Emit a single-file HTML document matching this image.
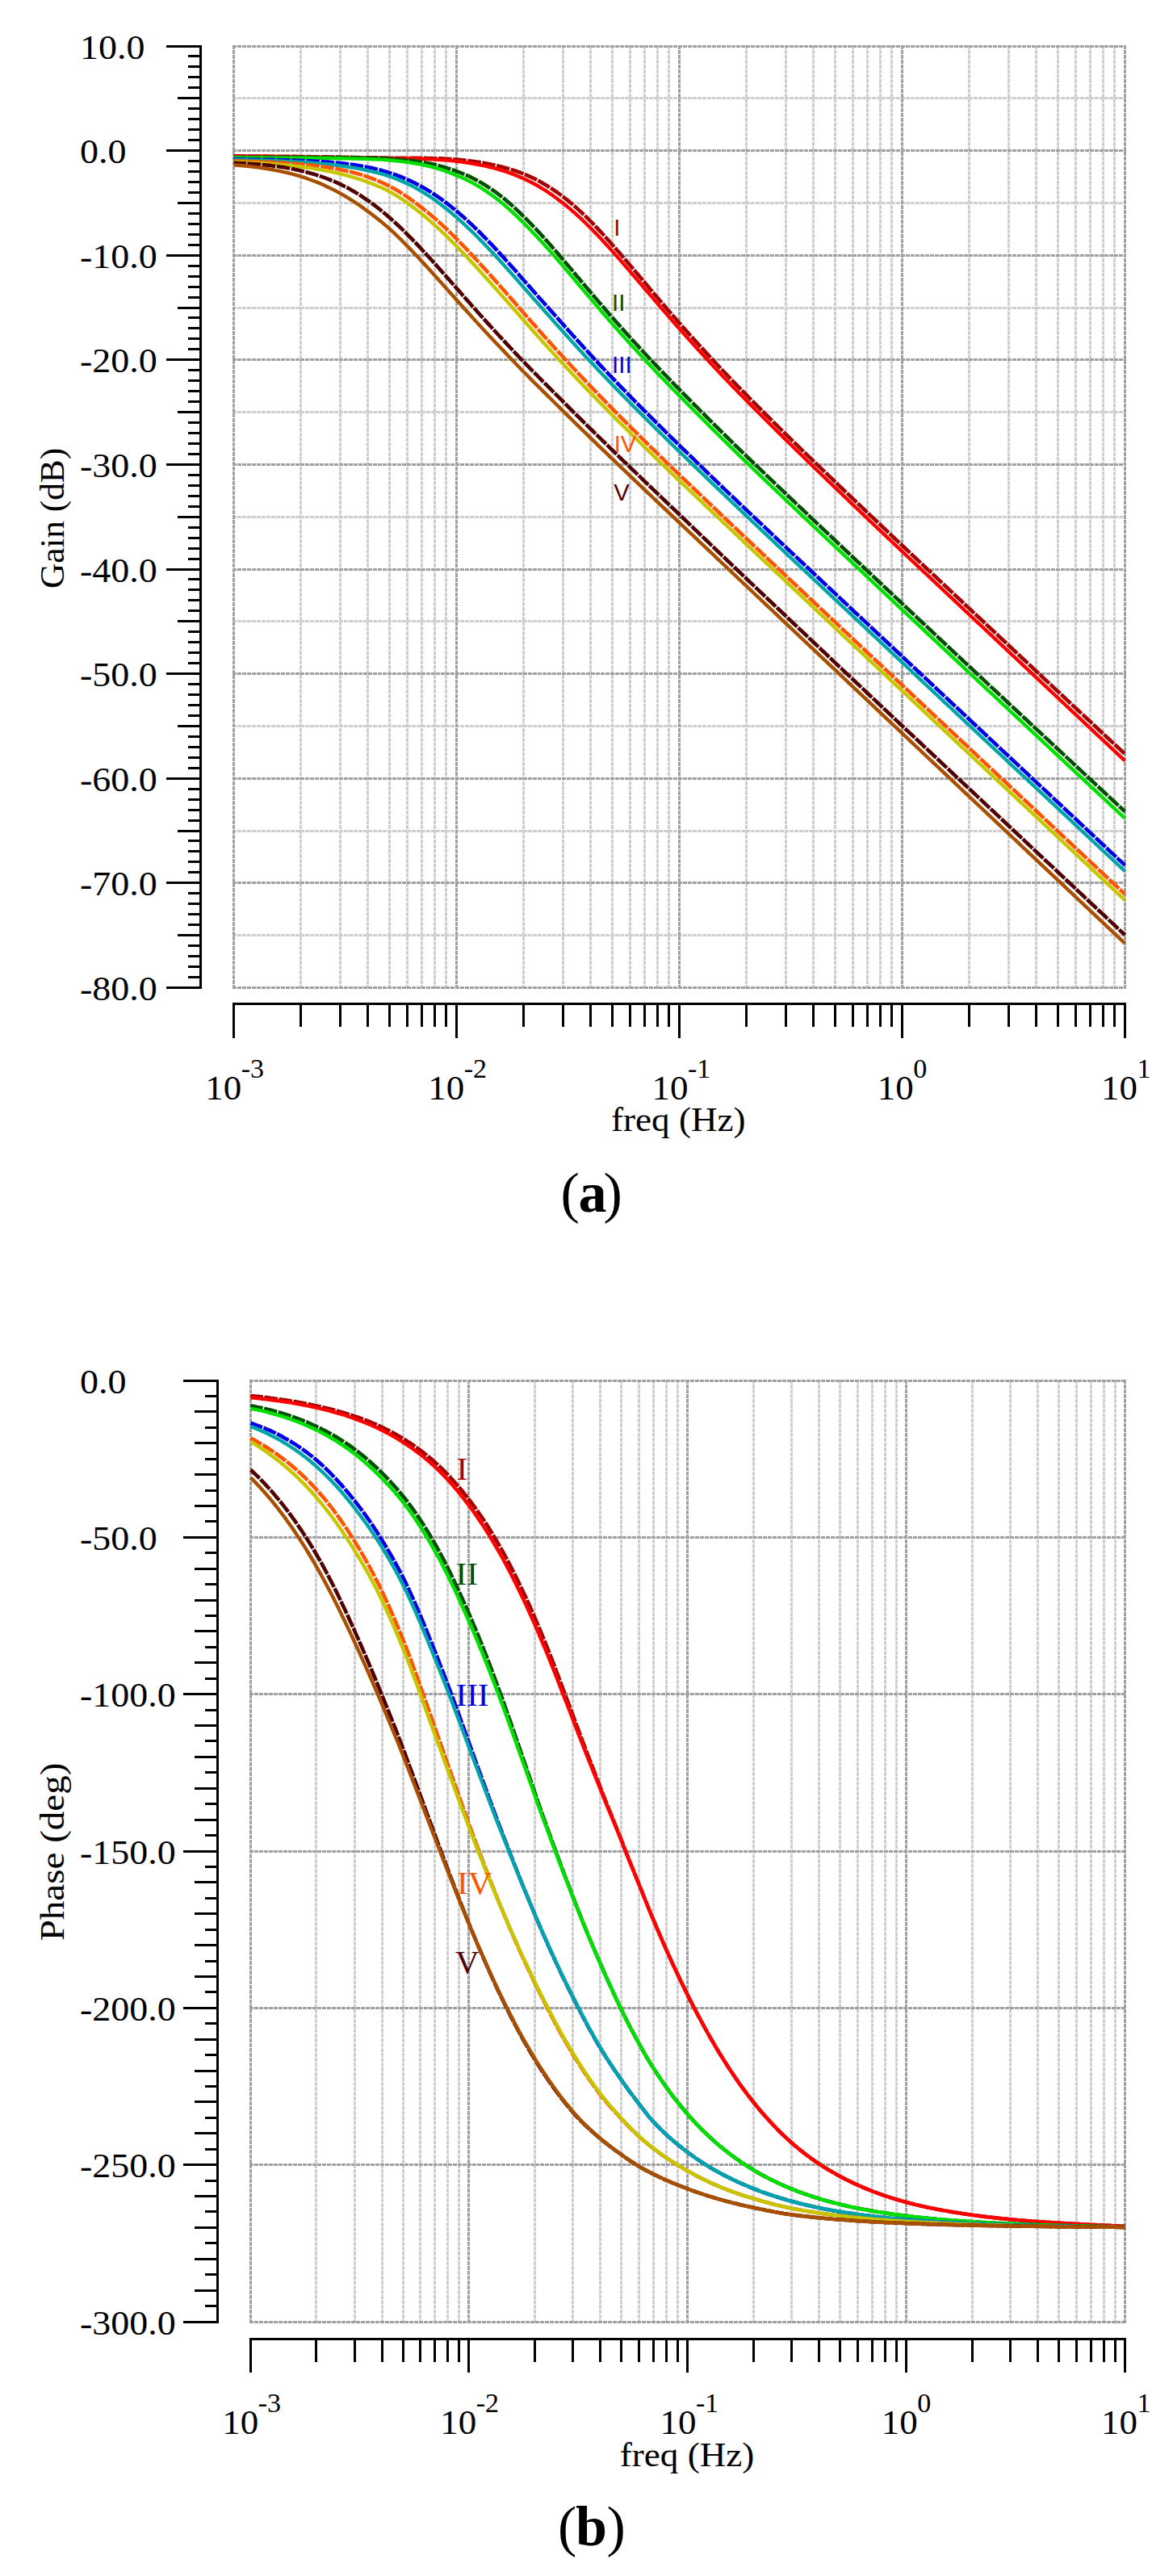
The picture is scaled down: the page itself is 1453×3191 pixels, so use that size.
<!DOCTYPE html>
<html><head><meta charset="utf-8"><title>Bode plots</title>
<style>html,body{margin:0;padding:0;background:#fff}svg{display:block}</style></head>
<body><svg width="1453" height="3191" viewBox="0 0 1453 3191">
<rect width="1453" height="3191" fill="#fff"/>
<path d="M372.5 56.0V1225.0M421.5 56.0V1225.0M455.5 56.0V1225.0M482.5 56.0V1225.0M504.5 56.0V1225.0M522.5 56.0V1225.0M538.5 56.0V1225.0M552.5 56.0V1225.0M648.5 56.0V1225.0M697.5 56.0V1225.0M731.5 56.0V1225.0M758.5 56.0V1225.0M780.5 56.0V1225.0M798.5 56.0V1225.0M814.5 56.0V1225.0M828.5 56.0V1225.0M924.5 56.0V1225.0M973.5 56.0V1225.0M1007.5 56.0V1225.0M1034.5 56.0V1225.0M1056.5 56.0V1225.0M1074.5 56.0V1225.0M1090.5 56.0V1225.0M1104.5 56.0V1225.0M1200.5 56.0V1225.0M1249.5 56.0V1225.0M1283.5 56.0V1225.0M1310.5 56.0V1225.0M1332.5 56.0V1225.0M1350.5 56.0V1225.0M1366.5 56.0V1225.0M1380.5 56.0V1225.0M288.0 121.5H1395.0M288.0 251.5H1395.0M288.0 381.5H1395.0M288.0 510.5H1395.0M288.0 640.5H1395.0M288.0 769.5H1395.0M288.0 899.5H1395.0M288.0 1029.5H1395.0M288.0 1158.5H1395.0" stroke="#cfcfcf" stroke-width="3" stroke-dasharray="5 1" fill="none" shape-rendering="crispEdges"/>
<path d="M289.5 56.0V1225.0M565.5 56.0V1225.0M841.5 56.0V1225.0M1117.5 56.0V1225.0M1393.5 56.0V1225.0M288.0 57.5H1395.0M288.0 186.5H1395.0M288.0 316.5H1395.0M288.0 445.5H1395.0M288.0 575.5H1395.0M288.0 705.5H1395.0M288.0 834.5H1395.0M288.0 964.5H1395.0M288.0 1093.5H1395.0M288.0 1223.5H1395.0" stroke="#a0a0a0" stroke-width="3" stroke-dasharray="5 1" fill="none" shape-rendering="crispEdges"/>
<clipPath id="ca"><rect x="288.5" y="57.5" width="1106.0" height="1166.0"/></clipPath>
<g clip-path="url(#ca)" fill="none">
<path d="M289.5 193.4 L292.3 193.4 L295.0 193.4 L297.8 193.4 L300.5 193.4 L303.3 193.5 L306.1 193.5 L308.8 193.5 L311.6 193.5 L314.3 193.5 L317.1 193.5 L319.9 193.6 L322.6 193.6 L325.4 193.6 L328.1 193.6 L330.9 193.6 L333.7 193.7 L336.4 193.7 L339.2 193.7 L341.9 193.7 L344.7 193.7 L347.5 193.8 L350.2 193.8 L353.0 193.8 L355.7 193.8 L358.5 193.9 L361.3 193.9 L364.0 193.9 L366.8 193.9 L369.5 194.0 L372.3 194.0 L375.1 194.0 L377.8 194.1 L380.6 194.1 L383.3 194.1 L386.1 194.2 L388.9 194.2 L391.6 194.2 L394.4 194.3 L397.1 194.3 L399.9 194.3 L402.7 194.4 L405.4 194.4 L408.2 194.5 L410.9 194.5 L413.7 194.5 L416.5 194.6 L419.2 194.6 L422.0 194.7 L424.7 194.7 L427.5 194.8 L430.3 194.8 L433.0 194.9 L435.8 194.9 L438.5 195.0 L441.3 195.0 L444.1 195.1 L446.8 195.2 L449.6 195.2 L452.3 195.2 L455.1 195.3 L457.9 195.3 L460.6 195.4 L463.4 195.4 L466.1 195.4 L468.9 195.5 L471.7 195.5 L474.4 195.6 L477.2 195.6 L479.9 195.6 L482.7 195.7 L485.5 195.7 L488.2 195.8 L491.0 195.8 L493.7 195.8 L496.5 195.8 L499.3 195.8 L502.0 195.8 L504.8 195.8 L507.5 195.8 L510.3 195.8 L513.1 195.8 L515.8 195.8 L518.6 195.8 L521.3 195.8 L524.1 195.9 L526.9 195.9 L529.6 196.0 L532.4 196.0 L535.1 196.1 L537.9 196.2 L540.7 196.2 L543.4 196.3 L546.2 196.4 L548.9 196.5 L551.7 196.7 L554.5 196.8 L557.2 197.0 L560.0 197.1 L562.7 197.4 L565.5 197.6 L568.3 197.8 L571.0 198.1 L573.8 198.4 L576.5 198.7 L579.3 199.0 L582.1 199.4 L584.8 199.7 L587.6 200.1 L590.3 200.5 L593.1 200.9 L595.9 201.3 L598.6 201.8 L601.4 202.3 L604.1 202.8 L606.9 203.3 L609.7 203.9 L612.4 204.5 L615.2 205.1 L617.9 205.8 L620.7 206.4 L623.5 207.2 L626.2 207.9 L629.0 208.7 L631.7 209.5 L634.5 210.4 L637.3 211.3 L640.0 212.2 L642.8 213.2 L645.5 214.2 L648.3 215.3 L651.1 216.4 L653.8 217.6 L656.6 218.8 L659.3 220.1 L662.1 221.4 L664.9 222.8 L667.6 224.3 L670.4 225.8 L673.1 227.4 L675.9 229.0 L678.7 230.7 L681.4 232.4 L684.2 234.2 L686.9 236.1 L689.7 238.0 L692.5 240.0 L695.2 242.0 L698.0 244.1 L700.7 246.2 L703.5 248.4 L706.3 250.7 L709.0 253.0 L711.8 255.4 L714.5 257.9 L717.3 260.4 L720.1 262.9 L722.8 265.5 L725.6 268.2 L728.3 270.9 L731.1 273.6 L733.9 276.4 L736.6 279.3 L739.4 282.2 L742.1 285.1 L744.9 288.0 L747.7 291.0 L750.4 294.1 L753.2 297.1 L755.9 300.2 L758.7 303.4 L761.5 306.5 L764.2 309.7 L767.0 312.8 L769.7 316.0 L772.5 319.3 L775.3 322.5 L778.0 325.7 L780.8 329.0 L783.5 332.2 L786.3 335.5 L789.1 338.8 L791.8 342.0 L794.6 345.3 L797.3 348.6 L800.1 351.8 L802.9 355.1 L805.6 358.4 L808.4 361.6 L811.1 364.9 L813.9 368.1 L816.7 371.4 L819.4 374.6 L822.2 377.8 L824.9 381.0 L827.7 384.3 L830.5 387.4 L833.2 390.6 L836.0 393.8 L838.7 397.0 L841.5 400.1 L844.3 403.2 L847.0 406.4 L849.8 409.5 L852.5 412.6 L855.3 415.7 L858.1 418.7 L860.8 421.8 L863.6 424.9 L866.3 427.9 L869.1 430.9 L871.9 433.9 L874.6 436.9 L877.4 439.9 L880.1 442.9 L882.9 445.9 L885.7 448.8 L888.4 451.8 L891.2 454.7 L893.9 457.6 L896.7 460.5 L899.5 463.4 L902.2 466.3 L905.0 469.2 L907.7 472.0 L910.5 474.9 L913.3 477.8 L916.0 480.6 L918.8 483.4 L921.5 486.2 L924.3 489.0 L927.1 491.8 L929.8 494.6 L932.6 497.4 L935.3 500.2 L938.1 503.0 L940.9 505.7 L943.6 508.5 L946.4 511.2 L949.1 514.0 L951.9 516.7 L954.7 519.5 L957.4 522.2 L960.2 524.9 L962.9 527.6 L965.7 530.4 L968.5 533.1 L971.2 535.8 L974.0 538.5 L976.7 541.2 L979.5 543.9 L982.3 546.6 L985.0 549.2 L987.8 551.9 L990.5 554.6 L993.3 557.3 L996.1 559.9 L998.8 562.6 L1001.6 565.3 L1004.3 567.9 L1007.1 570.6 L1009.9 573.3 L1012.6 575.9 L1015.4 578.6 L1018.1 581.2 L1020.9 583.9 L1023.7 586.5 L1026.4 589.2 L1029.2 591.8 L1031.9 594.4 L1034.7 597.1 L1037.5 599.7 L1040.2 602.3 L1043.0 605.0 L1045.7 607.6 L1048.5 610.2 L1051.3 612.9 L1054.0 615.5 L1056.8 618.1 L1059.5 620.7 L1062.3 623.4 L1065.1 626.0 L1067.8 628.6 L1070.6 631.2 L1073.3 633.8 L1076.1 636.5 L1078.9 639.1 L1081.6 641.7 L1084.4 644.3 L1087.1 646.9 L1089.9 649.5 L1092.7 652.1 L1095.4 654.7 L1098.2 657.3 L1100.9 660.0 L1103.7 662.6 L1106.5 665.2 L1109.2 667.8 L1112.0 670.4 L1114.7 673.0 L1117.5 675.6 L1120.3 678.2 L1123.0 680.8 L1125.8 683.4 L1128.5 686.0 L1131.3 688.6 L1134.1 691.2 L1136.8 693.8 L1139.6 696.4 L1142.3 699.0 L1145.1 701.6 L1147.9 704.2 L1150.6 706.8 L1153.4 709.3 L1156.1 711.9 L1158.9 714.5 L1161.7 717.1 L1164.4 719.7 L1167.2 722.3 L1169.9 724.9 L1172.7 727.5 L1175.5 730.1 L1178.2 732.7 L1181.0 735.3 L1183.7 737.9 L1186.5 740.5 L1189.3 743.0 L1192.0 745.6 L1194.8 748.2 L1197.5 750.8 L1200.3 753.4 L1203.1 756.0 L1205.8 758.6 L1208.6 761.2 L1211.3 763.8 L1214.1 766.3 L1216.9 768.9 L1219.6 771.5 L1222.4 774.1 L1225.1 776.7 L1227.9 779.3 L1230.7 781.9 L1233.4 784.5 L1236.2 787.0 L1238.9 789.6 L1241.7 792.2 L1244.5 794.8 L1247.2 797.4 L1250.0 800.0 L1252.7 802.5 L1255.5 805.1 L1258.3 807.7 L1261.0 810.3 L1263.8 812.9 L1266.5 815.5 L1269.3 818.0 L1272.1 820.6 L1274.8 823.2 L1277.6 825.8 L1280.3 828.4 L1283.1 831.0 L1285.9 833.5 L1288.6 836.1 L1291.4 838.7 L1294.1 841.3 L1296.9 843.9 L1299.7 846.4 L1302.4 849.0 L1305.2 851.6 L1307.9 854.2 L1310.7 856.8 L1313.5 859.3 L1316.2 861.9 L1319.0 864.5 L1321.7 867.1 L1324.5 869.7 L1327.3 872.2 L1330.0 874.8 L1332.8 877.4 L1335.5 880.0 L1338.3 882.5 L1341.1 885.1 L1343.8 887.7 L1346.6 890.3 L1349.3 892.8 L1352.1 895.4 L1354.9 898.0 L1357.6 900.6 L1360.4 903.2 L1363.1 905.7 L1365.9 908.3 L1368.7 910.9 L1371.4 913.5 L1374.2 916.0 L1376.9 918.6 L1379.7 921.2 L1382.5 923.8 L1385.2 926.3 L1388.0 928.9 L1390.7 931.5 L1393.5 934.0" stroke="#a80000" stroke-width="4.6" stroke-dasharray="16.6 1.6" stroke-dashoffset="1.2"/>
<path d="M289.5 193.4 L292.3 193.4 L295.0 193.4 L297.8 193.5 L300.5 193.5 L303.3 193.6 L306.1 193.6 L308.8 193.6 L311.6 193.7 L314.3 193.7 L317.1 193.7 L319.9 193.8 L322.6 193.8 L325.4 193.8 L328.1 193.9 L330.9 193.9 L333.7 193.9 L336.4 194.0 L339.2 194.0 L341.9 194.1 L344.7 194.1 L347.5 194.1 L350.2 194.2 L353.0 194.2 L355.7 194.2 L358.5 194.3 L361.3 194.3 L364.0 194.4 L366.8 194.4 L369.5 194.4 L372.3 194.5 L375.1 194.5 L377.8 194.6 L380.6 194.6 L383.3 194.6 L386.1 194.7 L388.9 194.7 L391.6 194.8 L394.4 194.8 L397.1 194.9 L399.9 194.9 L402.7 195.0 L405.4 195.0 L408.2 195.1 L410.9 195.1 L413.7 195.2 L416.5 195.2 L419.2 195.3 L422.0 195.3 L424.7 195.3 L427.5 195.4 L430.3 195.4 L433.0 195.5 L435.8 195.5 L438.5 195.6 L441.3 195.6 L444.1 195.7 L446.8 195.7 L449.6 195.8 L452.3 195.8 L455.1 195.9 L457.9 195.9 L460.6 196.0 L463.4 196.0 L466.1 196.0 L468.9 196.0 L471.7 196.1 L474.4 196.1 L477.2 196.1 L479.9 196.1 L482.7 196.2 L485.5 196.2 L488.2 196.2 L491.0 196.3 L493.7 196.3 L496.5 196.3 L499.3 196.4 L502.0 196.4 L504.8 196.4 L507.5 196.5 L510.3 196.5 L513.1 196.6 L515.8 196.7 L518.6 196.7 L521.3 196.8 L524.1 196.9 L526.9 197.0 L529.6 197.1 L532.4 197.3 L535.1 197.4 L537.9 197.5 L540.7 197.7 L543.4 197.8 L546.2 198.0 L548.9 198.2 L551.7 198.4 L554.5 198.6 L557.2 198.8 L560.0 199.1 L562.7 199.4 L565.5 199.7 L568.3 200.0 L571.0 200.4 L573.8 200.8 L576.5 201.2 L579.3 201.6 L582.1 202.0 L584.8 202.5 L587.6 203.0 L590.3 203.5 L593.1 204.0 L595.9 204.6 L598.6 205.1 L601.4 205.7 L604.1 206.4 L606.9 207.0 L609.7 207.7 L612.4 208.4 L615.2 209.2 L617.9 210.0 L620.7 210.8 L623.5 211.6 L626.2 212.5 L629.0 213.5 L631.7 214.4 L634.5 215.4 L637.3 216.5 L640.0 217.6 L642.8 218.7 L645.5 219.9 L648.3 221.1 L651.1 222.4 L653.8 223.7 L656.6 225.1 L659.3 226.5 L662.1 228.0 L664.9 229.5 L667.6 231.1 L670.4 232.8 L673.1 234.5 L675.9 236.2 L678.7 238.0 L681.4 239.9 L684.2 241.8 L686.9 243.8 L689.7 245.8 L692.5 247.9 L695.2 250.0 L698.0 252.1 L700.7 254.3 L703.5 256.6 L706.3 258.9 L709.0 261.3 L711.8 263.7 L714.5 266.2 L717.3 268.7 L720.1 271.2 L722.8 273.9 L725.6 276.5 L728.3 279.2 L731.1 282.0 L733.9 284.8 L736.6 287.6 L739.4 290.4 L742.1 293.3 L744.9 296.3 L747.7 299.2 L750.4 302.2 L753.2 305.3 L755.9 308.3 L758.7 311.4 L761.5 314.5 L764.2 317.6 L767.0 320.7 L769.7 323.9 L772.5 327.0 L775.3 330.2 L778.0 333.4 L780.8 336.6 L783.5 339.8 L786.3 343.1 L789.1 346.3 L791.8 349.5 L794.6 352.7 L797.3 356.0 L800.1 359.2 L802.9 362.4 L805.6 365.7 L808.4 368.9 L811.1 372.1 L813.9 375.3 L816.7 378.5 L819.4 381.8 L822.2 385.0 L824.9 388.1 L827.7 391.3 L830.5 394.5 L833.2 397.7 L836.0 400.8 L838.7 404.0 L841.5 407.1 L844.3 410.2 L847.0 413.4 L849.8 416.5 L852.5 419.6 L855.3 422.6 L858.1 425.7 L860.8 428.8 L863.6 431.8 L866.3 434.8 L869.1 437.8 L871.9 440.8 L874.6 443.8 L877.4 446.8 L880.1 449.8 L882.9 452.7 L885.7 455.7 L888.4 458.6 L891.2 461.5 L893.9 464.5 L896.7 467.4 L899.5 470.2 L902.2 473.1 L905.0 476.0 L907.7 478.9 L910.5 481.7 L913.3 484.5 L916.0 487.4 L918.8 490.2 L921.5 493.0 L924.3 495.8 L927.1 498.6 L929.8 501.4 L932.6 504.2 L935.3 507.0 L938.1 509.7 L940.9 512.5 L943.6 515.3 L946.4 518.0 L949.1 520.8 L951.9 523.5 L954.7 526.3 L957.4 529.0 L960.2 531.7 L962.9 534.5 L965.7 537.2 L968.5 539.9 L971.2 542.6 L974.0 545.3 L976.7 548.0 L979.5 550.7 L982.3 553.4 L985.0 556.1 L987.8 558.8 L990.5 561.5 L993.3 564.2 L996.1 566.9 L998.8 569.6 L1001.6 572.3 L1004.3 574.9 L1007.1 577.6 L1009.9 580.3 L1012.6 583.0 L1015.4 585.6 L1018.1 588.3 L1020.9 591.0 L1023.7 593.6 L1026.4 596.3 L1029.2 598.9 L1031.9 601.6 L1034.7 604.2 L1037.5 606.9 L1040.2 609.5 L1043.0 612.2 L1045.7 614.8 L1048.5 617.5 L1051.3 620.1 L1054.0 622.8 L1056.8 625.4 L1059.5 628.0 L1062.3 630.7 L1065.1 633.3 L1067.8 635.9 L1070.6 638.6 L1073.3 641.2 L1076.1 643.8 L1078.9 646.5 L1081.6 649.1 L1084.4 651.7 L1087.1 654.3 L1089.9 656.9 L1092.7 659.6 L1095.4 662.2 L1098.2 664.8 L1100.9 667.4 L1103.7 670.0 L1106.5 672.6 L1109.2 675.2 L1112.0 677.8 L1114.7 680.4 L1117.5 683.1 L1120.3 685.7 L1123.0 688.3 L1125.8 690.9 L1128.5 693.5 L1131.3 696.1 L1134.1 698.7 L1136.8 701.3 L1139.6 703.9 L1142.3 706.5 L1145.1 709.1 L1147.9 711.6 L1150.6 714.2 L1153.4 716.8 L1156.1 719.4 L1158.9 722.0 L1161.7 724.6 L1164.4 727.2 L1167.2 729.8 L1169.9 732.4 L1172.7 735.0 L1175.5 737.6 L1178.2 740.2 L1181.0 742.8 L1183.7 745.4 L1186.5 748.0 L1189.3 750.6 L1192.0 753.2 L1194.8 755.8 L1197.5 758.4 L1200.3 761.0 L1203.1 763.6 L1205.8 766.2 L1208.6 768.8 L1211.3 771.4 L1214.1 773.9 L1216.9 776.5 L1219.6 779.1 L1222.4 781.7 L1225.1 784.3 L1227.9 786.9 L1230.7 789.5 L1233.4 792.1 L1236.2 794.7 L1238.9 797.3 L1241.7 799.9 L1244.5 802.5 L1247.2 805.1 L1250.0 807.7 L1252.7 810.3 L1255.5 812.8 L1258.3 815.4 L1261.0 818.0 L1263.8 820.6 L1266.5 823.2 L1269.3 825.8 L1272.1 828.4 L1274.8 831.0 L1277.6 833.6 L1280.3 836.2 L1283.1 838.8 L1285.9 841.4 L1288.6 844.0 L1291.4 846.6 L1294.1 849.1 L1296.9 851.7 L1299.7 854.3 L1302.4 856.9 L1305.2 859.5 L1307.9 862.1 L1310.7 864.7 L1313.5 867.3 L1316.2 869.9 L1319.0 872.5 L1321.7 875.1 L1324.5 877.7 L1327.3 880.3 L1330.0 882.8 L1332.8 885.4 L1335.5 888.0 L1338.3 890.6 L1341.1 893.2 L1343.8 895.8 L1346.6 898.4 L1349.3 901.0 L1352.1 903.6 L1354.9 906.2 L1357.6 908.8 L1360.4 911.4 L1363.1 914.0 L1365.9 916.5 L1368.7 919.1 L1371.4 921.7 L1374.2 924.3 L1376.9 926.9 L1379.7 929.5 L1382.5 932.1 L1385.2 934.7 L1388.0 937.3 L1390.7 939.9 L1393.5 942.5" stroke="#ff0000" stroke-width="4.4"/>
<path d="M289.5 194.7 L292.3 194.7 L295.0 194.7 L297.8 194.7 L300.5 194.7 L303.3 194.7 L306.1 194.7 L308.8 194.7 L311.6 194.7 L314.3 194.7 L317.1 194.7 L319.9 194.7 L322.6 194.7 L325.4 194.7 L328.1 194.7 L330.9 194.7 L333.7 194.7 L336.4 194.7 L339.2 194.8 L341.9 194.8 L344.7 194.8 L347.5 194.8 L350.2 194.8 L353.0 194.8 L355.7 194.8 L358.5 194.8 L361.3 194.8 L364.0 194.8 L366.8 194.8 L369.5 194.8 L372.3 194.9 L375.1 194.9 L377.8 194.9 L380.6 194.9 L383.3 194.9 L386.1 194.9 L388.9 194.9 L391.6 194.9 L394.4 195.0 L397.1 195.0 L399.9 195.0 L402.7 195.0 L405.4 195.0 L408.2 195.0 L410.9 195.1 L413.7 195.1 L416.5 195.1 L419.2 195.1 L422.0 195.2 L424.7 195.2 L427.5 195.2 L430.3 195.3 L433.0 195.3 L435.8 195.3 L438.5 195.4 L441.3 195.4 L444.1 195.5 L446.8 195.5 L449.6 195.6 L452.3 195.6 L455.1 195.7 L457.9 195.8 L460.6 195.8 L463.4 195.9 L466.1 196.0 L468.9 196.0 L471.7 196.1 L474.4 196.2 L477.2 196.4 L479.9 196.5 L482.7 196.7 L485.5 196.8 L488.2 197.0 L491.0 197.2 L493.7 197.5 L496.5 197.7 L499.3 197.9 L502.0 198.2 L504.8 198.5 L507.5 198.8 L510.3 199.1 L513.1 199.4 L515.8 199.8 L518.6 200.2 L521.3 200.6 L524.1 201.0 L526.9 201.5 L529.6 202.0 L532.4 202.6 L535.1 203.2 L537.9 203.8 L540.7 204.5 L543.4 205.2 L546.2 205.9 L548.9 206.7 L551.7 207.5 L554.5 208.4 L557.2 209.2 L560.0 210.1 L562.7 211.1 L565.5 212.1 L568.3 213.1 L571.0 214.2 L573.8 215.3 L576.5 216.5 L579.3 217.7 L582.1 218.9 L584.8 220.3 L587.6 221.7 L590.3 223.1 L593.1 224.6 L595.9 226.2 L598.6 227.8 L601.4 229.5 L604.1 231.3 L606.9 233.1 L609.7 235.0 L612.4 236.9 L615.2 238.9 L617.9 241.0 L620.7 243.1 L623.5 245.3 L626.2 247.6 L629.0 249.9 L631.7 252.3 L634.5 254.7 L637.3 257.2 L640.0 259.8 L642.8 262.4 L645.5 265.1 L648.3 267.8 L651.1 270.5 L653.8 273.3 L656.6 276.1 L659.3 279.0 L662.1 281.9 L664.9 284.8 L667.6 287.8 L670.4 290.8 L673.1 293.8 L675.9 296.9 L678.7 300.0 L681.4 303.1 L684.2 306.2 L686.9 309.4 L689.7 312.5 L692.5 315.7 L695.2 319.0 L698.0 322.2 L700.7 325.5 L703.5 328.7 L706.3 332.0 L709.0 335.3 L711.8 338.6 L714.5 341.9 L717.3 345.1 L720.1 348.4 L722.8 351.7 L725.6 355.0 L728.3 358.2 L731.1 361.5 L733.9 364.7 L736.6 368.0 L739.4 371.2 L742.1 374.4 L744.9 377.6 L747.7 380.8 L750.4 384.0 L753.2 387.2 L755.9 390.4 L758.7 393.5 L761.5 396.7 L764.2 399.8 L767.0 402.9 L769.7 406.0 L772.5 409.1 L775.3 412.2 L778.0 415.3 L780.8 418.3 L783.5 421.4 L786.3 424.4 L789.1 427.4 L791.8 430.4 L794.6 433.4 L797.3 436.3 L800.1 439.3 L802.9 442.3 L805.6 445.2 L808.4 448.1 L811.1 451.0 L813.9 453.9 L816.7 456.8 L819.4 459.7 L822.2 462.6 L824.9 465.4 L827.7 468.3 L830.5 471.1 L833.2 474.0 L836.0 476.8 L838.7 479.6 L841.5 482.4 L844.3 485.2 L847.0 488.0 L849.8 490.8 L852.5 493.6 L855.3 496.4 L858.1 499.2 L860.8 502.0 L863.6 504.7 L866.3 507.5 L869.1 510.3 L871.9 513.0 L874.6 515.8 L877.4 518.6 L880.1 521.3 L882.9 524.1 L885.7 526.8 L888.4 529.5 L891.2 532.3 L893.9 535.0 L896.7 537.7 L899.5 540.5 L902.2 543.2 L905.0 545.9 L907.7 548.6 L910.5 551.3 L913.3 554.0 L916.0 556.6 L918.8 559.3 L921.5 562.0 L924.3 564.7 L927.1 567.3 L929.8 570.0 L932.6 572.6 L935.3 575.3 L938.1 577.9 L940.9 580.6 L943.6 583.2 L946.4 585.8 L949.1 588.5 L951.9 591.1 L954.7 593.8 L957.4 596.4 L960.2 599.0 L962.9 601.7 L965.7 604.3 L968.5 606.9 L971.2 609.5 L974.0 612.2 L976.7 614.8 L979.5 617.4 L982.3 620.0 L985.0 622.6 L987.8 625.3 L990.5 627.9 L993.3 630.5 L996.1 633.1 L998.8 635.7 L1001.6 638.3 L1004.3 641.0 L1007.1 643.6 L1009.9 646.2 L1012.6 648.8 L1015.4 651.4 L1018.1 654.0 L1020.9 656.6 L1023.7 659.2 L1026.4 661.8 L1029.2 664.4 L1031.9 667.0 L1034.7 669.7 L1037.5 672.3 L1040.2 674.9 L1043.0 677.5 L1045.7 680.1 L1048.5 682.7 L1051.3 685.3 L1054.0 687.9 L1056.8 690.5 L1059.5 693.1 L1062.3 695.7 L1065.1 698.3 L1067.8 700.9 L1070.6 703.5 L1073.3 706.1 L1076.1 708.7 L1078.9 711.3 L1081.6 713.9 L1084.4 716.5 L1087.1 719.1 L1089.9 721.7 L1092.7 724.3 L1095.4 726.9 L1098.2 729.5 L1100.9 732.1 L1103.7 734.6 L1106.5 737.2 L1109.2 739.8 L1112.0 742.4 L1114.7 745.0 L1117.5 747.6 L1120.3 750.2 L1123.0 752.8 L1125.8 755.4 L1128.5 758.0 L1131.3 760.6 L1134.1 763.2 L1136.8 765.8 L1139.6 768.4 L1142.3 771.0 L1145.1 773.5 L1147.9 776.1 L1150.6 778.7 L1153.4 781.3 L1156.1 783.9 L1158.9 786.5 L1161.7 789.1 L1164.4 791.7 L1167.2 794.2 L1169.9 796.8 L1172.7 799.4 L1175.5 802.0 L1178.2 804.6 L1181.0 807.2 L1183.7 809.8 L1186.5 812.3 L1189.3 814.9 L1192.0 817.5 L1194.8 820.1 L1197.5 822.7 L1200.3 825.3 L1203.1 827.8 L1205.8 830.4 L1208.6 833.0 L1211.3 835.6 L1214.1 838.2 L1216.9 840.7 L1219.6 843.3 L1222.4 845.9 L1225.1 848.5 L1227.9 851.1 L1230.7 853.6 L1233.4 856.2 L1236.2 858.8 L1238.9 861.4 L1241.7 863.9 L1244.5 866.5 L1247.2 869.1 L1250.0 871.7 L1252.7 874.3 L1255.5 876.8 L1258.3 879.4 L1261.0 882.0 L1263.8 884.6 L1266.5 887.1 L1269.3 889.7 L1272.1 892.3 L1274.8 894.9 L1277.6 897.4 L1280.3 900.0 L1283.1 902.6 L1285.9 905.1 L1288.6 907.7 L1291.4 910.3 L1294.1 912.9 L1296.9 915.4 L1299.7 918.0 L1302.4 920.6 L1305.2 923.2 L1307.9 925.7 L1310.7 928.3 L1313.5 930.9 L1316.2 933.4 L1319.0 936.0 L1321.7 938.6 L1324.5 941.1 L1327.3 943.7 L1330.0 946.3 L1332.8 948.9 L1335.5 951.4 L1338.3 954.0 L1341.1 956.6 L1343.8 959.1 L1346.6 961.7 L1349.3 964.3 L1352.1 966.8 L1354.9 969.4 L1357.6 972.0 L1360.4 974.5 L1363.1 977.1 L1365.9 979.7 L1368.7 982.2 L1371.4 984.8 L1374.2 987.4 L1376.9 989.9 L1379.7 992.5 L1382.5 995.1 L1385.2 997.6 L1388.0 1000.2 L1390.7 1002.8 L1393.5 1005.3" stroke="#005000" stroke-width="4.6" stroke-dasharray="16.6 1.6" stroke-dashoffset="1.2"/>
<path d="M289.5 195.5 L292.3 195.5 L295.0 195.5 L297.8 195.5 L300.5 195.5 L303.3 195.5 L306.1 195.5 L308.8 195.5 L311.6 195.5 L314.3 195.5 L317.1 195.5 L319.9 195.5 L322.6 195.5 L325.4 195.5 L328.1 195.5 L330.9 195.6 L333.7 195.6 L336.4 195.6 L339.2 195.6 L341.9 195.6 L344.7 195.6 L347.5 195.6 L350.2 195.6 L353.0 195.6 L355.7 195.6 L358.5 195.6 L361.3 195.7 L364.0 195.7 L366.8 195.7 L369.5 195.7 L372.3 195.7 L375.1 195.8 L377.8 195.8 L380.6 195.8 L383.3 195.8 L386.1 195.8 L388.9 195.9 L391.6 195.9 L394.4 195.9 L397.1 195.9 L399.9 195.9 L402.7 196.0 L405.4 196.0 L408.2 196.0 L410.9 196.1 L413.7 196.1 L416.5 196.1 L419.2 196.2 L422.0 196.2 L424.7 196.3 L427.5 196.3 L430.3 196.4 L433.0 196.4 L435.8 196.5 L438.5 196.5 L441.3 196.6 L444.1 196.6 L446.8 196.7 L449.6 196.8 L452.3 196.9 L455.1 197.0 L457.9 197.1 L460.6 197.2 L463.4 197.3 L466.1 197.4 L468.9 197.5 L471.7 197.6 L474.4 197.8 L477.2 198.0 L479.9 198.2 L482.7 198.5 L485.5 198.7 L488.2 199.0 L491.0 199.3 L493.7 199.6 L496.5 199.9 L499.3 200.3 L502.0 200.6 L504.8 201.0 L507.5 201.4 L510.3 201.8 L513.1 202.3 L515.8 202.7 L518.6 203.2 L521.3 203.7 L524.1 204.3 L526.9 204.8 L529.6 205.5 L532.4 206.1 L535.1 206.9 L537.9 207.6 L540.7 208.4 L543.4 209.2 L546.2 210.1 L548.9 211.0 L551.7 212.0 L554.5 213.0 L557.2 214.0 L560.0 215.0 L562.7 216.1 L565.5 217.2 L568.3 218.4 L571.0 219.6 L573.8 220.8 L576.5 222.1 L579.3 223.5 L582.1 224.9 L584.8 226.3 L587.6 227.8 L590.3 229.4 L593.1 231.0 L595.9 232.7 L598.6 234.5 L601.4 236.3 L604.1 238.1 L606.9 240.1 L609.7 242.0 L612.4 244.1 L615.2 246.2 L617.9 248.3 L620.7 250.6 L623.5 252.9 L626.2 255.2 L629.0 257.6 L631.7 260.0 L634.5 262.5 L637.3 265.1 L640.0 267.7 L642.8 270.4 L645.5 273.1 L648.3 275.8 L651.1 278.6 L653.8 281.4 L656.6 284.3 L659.3 287.2 L662.1 290.1 L664.9 293.0 L667.6 296.0 L670.4 298.9 L673.1 301.9 L675.9 305.0 L678.7 308.0 L681.4 311.1 L684.2 314.2 L686.9 317.4 L689.7 320.5 L692.5 323.7 L695.2 326.9 L698.0 330.2 L700.7 333.4 L703.5 336.7 L706.3 340.0 L709.0 343.2 L711.8 346.5 L714.5 349.8 L717.3 353.0 L720.1 356.3 L722.8 359.6 L725.6 362.8 L728.3 366.1 L731.1 369.3 L733.9 372.6 L736.6 375.8 L739.4 379.0 L742.1 382.2 L744.9 385.5 L747.7 388.7 L750.4 391.8 L753.2 395.0 L755.9 398.2 L758.7 401.3 L761.5 404.5 L764.2 407.6 L767.0 410.7 L769.7 413.8 L772.5 416.9 L775.3 420.0 L778.0 423.0 L780.8 426.1 L783.5 429.1 L786.3 432.1 L789.1 435.1 L791.8 438.1 L794.6 441.1 L797.3 444.1 L800.1 447.0 L802.9 450.0 L805.6 452.9 L808.4 455.8 L811.1 458.8 L813.9 461.7 L816.7 464.5 L819.4 467.4 L822.2 470.3 L824.9 473.2 L827.7 476.0 L830.5 478.9 L833.2 481.7 L836.0 484.5 L838.7 487.3 L841.5 490.1 L844.3 492.9 L847.0 495.7 L849.8 498.5 L852.5 501.3 L855.3 504.1 L858.1 506.9 L860.8 509.7 L863.6 512.5 L866.3 515.2 L869.1 518.0 L871.9 520.8 L874.6 523.5 L877.4 526.3 L880.1 529.1 L882.9 531.8 L885.7 534.5 L888.4 537.3 L891.2 540.0 L893.9 542.8 L896.7 545.5 L899.5 548.2 L902.2 550.9 L905.0 553.6 L907.7 556.3 L910.5 559.0 L913.3 561.7 L916.0 564.4 L918.8 567.1 L921.5 569.7 L924.3 572.4 L927.1 575.1 L929.8 577.7 L932.6 580.4 L935.3 583.0 L938.1 585.6 L940.9 588.3 L943.6 590.9 L946.4 593.6 L949.1 596.2 L951.9 598.8 L954.7 601.5 L957.4 604.1 L960.2 606.7 L962.9 609.4 L965.7 612.0 L968.5 614.6 L971.2 617.2 L974.0 619.9 L976.7 622.5 L979.5 625.1 L982.3 627.7 L985.0 630.3 L987.8 633.0 L990.5 635.6 L993.3 638.2 L996.1 640.8 L998.8 643.4 L1001.6 646.0 L1004.3 648.6 L1007.1 651.3 L1009.9 653.9 L1012.6 656.5 L1015.4 659.1 L1018.1 661.7 L1020.9 664.3 L1023.7 666.9 L1026.4 669.5 L1029.2 672.1 L1031.9 674.7 L1034.7 677.3 L1037.5 679.9 L1040.2 682.5 L1043.0 685.1 L1045.7 687.7 L1048.5 690.3 L1051.3 692.9 L1054.0 695.5 L1056.8 698.1 L1059.5 700.7 L1062.3 703.3 L1065.1 705.9 L1067.8 708.5 L1070.6 711.1 L1073.3 713.7 L1076.1 716.3 L1078.9 718.9 L1081.6 721.5 L1084.4 724.1 L1087.1 726.7 L1089.9 729.3 L1092.7 731.9 L1095.4 734.5 L1098.2 737.1 L1100.9 739.7 L1103.7 742.3 L1106.5 744.9 L1109.2 747.5 L1112.0 750.1 L1114.7 752.7 L1117.5 755.3 L1120.3 757.9 L1123.0 760.5 L1125.8 763.1 L1128.5 765.6 L1131.3 768.2 L1134.1 770.8 L1136.8 773.4 L1139.6 776.0 L1142.3 778.6 L1145.1 781.2 L1147.9 783.8 L1150.6 786.4 L1153.4 789.0 L1156.1 791.6 L1158.9 794.2 L1161.7 796.7 L1164.4 799.3 L1167.2 801.9 L1169.9 804.5 L1172.7 807.1 L1175.5 809.7 L1178.2 812.3 L1181.0 814.9 L1183.7 817.5 L1186.5 820.0 L1189.3 822.6 L1192.0 825.2 L1194.8 827.8 L1197.5 830.4 L1200.3 833.0 L1203.1 835.6 L1205.8 838.2 L1208.6 840.7 L1211.3 843.3 L1214.1 845.9 L1216.9 848.5 L1219.6 851.1 L1222.4 853.7 L1225.1 856.3 L1227.9 858.9 L1230.7 861.4 L1233.4 864.0 L1236.2 866.6 L1238.9 869.2 L1241.7 871.8 L1244.5 874.4 L1247.2 876.9 L1250.0 879.5 L1252.7 882.1 L1255.5 884.7 L1258.3 887.3 L1261.0 889.9 L1263.8 892.5 L1266.5 895.0 L1269.3 897.6 L1272.1 900.2 L1274.8 902.8 L1277.6 905.4 L1280.3 908.0 L1283.1 910.5 L1285.9 913.1 L1288.6 915.7 L1291.4 918.3 L1294.1 920.9 L1296.9 923.4 L1299.7 926.0 L1302.4 928.6 L1305.2 931.2 L1307.9 933.8 L1310.7 936.4 L1313.5 938.9 L1316.2 941.5 L1319.0 944.1 L1321.7 946.7 L1324.5 949.3 L1327.3 951.8 L1330.0 954.4 L1332.8 957.0 L1335.5 959.6 L1338.3 962.2 L1341.1 964.7 L1343.8 967.3 L1346.6 969.9 L1349.3 972.5 L1352.1 975.1 L1354.9 977.6 L1357.6 980.2 L1360.4 982.8 L1363.1 985.4 L1365.9 988.0 L1368.7 990.5 L1371.4 993.1 L1374.2 995.7 L1376.9 998.3 L1379.7 1000.9 L1382.5 1003.4 L1385.2 1006.0 L1388.0 1008.6 L1390.7 1011.2 L1393.5 1013.7" stroke="#00e000" stroke-width="4.4"/>
<path d="M289.5 197.3 L292.3 197.3 L295.0 197.3 L297.8 197.4 L300.5 197.4 L303.3 197.4 L306.1 197.4 L308.8 197.5 L311.6 197.5 L314.3 197.5 L317.1 197.6 L319.9 197.6 L322.6 197.7 L325.4 197.7 L328.1 197.7 L330.9 197.8 L333.7 197.8 L336.4 197.9 L339.2 197.9 L341.9 198.0 L344.7 198.1 L347.5 198.1 L350.2 198.2 L353.0 198.3 L355.7 198.3 L358.5 198.4 L361.3 198.5 L364.0 198.6 L366.8 198.7 L369.5 198.8 L372.3 198.9 L375.1 199.0 L377.8 199.1 L380.6 199.3 L383.3 199.4 L386.1 199.5 L388.9 199.6 L391.6 199.8 L394.4 199.9 L397.1 200.1 L399.9 200.3 L402.7 200.5 L405.4 200.6 L408.2 200.8 L410.9 201.1 L413.7 201.3 L416.5 201.5 L419.2 201.8 L422.0 202.1 L424.7 202.4 L427.5 202.7 L430.3 203.0 L433.0 203.4 L435.8 203.7 L438.5 204.1 L441.3 204.5 L444.1 205.0 L446.8 205.4 L449.6 205.9 L452.3 206.4 L455.1 207.0 L457.9 207.5 L460.6 208.1 L463.4 208.8 L466.1 209.4 L468.9 210.1 L471.7 210.8 L474.4 211.6 L477.2 212.4 L479.9 213.2 L482.7 214.1 L485.5 215.0 L488.2 215.9 L491.0 216.9 L493.7 217.9 L496.5 219.0 L499.3 220.1 L502.0 221.3 L504.8 222.5 L507.5 223.7 L510.3 225.0 L513.1 226.4 L515.8 227.8 L518.6 229.2 L521.3 230.7 L524.1 232.2 L526.9 233.8 L529.6 235.4 L532.4 237.1 L535.1 238.9 L537.9 240.7 L540.7 242.6 L543.4 244.5 L546.2 246.4 L548.9 248.4 L551.7 250.5 L554.5 252.6 L557.2 254.8 L560.0 257.0 L562.7 259.2 L565.5 261.5 L568.3 263.8 L571.0 266.2 L573.8 268.6 L576.5 271.0 L579.3 273.6 L582.1 276.1 L584.8 278.7 L587.6 281.3 L590.3 284.0 L593.1 286.7 L595.9 289.5 L598.6 292.3 L601.4 295.1 L604.1 297.9 L606.9 300.8 L609.7 303.7 L612.4 306.6 L615.2 309.6 L617.9 312.6 L620.7 315.6 L623.5 318.6 L626.2 321.7 L629.0 324.7 L631.7 327.8 L634.5 330.9 L637.3 334.0 L640.0 337.1 L642.8 340.2 L645.5 343.4 L648.3 346.5 L651.1 349.7 L653.8 352.8 L656.6 355.9 L659.3 359.0 L662.1 362.1 L664.9 365.3 L667.6 368.4 L670.4 371.5 L673.1 374.5 L675.9 377.6 L678.7 380.7 L681.4 383.8 L684.2 386.9 L686.9 390.0 L689.7 393.1 L692.5 396.2 L695.2 399.3 L698.0 402.4 L700.7 405.5 L703.5 408.6 L706.3 411.7 L709.0 414.8 L711.8 417.9 L714.5 420.9 L717.3 424.0 L720.1 427.0 L722.8 430.0 L725.6 433.0 L728.3 436.0 L731.1 439.0 L733.9 442.0 L736.6 445.0 L739.4 447.9 L742.1 450.9 L744.9 453.8 L747.7 456.7 L750.4 459.7 L753.2 462.6 L755.9 465.5 L758.7 468.4 L761.5 471.2 L764.2 474.1 L767.0 477.0 L769.7 479.8 L772.5 482.7 L775.3 485.5 L778.0 488.3 L780.8 491.1 L783.5 494.0 L786.3 496.8 L789.1 499.6 L791.8 502.3 L794.6 505.1 L797.3 507.9 L800.1 510.7 L802.9 513.4 L805.6 516.2 L808.4 518.9 L811.1 521.7 L813.9 524.4 L816.7 527.2 L819.4 529.9 L822.2 532.6 L824.9 535.3 L827.7 538.1 L830.5 540.8 L833.2 543.5 L836.0 546.2 L838.7 548.9 L841.5 551.6 L844.3 554.3 L847.0 557.0 L849.8 559.7 L852.5 562.3 L855.3 565.0 L858.1 567.7 L860.8 570.4 L863.6 573.1 L866.3 575.8 L869.1 578.4 L871.9 581.1 L874.6 583.8 L877.4 586.5 L880.1 589.1 L882.9 591.8 L885.7 594.5 L888.4 597.1 L891.2 599.8 L893.9 602.5 L896.7 605.1 L899.5 607.8 L902.2 610.4 L905.0 613.1 L907.7 615.7 L910.5 618.3 L913.3 621.0 L916.0 623.6 L918.8 626.2 L921.5 628.8 L924.3 631.5 L927.1 634.1 L929.8 636.7 L932.6 639.3 L935.3 641.9 L938.1 644.5 L940.9 647.1 L943.6 649.7 L946.4 652.3 L949.1 654.9 L951.9 657.5 L954.7 660.2 L957.4 662.8 L960.2 665.4 L962.9 668.0 L965.7 670.6 L968.5 673.2 L971.2 675.8 L974.0 678.4 L976.7 681.0 L979.5 683.6 L982.3 686.2 L985.0 688.8 L987.8 691.4 L990.5 694.0 L993.3 696.5 L996.1 699.1 L998.8 701.7 L1001.6 704.3 L1004.3 706.9 L1007.1 709.5 L1009.9 712.1 L1012.6 714.7 L1015.4 717.3 L1018.1 719.9 L1020.9 722.5 L1023.7 725.1 L1026.4 727.7 L1029.2 730.3 L1031.9 732.9 L1034.7 735.4 L1037.5 738.0 L1040.2 740.6 L1043.0 743.2 L1045.7 745.8 L1048.5 748.4 L1051.3 751.0 L1054.0 753.6 L1056.8 756.2 L1059.5 758.8 L1062.3 761.4 L1065.1 763.9 L1067.8 766.5 L1070.6 769.1 L1073.3 771.7 L1076.1 774.3 L1078.9 776.9 L1081.6 779.5 L1084.4 782.1 L1087.1 784.7 L1089.9 787.2 L1092.7 789.8 L1095.4 792.4 L1098.2 795.0 L1100.9 797.6 L1103.7 800.2 L1106.5 802.8 L1109.2 805.4 L1112.0 808.0 L1114.7 810.5 L1117.5 813.1 L1120.3 815.7 L1123.0 818.3 L1125.8 820.9 L1128.5 823.5 L1131.3 826.1 L1134.1 828.7 L1136.8 831.3 L1139.6 833.8 L1142.3 836.4 L1145.1 839.0 L1147.9 841.6 L1150.6 844.2 L1153.4 846.8 L1156.1 849.4 L1158.9 852.0 L1161.7 854.6 L1164.4 857.1 L1167.2 859.7 L1169.9 862.3 L1172.7 864.9 L1175.5 867.5 L1178.2 870.1 L1181.0 872.7 L1183.7 875.3 L1186.5 877.8 L1189.3 880.4 L1192.0 883.0 L1194.8 885.6 L1197.5 888.2 L1200.3 890.8 L1203.1 893.4 L1205.8 896.0 L1208.6 898.5 L1211.3 901.1 L1214.1 903.7 L1216.9 906.3 L1219.6 908.9 L1222.4 911.5 L1225.1 914.1 L1227.9 916.6 L1230.7 919.2 L1233.4 921.8 L1236.2 924.4 L1238.9 927.0 L1241.7 929.6 L1244.5 932.2 L1247.2 934.8 L1250.0 937.3 L1252.7 939.9 L1255.5 942.5 L1258.3 945.1 L1261.0 947.7 L1263.8 950.3 L1266.5 952.9 L1269.3 955.4 L1272.1 958.0 L1274.8 960.6 L1277.6 963.2 L1280.3 965.8 L1283.1 968.4 L1285.9 971.0 L1288.6 973.6 L1291.4 976.1 L1294.1 978.7 L1296.9 981.3 L1299.7 983.9 L1302.4 986.5 L1305.2 989.1 L1307.9 991.7 L1310.7 994.2 L1313.5 996.8 L1316.2 999.4 L1319.0 1002.0 L1321.7 1004.6 L1324.5 1007.2 L1327.3 1009.8 L1330.0 1012.3 L1332.8 1014.9 L1335.5 1017.5 L1338.3 1020.1 L1341.1 1022.7 L1343.8 1025.3 L1346.6 1027.9 L1349.3 1030.4 L1352.1 1033.0 L1354.9 1035.6 L1357.6 1038.2 L1360.4 1040.8 L1363.1 1043.4 L1365.9 1046.0 L1368.7 1048.5 L1371.4 1051.1 L1374.2 1053.7 L1376.9 1056.3 L1379.7 1058.9 L1382.5 1061.5 L1385.2 1064.1 L1388.0 1066.6 L1390.7 1069.2 L1393.5 1071.8" stroke="#0000e6" stroke-width="4.6" stroke-dasharray="16.6 1.6" stroke-dashoffset="1.2"/>
<path d="M289.5 198.0 L292.3 198.1 L295.0 198.1 L297.8 198.2 L300.5 198.2 L303.3 198.3 L306.1 198.3 L308.8 198.4 L311.6 198.5 L314.3 198.5 L317.1 198.6 L319.9 198.7 L322.6 198.7 L325.4 198.8 L328.1 198.9 L330.9 199.0 L333.7 199.0 L336.4 199.1 L339.2 199.2 L341.9 199.3 L344.7 199.4 L347.5 199.5 L350.2 199.6 L353.0 199.8 L355.7 199.9 L358.5 200.0 L361.3 200.1 L364.0 200.3 L366.8 200.4 L369.5 200.6 L372.3 200.8 L375.1 200.9 L377.8 201.1 L380.6 201.3 L383.3 201.5 L386.1 201.7 L388.9 201.9 L391.6 202.1 L394.4 202.4 L397.1 202.6 L399.9 202.9 L402.7 203.1 L405.4 203.4 L408.2 203.7 L410.9 204.0 L413.7 204.3 L416.5 204.6 L419.2 205.0 L422.0 205.4 L424.7 205.7 L427.5 206.1 L430.3 206.5 L433.0 207.0 L435.8 207.4 L438.5 207.9 L441.3 208.4 L444.1 208.9 L446.8 209.4 L449.6 210.0 L452.3 210.5 L455.1 211.1 L457.9 211.8 L460.6 212.4 L463.4 213.0 L466.1 213.7 L468.9 214.4 L471.7 215.1 L474.4 215.9 L477.2 216.7 L479.9 217.6 L482.7 218.5 L485.5 219.5 L488.2 220.5 L491.0 221.6 L493.7 222.7 L496.5 223.9 L499.3 225.1 L502.0 226.4 L504.8 227.7 L507.5 229.0 L510.3 230.4 L513.1 231.9 L515.8 233.4 L518.6 234.9 L521.3 236.5 L524.1 238.2 L526.9 239.9 L529.6 241.6 L532.4 243.4 L535.1 245.3 L537.9 247.3 L540.7 249.2 L543.4 251.3 L546.2 253.4 L548.9 255.5 L551.7 257.7 L554.5 259.9 L557.2 262.2 L560.0 264.5 L562.7 266.8 L565.5 269.2 L568.3 271.6 L571.0 274.1 L573.8 276.6 L576.5 279.2 L579.3 281.8 L582.1 284.4 L584.8 287.0 L587.6 289.7 L590.3 292.5 L593.1 295.3 L595.9 298.1 L598.6 300.9 L601.4 303.8 L604.1 306.7 L606.9 309.6 L609.7 312.5 L612.4 315.5 L615.2 318.5 L617.9 321.5 L620.7 324.5 L623.5 327.6 L626.2 330.6 L629.0 333.7 L631.7 336.8 L634.5 339.9 L637.3 343.0 L640.0 346.1 L642.8 349.3 L645.5 352.4 L648.3 355.5 L651.1 358.7 L653.8 361.8 L656.6 364.9 L659.3 368.1 L662.1 371.2 L664.9 374.3 L667.6 377.4 L670.4 380.5 L673.1 383.6 L675.9 386.7 L678.7 389.8 L681.4 392.9 L684.2 396.0 L686.9 399.1 L689.7 402.2 L692.5 405.2 L695.2 408.3 L698.0 411.4 L700.7 414.5 L703.5 417.5 L706.3 420.6 L709.0 423.6 L711.8 426.7 L714.5 429.7 L717.3 432.7 L720.1 435.7 L722.8 438.7 L725.6 441.7 L728.3 444.7 L731.1 447.6 L733.9 450.6 L736.6 453.5 L739.4 456.5 L742.1 459.4 L744.9 462.3 L747.7 465.2 L750.4 468.1 L753.2 471.0 L755.9 473.8 L758.7 476.7 L761.5 479.5 L764.2 482.4 L767.0 485.2 L769.7 488.1 L772.5 490.9 L775.3 493.7 L778.0 496.5 L780.8 499.3 L783.5 502.1 L786.3 504.9 L789.1 507.6 L791.8 510.4 L794.6 513.2 L797.3 515.9 L800.1 518.7 L802.9 521.4 L805.6 524.2 L808.4 526.9 L811.1 529.6 L813.9 532.4 L816.7 535.1 L819.4 537.8 L822.2 540.5 L824.9 543.2 L827.7 545.9 L830.5 548.6 L833.2 551.3 L836.0 554.0 L838.7 556.7 L841.5 559.4 L844.3 562.0 L847.0 564.7 L849.8 567.4 L852.5 570.1 L855.3 572.7 L858.1 575.4 L860.8 578.1 L863.6 580.7 L866.3 583.4 L869.1 586.0 L871.9 588.7 L874.6 591.4 L877.4 594.0 L880.1 596.7 L882.9 599.3 L885.7 602.0 L888.4 604.6 L891.2 607.2 L893.9 609.9 L896.7 612.5 L899.5 615.2 L902.2 617.8 L905.0 620.4 L907.7 623.0 L910.5 625.7 L913.3 628.3 L916.0 630.9 L918.8 633.5 L921.5 636.1 L924.3 638.8 L927.1 641.4 L929.8 644.0 L932.6 646.6 L935.3 649.2 L938.1 651.8 L940.9 654.4 L943.6 657.0 L946.4 659.6 L949.1 662.2 L951.9 664.8 L954.7 667.4 L957.4 670.0 L960.2 672.7 L962.9 675.3 L965.7 677.9 L968.5 680.5 L971.2 683.1 L974.0 685.7 L976.7 688.3 L979.5 690.9 L982.3 693.5 L985.0 696.1 L987.8 698.7 L990.5 701.3 L993.3 703.8 L996.1 706.4 L998.8 709.0 L1001.6 711.6 L1004.3 714.2 L1007.1 716.8 L1009.9 719.4 L1012.6 722.0 L1015.4 724.6 L1018.1 727.2 L1020.9 729.8 L1023.7 732.4 L1026.4 735.0 L1029.2 737.6 L1031.9 740.2 L1034.7 742.8 L1037.5 745.4 L1040.2 748.0 L1043.0 750.6 L1045.7 753.2 L1048.5 755.7 L1051.3 758.3 L1054.0 760.9 L1056.8 763.5 L1059.5 766.1 L1062.3 768.7 L1065.1 771.3 L1067.8 773.9 L1070.6 776.5 L1073.3 779.1 L1076.1 781.7 L1078.9 784.3 L1081.6 786.9 L1084.4 789.5 L1087.1 792.0 L1089.9 794.6 L1092.7 797.2 L1095.4 799.8 L1098.2 802.4 L1100.9 805.0 L1103.7 807.6 L1106.5 810.2 L1109.2 812.8 L1112.0 815.4 L1114.7 818.0 L1117.5 820.5 L1120.3 823.1 L1123.0 825.7 L1125.8 828.3 L1128.5 830.9 L1131.3 833.5 L1134.1 836.1 L1136.8 838.7 L1139.6 841.3 L1142.3 843.9 L1145.1 846.5 L1147.9 849.0 L1150.6 851.6 L1153.4 854.2 L1156.1 856.8 L1158.9 859.4 L1161.7 862.0 L1164.4 864.6 L1167.2 867.2 L1169.9 869.8 L1172.7 872.3 L1175.5 874.9 L1178.2 877.5 L1181.0 880.1 L1183.7 882.7 L1186.5 885.3 L1189.3 887.9 L1192.0 890.5 L1194.8 893.1 L1197.5 895.6 L1200.3 898.2 L1203.1 900.8 L1205.8 903.4 L1208.6 906.0 L1211.3 908.6 L1214.1 911.2 L1216.9 913.8 L1219.6 916.3 L1222.4 918.9 L1225.1 921.5 L1227.9 924.1 L1230.7 926.7 L1233.4 929.3 L1236.2 931.9 L1238.9 934.4 L1241.7 937.0 L1244.5 939.6 L1247.2 942.2 L1250.0 944.8 L1252.7 947.4 L1255.5 950.0 L1258.3 952.5 L1261.0 955.1 L1263.8 957.7 L1266.5 960.3 L1269.3 962.9 L1272.1 965.5 L1274.8 968.1 L1277.6 970.6 L1280.3 973.2 L1283.1 975.8 L1285.9 978.4 L1288.6 981.0 L1291.4 983.6 L1294.1 986.2 L1296.9 988.7 L1299.7 991.3 L1302.4 993.9 L1305.2 996.5 L1307.9 999.1 L1310.7 1001.7 L1313.5 1004.3 L1316.2 1006.8 L1319.0 1009.4 L1321.7 1012.0 L1324.5 1014.6 L1327.3 1017.2 L1330.0 1019.8 L1332.8 1022.3 L1335.5 1024.9 L1338.3 1027.5 L1341.1 1030.1 L1343.8 1032.7 L1346.6 1035.3 L1349.3 1037.9 L1352.1 1040.4 L1354.9 1043.0 L1357.6 1045.6 L1360.4 1048.2 L1363.1 1050.8 L1365.9 1053.4 L1368.7 1055.9 L1371.4 1058.5 L1374.2 1061.1 L1376.9 1063.7 L1379.7 1066.3 L1382.5 1068.9 L1385.2 1071.4 L1388.0 1074.0 L1390.7 1076.6 L1393.5 1079.2" stroke="#00a5a8" stroke-width="4.4"/>
<path d="M289.5 199.5 L292.3 199.5 L295.0 199.6 L297.8 199.6 L300.5 199.7 L303.3 199.8 L306.1 199.9 L308.8 199.9 L311.6 200.0 L314.3 200.1 L317.1 200.2 L319.9 200.3 L322.6 200.4 L325.4 200.5 L328.1 200.6 L330.9 200.7 L333.7 200.8 L336.4 200.9 L339.2 201.1 L341.9 201.2 L344.7 201.3 L347.5 201.5 L350.2 201.7 L353.0 201.8 L355.7 202.0 L358.5 202.2 L361.3 202.4 L364.0 202.6 L366.8 202.8 L369.5 203.1 L372.3 203.3 L375.1 203.5 L377.8 203.8 L380.6 204.1 L383.3 204.4 L386.1 204.7 L388.9 205.0 L391.6 205.3 L394.4 205.7 L397.1 206.0 L399.9 206.4 L402.7 206.8 L405.4 207.2 L408.2 207.7 L410.9 208.1 L413.7 208.6 L416.5 209.1 L419.2 209.6 L422.0 210.2 L424.7 210.7 L427.5 211.3 L430.3 211.9 L433.0 212.6 L435.8 213.2 L438.5 213.9 L441.3 214.7 L444.1 215.4 L446.8 216.3 L449.6 217.1 L452.3 218.0 L455.1 218.9 L457.9 219.9 L460.6 221.0 L463.4 222.0 L466.1 223.1 L468.9 224.3 L471.7 225.5 L474.4 226.8 L477.2 228.0 L479.9 229.4 L482.7 230.8 L485.5 232.2 L488.2 233.7 L491.0 235.3 L493.7 237.0 L496.5 238.7 L499.3 240.5 L502.0 242.3 L504.8 244.2 L507.5 246.1 L510.3 248.1 L513.1 250.1 L515.8 252.2 L518.6 254.3 L521.3 256.4 L524.1 258.5 L526.9 260.7 L529.6 262.9 L532.4 265.2 L535.1 267.5 L537.9 269.9 L540.7 272.3 L543.4 274.7 L546.2 277.2 L548.9 279.8 L551.7 282.4 L554.5 285.0 L557.2 287.7 L560.0 290.4 L562.7 293.1 L565.5 295.9 L568.3 298.7 L571.0 301.6 L573.8 304.4 L576.5 307.3 L579.3 310.2 L582.1 313.1 L584.8 316.1 L587.6 319.1 L590.3 322.0 L593.1 325.0 L595.9 328.1 L598.6 331.1 L601.4 334.1 L604.1 337.2 L606.9 340.3 L609.7 343.4 L612.4 346.4 L615.2 349.5 L617.9 352.7 L620.7 355.8 L623.5 358.9 L626.2 362.0 L629.0 365.2 L631.7 368.3 L634.5 371.4 L637.3 374.6 L640.0 377.7 L642.8 380.9 L645.5 384.1 L648.3 387.2 L651.1 390.4 L653.8 393.5 L656.6 396.7 L659.3 399.8 L662.1 402.9 L664.9 406.1 L667.6 409.2 L670.4 412.3 L673.1 415.4 L675.9 418.5 L678.7 421.5 L681.4 424.6 L684.2 427.7 L686.9 430.7 L689.7 433.8 L692.5 436.8 L695.2 439.8 L698.0 442.8 L700.7 445.8 L703.5 448.8 L706.3 451.8 L709.0 454.7 L711.8 457.7 L714.5 460.6 L717.3 463.6 L720.1 466.5 L722.8 469.4 L725.6 472.3 L728.3 475.2 L731.1 478.1 L733.9 481.0 L736.6 483.9 L739.4 486.7 L742.1 489.6 L744.9 492.4 L747.7 495.3 L750.4 498.1 L753.2 500.9 L755.9 503.7 L758.7 506.5 L761.5 509.3 L764.2 512.1 L767.0 514.9 L769.7 517.7 L772.5 520.5 L775.3 523.2 L778.0 526.0 L780.8 528.7 L783.5 531.5 L786.3 534.2 L789.1 537.0 L791.8 539.7 L794.6 542.4 L797.3 545.2 L800.1 547.9 L802.9 550.6 L805.6 553.3 L808.4 556.0 L811.1 558.7 L813.9 561.4 L816.7 564.1 L819.4 566.8 L822.2 569.4 L824.9 572.1 L827.7 574.8 L830.5 577.5 L833.2 580.1 L836.0 582.8 L838.7 585.4 L841.5 588.1 L844.3 590.7 L847.0 593.4 L849.8 596.0 L852.5 598.7 L855.3 601.3 L858.1 604.0 L860.8 606.6 L863.6 609.2 L866.3 611.9 L869.1 614.5 L871.9 617.1 L874.6 619.8 L877.4 622.4 L880.1 625.0 L882.9 627.7 L885.7 630.3 L888.4 632.9 L891.2 635.5 L893.9 638.1 L896.7 640.8 L899.5 643.4 L902.2 646.0 L905.0 648.6 L907.7 651.2 L910.5 653.8 L913.3 656.4 L916.0 659.1 L918.8 661.7 L921.5 664.3 L924.3 666.9 L927.1 669.5 L929.8 672.1 L932.6 674.7 L935.3 677.3 L938.1 679.9 L940.9 682.5 L943.6 685.1 L946.4 687.7 L949.1 690.4 L951.9 693.0 L954.7 695.6 L957.4 698.2 L960.2 700.8 L962.9 703.4 L965.7 706.0 L968.5 708.6 L971.2 711.2 L974.0 713.8 L976.7 716.4 L979.5 719.0 L982.3 721.6 L985.0 724.2 L987.8 726.8 L990.5 729.4 L993.3 732.0 L996.1 734.6 L998.8 737.2 L1001.6 739.8 L1004.3 742.4 L1007.1 745.0 L1009.9 747.6 L1012.6 750.2 L1015.4 752.8 L1018.1 755.4 L1020.9 758.0 L1023.7 760.6 L1026.4 763.2 L1029.2 765.7 L1031.9 768.3 L1034.7 770.9 L1037.5 773.5 L1040.2 776.1 L1043.0 778.7 L1045.7 781.3 L1048.5 783.9 L1051.3 786.5 L1054.0 789.1 L1056.8 791.7 L1059.5 794.3 L1062.3 796.9 L1065.1 799.5 L1067.8 802.1 L1070.6 804.7 L1073.3 807.3 L1076.1 809.9 L1078.9 812.5 L1081.6 815.1 L1084.4 817.7 L1087.1 820.2 L1089.9 822.8 L1092.7 825.4 L1095.4 828.0 L1098.2 830.6 L1100.9 833.2 L1103.7 835.8 L1106.5 838.4 L1109.2 841.0 L1112.0 843.6 L1114.7 846.2 L1117.5 848.8 L1120.3 851.4 L1123.0 854.0 L1125.8 856.5 L1128.5 859.1 L1131.3 861.7 L1134.1 864.3 L1136.8 866.9 L1139.6 869.5 L1142.3 872.1 L1145.1 874.7 L1147.9 877.3 L1150.6 879.9 L1153.4 882.5 L1156.1 885.1 L1158.9 887.7 L1161.7 890.2 L1164.4 892.8 L1167.2 895.4 L1169.9 898.0 L1172.7 900.6 L1175.5 903.2 L1178.2 905.8 L1181.0 908.4 L1183.7 911.0 L1186.5 913.6 L1189.3 916.2 L1192.0 918.7 L1194.8 921.3 L1197.5 923.9 L1200.3 926.5 L1203.1 929.1 L1205.8 931.7 L1208.6 934.3 L1211.3 936.9 L1214.1 939.5 L1216.9 942.1 L1219.6 944.6 L1222.4 947.2 L1225.1 949.8 L1227.9 952.4 L1230.7 955.0 L1233.4 957.6 L1236.2 960.2 L1238.9 962.8 L1241.7 965.4 L1244.5 968.0 L1247.2 970.5 L1250.0 973.1 L1252.7 975.7 L1255.5 978.3 L1258.3 980.9 L1261.0 983.5 L1263.8 986.1 L1266.5 988.7 L1269.3 991.3 L1272.1 993.8 L1274.8 996.4 L1277.6 999.0 L1280.3 1001.6 L1283.1 1004.2 L1285.9 1006.8 L1288.6 1009.4 L1291.4 1012.0 L1294.1 1014.6 L1296.9 1017.1 L1299.7 1019.7 L1302.4 1022.3 L1305.2 1024.9 L1307.9 1027.5 L1310.7 1030.1 L1313.5 1032.7 L1316.2 1035.3 L1319.0 1037.9 L1321.7 1040.4 L1324.5 1043.0 L1327.3 1045.6 L1330.0 1048.2 L1332.8 1050.8 L1335.5 1053.4 L1338.3 1056.0 L1341.1 1058.6 L1343.8 1061.1 L1346.6 1063.7 L1349.3 1066.3 L1352.1 1068.9 L1354.9 1071.5 L1357.6 1074.1 L1360.4 1076.7 L1363.1 1079.3 L1365.9 1081.8 L1368.7 1084.4 L1371.4 1087.0 L1374.2 1089.6 L1376.9 1092.2 L1379.7 1094.8 L1382.5 1097.4 L1385.2 1099.9 L1388.0 1102.5 L1390.7 1105.1 L1393.5 1107.7" stroke="#ff5500" stroke-width="4.6" stroke-dasharray="16.6 1.6" stroke-dashoffset="1.2"/>
<path d="M289.5 200.5 L292.3 200.6 L295.0 200.7 L297.8 200.9 L300.5 201.0 L303.3 201.1 L306.1 201.2 L308.8 201.4 L311.6 201.5 L314.3 201.7 L317.1 201.8 L319.9 202.0 L322.6 202.2 L325.4 202.3 L328.1 202.5 L330.9 202.7 L333.7 202.9 L336.4 203.1 L339.2 203.3 L341.9 203.5 L344.7 203.7 L347.5 204.0 L350.2 204.2 L353.0 204.5 L355.7 204.7 L358.5 205.0 L361.3 205.3 L364.0 205.6 L366.8 205.9 L369.5 206.2 L372.3 206.5 L375.1 206.9 L377.8 207.2 L380.6 207.6 L383.3 208.0 L386.1 208.4 L388.9 208.9 L391.6 209.3 L394.4 209.8 L397.1 210.2 L399.9 210.7 L402.7 211.3 L405.4 211.8 L408.2 212.4 L410.9 212.9 L413.7 213.5 L416.5 214.2 L419.2 214.8 L422.0 215.5 L424.7 216.2 L427.5 216.9 L430.3 217.6 L433.0 218.4 L435.8 219.2 L438.5 220.0 L441.3 220.8 L444.1 221.7 L446.8 222.5 L449.6 223.5 L452.3 224.4 L455.1 225.4 L457.9 226.5 L460.6 227.5 L463.4 228.6 L466.1 229.7 L468.9 230.9 L471.7 232.1 L474.4 233.3 L477.2 234.6 L479.9 236.0 L482.7 237.5 L485.5 239.0 L488.2 240.6 L491.0 242.3 L493.7 244.0 L496.5 245.8 L499.3 247.7 L502.0 249.6 L504.8 251.5 L507.5 253.5 L510.3 255.6 L513.1 257.6 L515.8 259.8 L518.6 261.9 L521.3 264.1 L524.1 266.4 L526.9 268.7 L529.6 271.0 L532.4 273.4 L535.1 275.8 L537.9 278.3 L540.7 280.8 L543.4 283.3 L546.2 285.9 L548.9 288.5 L551.7 291.2 L554.5 293.9 L557.2 296.6 L560.0 299.4 L562.7 302.2 L565.5 305.0 L568.3 307.8 L571.0 310.7 L573.8 313.6 L576.5 316.5 L579.3 319.4 L582.1 322.4 L584.8 325.4 L587.6 328.3 L590.3 331.3 L593.1 334.3 L595.9 337.4 L598.6 340.4 L601.4 343.5 L604.1 346.5 L606.9 349.6 L609.7 352.7 L612.4 355.8 L615.2 358.8 L617.9 361.9 L620.7 365.1 L623.5 368.2 L626.2 371.3 L629.0 374.4 L631.7 377.5 L634.5 380.6 L637.3 383.8 L640.0 386.9 L642.8 390.0 L645.5 393.2 L648.3 396.3 L651.1 399.4 L653.8 402.6 L656.6 405.7 L659.3 408.8 L662.1 411.9 L664.9 415.0 L667.6 418.1 L670.4 421.1 L673.1 424.2 L675.9 427.3 L678.7 430.3 L681.4 433.3 L684.2 436.4 L686.9 439.4 L689.7 442.4 L692.5 445.4 L695.2 448.4 L698.0 451.3 L700.7 454.3 L703.5 457.3 L706.3 460.2 L709.0 463.2 L711.8 466.1 L714.5 469.0 L717.3 471.9 L720.1 474.8 L722.8 477.7 L725.6 480.6 L728.3 483.4 L731.1 486.3 L733.9 489.1 L736.6 492.0 L739.4 494.8 L742.1 497.6 L744.9 500.5 L747.7 503.3 L750.4 506.1 L753.2 508.9 L755.9 511.6 L758.7 514.4 L761.5 517.2 L764.2 520.0 L767.0 522.7 L769.7 525.5 L772.5 528.2 L775.3 531.0 L778.0 533.7 L780.8 536.4 L783.5 539.2 L786.3 541.9 L789.1 544.6 L791.8 547.3 L794.6 550.0 L797.3 552.7 L800.1 555.4 L802.9 558.1 L805.6 560.8 L808.4 563.5 L811.1 566.2 L813.9 568.8 L816.7 571.5 L819.4 574.2 L822.2 576.8 L824.9 579.5 L827.7 582.2 L830.5 584.8 L833.2 587.5 L836.0 590.1 L838.7 592.8 L841.5 595.4 L844.3 598.1 L847.0 600.7 L849.8 603.3 L852.5 606.0 L855.3 608.6 L858.1 611.2 L860.8 613.8 L863.6 616.5 L866.3 619.1 L869.1 621.7 L871.9 624.3 L874.6 626.9 L877.4 629.6 L880.1 632.2 L882.9 634.8 L885.7 637.4 L888.4 640.0 L891.2 642.6 L893.9 645.2 L896.7 647.8 L899.5 650.4 L902.2 653.0 L905.0 655.6 L907.7 658.2 L910.5 660.9 L913.3 663.5 L916.0 666.1 L918.8 668.7 L921.5 671.3 L924.3 673.9 L927.1 676.5 L929.8 679.1 L932.6 681.7 L935.3 684.3 L938.1 686.9 L940.9 689.5 L943.6 692.1 L946.4 694.7 L949.1 697.3 L951.9 699.9 L954.7 702.5 L957.4 705.1 L960.2 707.7 L962.9 710.3 L965.7 712.9 L968.5 715.5 L971.2 718.1 L974.0 720.7 L976.7 723.3 L979.5 725.9 L982.3 728.5 L985.0 731.1 L987.8 733.7 L990.5 736.3 L993.3 738.9 L996.1 741.5 L998.8 744.1 L1001.6 746.7 L1004.3 749.3 L1007.1 752.0 L1009.9 754.6 L1012.6 757.2 L1015.4 759.8 L1018.1 762.4 L1020.9 765.0 L1023.7 767.6 L1026.4 770.2 L1029.2 772.8 L1031.9 775.4 L1034.7 778.0 L1037.5 780.6 L1040.2 783.2 L1043.0 785.8 L1045.7 788.4 L1048.5 791.0 L1051.3 793.6 L1054.0 796.1 L1056.8 798.7 L1059.5 801.3 L1062.3 803.9 L1065.1 806.5 L1067.8 809.1 L1070.6 811.7 L1073.3 814.3 L1076.1 816.9 L1078.9 819.5 L1081.6 822.1 L1084.4 824.7 L1087.1 827.3 L1089.9 829.9 L1092.7 832.5 L1095.4 835.1 L1098.2 837.7 L1100.9 840.3 L1103.7 842.9 L1106.5 845.5 L1109.2 848.1 L1112.0 850.7 L1114.7 853.3 L1117.5 855.9 L1120.3 858.5 L1123.0 861.0 L1125.8 863.6 L1128.5 866.2 L1131.3 868.8 L1134.1 871.4 L1136.8 874.0 L1139.6 876.6 L1142.3 879.2 L1145.1 881.8 L1147.9 884.4 L1150.6 887.0 L1153.4 889.6 L1156.1 892.2 L1158.9 894.8 L1161.7 897.3 L1164.4 899.9 L1167.2 902.5 L1169.9 905.1 L1172.7 907.7 L1175.5 910.3 L1178.2 912.9 L1181.0 915.5 L1183.7 918.1 L1186.5 920.7 L1189.3 923.3 L1192.0 925.9 L1194.8 928.5 L1197.5 931.0 L1200.3 933.6 L1203.1 936.2 L1205.8 938.8 L1208.6 941.4 L1211.3 944.0 L1214.1 946.6 L1216.9 949.2 L1219.6 951.8 L1222.4 954.4 L1225.1 957.0 L1227.9 959.6 L1230.7 962.2 L1233.4 964.7 L1236.2 967.3 L1238.9 969.9 L1241.7 972.5 L1244.5 975.1 L1247.2 977.7 L1250.0 980.3 L1252.7 982.9 L1255.5 985.5 L1258.3 988.1 L1261.0 990.7 L1263.8 993.3 L1266.5 995.9 L1269.3 998.4 L1272.1 1001.0 L1274.8 1003.6 L1277.6 1006.2 L1280.3 1008.8 L1283.1 1011.4 L1285.9 1014.0 L1288.6 1016.6 L1291.4 1019.2 L1294.1 1021.8 L1296.9 1024.4 L1299.7 1027.0 L1302.4 1029.6 L1305.2 1032.1 L1307.9 1034.7 L1310.7 1037.3 L1313.5 1039.9 L1316.2 1042.5 L1319.0 1045.1 L1321.7 1047.7 L1324.5 1050.3 L1327.3 1052.9 L1330.0 1055.5 L1332.8 1058.1 L1335.5 1060.7 L1338.3 1063.3 L1341.1 1065.8 L1343.8 1068.4 L1346.6 1071.0 L1349.3 1073.6 L1352.1 1076.2 L1354.9 1078.8 L1357.6 1081.4 L1360.4 1084.0 L1363.1 1086.6 L1365.9 1089.2 L1368.7 1091.8 L1371.4 1094.4 L1374.2 1097.0 L1376.9 1099.5 L1379.7 1102.1 L1382.5 1104.7 L1385.2 1107.3 L1388.0 1109.9 L1390.7 1112.5 L1393.5 1115.1" stroke="#c6c600" stroke-width="4.4"/>
<path d="M289.5 201.8 L292.3 201.9 L295.0 202.0 L297.8 202.2 L300.5 202.3 L303.3 202.4 L306.1 202.6 L308.8 202.8 L311.6 203.0 L314.3 203.2 L317.1 203.4 L319.9 203.6 L322.6 203.8 L325.4 204.1 L328.1 204.3 L330.9 204.6 L333.7 204.9 L336.4 205.3 L339.2 205.6 L341.9 205.9 L344.7 206.3 L347.5 206.7 L350.2 207.1 L353.0 207.6 L355.7 208.1 L358.5 208.5 L361.3 209.1 L364.0 209.6 L366.8 210.2 L369.5 210.8 L372.3 211.4 L375.1 212.1 L377.8 212.7 L380.6 213.5 L383.3 214.2 L386.1 215.0 L388.9 215.8 L391.6 216.6 L394.4 217.5 L397.1 218.4 L399.9 219.4 L402.7 220.4 L405.4 221.4 L408.2 222.5 L410.9 223.6 L413.7 224.7 L416.5 225.9 L419.2 227.1 L422.0 228.4 L424.7 229.8 L427.5 231.2 L430.3 232.6 L433.0 234.1 L435.8 235.7 L438.5 237.3 L441.3 238.9 L444.1 240.6 L446.8 242.4 L449.6 244.2 L452.3 246.1 L455.1 248.0 L457.9 249.9 L460.6 251.9 L463.4 253.9 L466.1 256.0 L468.9 258.2 L471.7 260.4 L474.4 262.6 L477.2 264.9 L479.9 267.3 L482.7 269.7 L485.5 272.1 L488.2 274.6 L491.0 277.2 L493.7 279.7 L496.5 282.4 L499.3 285.1 L502.0 287.8 L504.8 290.6 L507.5 293.4 L510.3 296.2 L513.1 299.1 L515.8 301.9 L518.6 304.9 L521.3 307.8 L524.1 310.8 L526.9 313.7 L529.6 316.7 L532.4 319.8 L535.1 322.8 L537.9 325.8 L540.7 328.9 L543.4 332.0 L546.2 335.1 L548.9 338.2 L551.7 341.3 L554.5 344.4 L557.2 347.6 L560.0 350.7 L562.7 353.8 L565.5 357.0 L568.3 360.1 L571.0 363.3 L573.8 366.4 L576.5 369.5 L579.3 372.6 L582.1 375.8 L584.8 378.9 L587.6 382.0 L590.3 385.1 L593.1 388.2 L595.9 391.2 L598.6 394.3 L601.4 397.4 L604.1 400.4 L606.9 403.4 L609.7 406.5 L612.4 409.5 L615.2 412.5 L617.9 415.5 L620.7 418.5 L623.5 421.4 L626.2 424.4 L629.0 427.4 L631.7 430.3 L634.5 433.2 L637.3 436.2 L640.0 439.1 L642.8 442.0 L645.5 444.9 L648.3 447.7 L651.1 450.6 L653.8 453.5 L656.6 456.3 L659.3 459.1 L662.1 461.9 L664.9 464.7 L667.6 467.5 L670.4 470.3 L673.1 473.1 L675.9 475.9 L678.7 478.6 L681.4 481.4 L684.2 484.2 L686.9 486.9 L689.7 489.7 L692.5 492.4 L695.2 495.2 L698.0 498.0 L700.7 500.7 L703.5 503.5 L706.3 506.3 L709.0 509.0 L711.8 511.8 L714.5 514.5 L717.3 517.2 L720.1 520.0 L722.8 522.7 L725.6 525.4 L728.3 528.1 L731.1 530.8 L733.9 533.5 L736.6 536.2 L739.4 538.9 L742.1 541.6 L744.9 544.3 L747.7 547.0 L750.4 549.7 L753.2 552.4 L755.9 555.1 L758.7 557.8 L761.5 560.4 L764.2 563.1 L767.0 565.8 L769.7 568.5 L772.5 571.1 L775.3 573.8 L778.0 576.5 L780.8 579.1 L783.5 581.8 L786.3 584.4 L789.1 587.1 L791.8 589.7 L794.6 592.4 L797.3 595.1 L800.1 597.7 L802.9 600.4 L805.6 603.0 L808.4 605.6 L811.1 608.3 L813.9 610.9 L816.7 613.6 L819.4 616.2 L822.2 618.9 L824.9 621.5 L827.7 624.1 L830.5 626.8 L833.2 629.4 L836.0 632.0 L838.7 634.7 L841.5 637.3 L844.3 640.0 L847.0 642.6 L849.8 645.2 L852.5 647.9 L855.3 650.5 L858.1 653.2 L860.8 655.8 L863.6 658.4 L866.3 661.1 L869.1 663.7 L871.9 666.4 L874.6 669.0 L877.4 671.7 L880.1 674.3 L882.9 677.0 L885.7 679.6 L888.4 682.3 L891.2 684.9 L893.9 687.6 L896.7 690.2 L899.5 692.9 L902.2 695.5 L905.0 698.1 L907.7 700.8 L910.5 703.4 L913.3 706.1 L916.0 708.7 L918.8 711.3 L921.5 713.9 L924.3 716.6 L927.1 719.2 L929.8 721.8 L932.6 724.4 L935.3 727.0 L938.1 729.6 L940.9 732.3 L943.6 734.9 L946.4 737.5 L949.1 740.1 L951.9 742.7 L954.7 745.3 L957.4 748.0 L960.2 750.6 L962.9 753.2 L965.7 755.8 L968.5 758.4 L971.2 761.0 L974.0 763.6 L976.7 766.3 L979.5 768.9 L982.3 771.5 L985.0 774.1 L987.8 776.7 L990.5 779.3 L993.3 781.9 L996.1 784.5 L998.8 787.2 L1001.6 789.8 L1004.3 792.4 L1007.1 795.0 L1009.9 797.6 L1012.6 800.2 L1015.4 802.8 L1018.1 805.4 L1020.9 808.0 L1023.7 810.6 L1026.4 813.3 L1029.2 815.9 L1031.9 818.5 L1034.7 821.1 L1037.5 823.7 L1040.2 826.3 L1043.0 828.9 L1045.7 831.5 L1048.5 834.1 L1051.3 836.7 L1054.0 839.3 L1056.8 841.9 L1059.5 844.5 L1062.3 847.1 L1065.1 849.7 L1067.8 852.3 L1070.6 854.9 L1073.3 857.5 L1076.1 860.1 L1078.9 862.7 L1081.6 865.3 L1084.4 867.9 L1087.1 870.5 L1089.9 873.1 L1092.7 875.7 L1095.4 878.3 L1098.2 880.9 L1100.9 883.5 L1103.7 886.1 L1106.5 888.7 L1109.2 891.3 L1112.0 893.9 L1114.7 896.5 L1117.5 899.1 L1120.3 901.7 L1123.0 904.3 L1125.8 906.9 L1128.5 909.4 L1131.3 912.0 L1134.1 914.6 L1136.8 917.2 L1139.6 919.8 L1142.3 922.4 L1145.1 925.0 L1147.9 927.6 L1150.6 930.2 L1153.4 932.8 L1156.1 935.4 L1158.9 938.0 L1161.7 940.5 L1164.4 943.1 L1167.2 945.7 L1169.9 948.3 L1172.7 950.9 L1175.5 953.5 L1178.2 956.1 L1181.0 958.7 L1183.7 961.3 L1186.5 963.9 L1189.3 966.5 L1192.0 969.1 L1194.8 971.7 L1197.5 974.2 L1200.3 976.8 L1203.1 979.4 L1205.8 982.0 L1208.6 984.6 L1211.3 987.2 L1214.1 989.8 L1216.9 992.4 L1219.6 995.0 L1222.4 997.6 L1225.1 1000.2 L1227.9 1002.8 L1230.7 1005.3 L1233.4 1007.9 L1236.2 1010.5 L1238.9 1013.1 L1241.7 1015.7 L1244.5 1018.3 L1247.2 1020.9 L1250.0 1023.5 L1252.7 1026.1 L1255.5 1028.7 L1258.3 1031.3 L1261.0 1033.9 L1263.8 1036.4 L1266.5 1039.0 L1269.3 1041.6 L1272.1 1044.2 L1274.8 1046.8 L1277.6 1049.4 L1280.3 1052.0 L1283.1 1054.6 L1285.9 1057.2 L1288.6 1059.8 L1291.4 1062.4 L1294.1 1065.0 L1296.9 1067.6 L1299.7 1070.1 L1302.4 1072.7 L1305.2 1075.3 L1307.9 1077.9 L1310.7 1080.5 L1313.5 1083.1 L1316.2 1085.7 L1319.0 1088.3 L1321.7 1090.9 L1324.5 1093.5 L1327.3 1096.1 L1330.0 1098.6 L1332.8 1101.2 L1335.5 1103.8 L1338.3 1106.4 L1341.1 1109.0 L1343.8 1111.6 L1346.6 1114.2 L1349.3 1116.8 L1352.1 1119.4 L1354.9 1122.0 L1357.6 1124.6 L1360.4 1127.2 L1363.1 1129.7 L1365.9 1132.3 L1368.7 1134.9 L1371.4 1137.5 L1374.2 1140.1 L1376.9 1142.7 L1379.7 1145.3 L1382.5 1147.9 L1385.2 1150.5 L1388.0 1153.1 L1390.7 1155.7 L1393.5 1158.3" stroke="#500000" stroke-width="4.6" stroke-dasharray="16.6 1.6" stroke-dashoffset="1.2"/>
<path d="M289.5 204.3 L292.3 204.5 L295.0 204.7 L297.8 205.0 L300.5 205.2 L303.3 205.5 L306.1 205.8 L308.8 206.1 L311.6 206.4 L314.3 206.7 L317.1 207.1 L319.9 207.4 L322.6 207.8 L325.4 208.2 L328.1 208.7 L330.9 209.1 L333.7 209.6 L336.4 210.0 L339.2 210.5 L341.9 211.1 L344.7 211.6 L347.5 212.2 L350.2 212.8 L353.0 213.4 L355.7 214.0 L358.5 214.7 L361.3 215.4 L364.0 216.1 L366.8 216.9 L369.5 217.7 L372.3 218.5 L375.1 219.4 L377.8 220.2 L380.6 221.2 L383.3 222.2 L386.1 223.2 L388.9 224.2 L391.6 225.3 L394.4 226.4 L397.1 227.6 L399.9 228.8 L402.7 230.1 L405.4 231.4 L408.2 232.7 L410.9 234.0 L413.7 235.4 L416.5 236.9 L419.2 238.4 L422.0 239.9 L424.7 241.4 L427.5 243.0 L430.3 244.6 L433.0 246.3 L435.8 248.0 L438.5 249.8 L441.3 251.6 L444.1 253.5 L446.8 255.4 L449.6 257.4 L452.3 259.4 L455.1 261.4 L457.9 263.5 L460.6 265.6 L463.4 267.7 L466.1 269.8 L468.9 272.0 L471.7 274.2 L474.4 276.4 L477.2 278.8 L479.9 281.2 L482.7 283.6 L485.5 286.2 L488.2 288.7 L491.0 291.4 L493.7 294.0 L496.5 296.7 L499.3 299.5 L502.0 302.3 L504.8 305.1 L507.5 307.9 L510.3 310.8 L513.1 313.7 L515.8 316.6 L518.6 319.5 L521.3 322.5 L524.1 325.4 L526.9 328.4 L529.6 331.4 L532.4 334.5 L535.1 337.5 L537.9 340.6 L540.7 343.6 L543.4 346.7 L546.2 349.8 L548.9 352.9 L551.7 356.0 L554.5 359.1 L557.2 362.2 L560.0 365.3 L562.7 368.4 L565.5 371.4 L568.3 374.5 L571.0 377.6 L573.8 380.7 L576.5 383.7 L579.3 386.8 L582.1 389.8 L584.8 392.9 L587.6 395.9 L590.3 398.9 L593.1 401.9 L595.9 404.9 L598.6 407.9 L601.4 410.9 L604.1 413.9 L606.9 416.9 L609.7 419.8 L612.4 422.8 L615.2 425.7 L617.9 428.6 L620.7 431.5 L623.5 434.4 L626.2 437.3 L629.0 440.2 L631.7 443.1 L634.5 446.0 L637.3 448.8 L640.0 451.7 L642.8 454.5 L645.5 457.4 L648.3 460.2 L651.1 463.0 L653.8 465.8 L656.6 468.6 L659.3 471.4 L662.1 474.2 L664.9 476.9 L667.6 479.7 L670.4 482.4 L673.1 485.1 L675.9 487.9 L678.7 490.6 L681.4 493.3 L684.2 496.0 L686.9 498.8 L689.7 501.5 L692.5 504.2 L695.2 506.9 L698.0 509.7 L700.7 512.4 L703.5 515.1 L706.3 517.8 L709.0 520.5 L711.8 523.3 L714.5 526.0 L717.3 528.7 L720.1 531.4 L722.8 534.0 L725.6 536.7 L728.3 539.4 L731.1 542.1 L733.9 544.8 L736.6 547.4 L739.4 550.1 L742.1 552.8 L744.9 555.4 L747.7 558.1 L750.4 560.7 L753.2 563.4 L755.9 566.1 L758.7 568.7 L761.5 571.3 L764.2 574.0 L767.0 576.6 L769.7 579.3 L772.5 581.9 L775.3 584.5 L778.0 587.2 L780.8 589.8 L783.5 592.4 L786.3 595.1 L789.1 597.7 L791.8 600.3 L794.6 602.9 L797.3 605.6 L800.1 608.2 L802.9 610.8 L805.6 613.4 L808.4 616.0 L811.1 618.7 L813.9 621.3 L816.7 623.9 L819.4 626.5 L822.2 629.1 L824.9 631.7 L827.7 634.3 L830.5 636.9 L833.2 639.6 L836.0 642.2 L838.7 644.8 L841.5 647.4 L844.3 650.0 L847.0 652.6 L849.8 655.2 L852.5 657.8 L855.3 660.4 L858.1 663.0 L860.8 665.6 L863.6 668.2 L866.3 670.9 L869.1 673.5 L871.9 676.1 L874.6 678.7 L877.4 681.3 L880.1 683.9 L882.9 686.5 L885.7 689.1 L888.4 691.8 L891.2 694.4 L893.9 697.0 L896.7 699.6 L899.5 702.2 L902.2 704.8 L905.0 707.4 L907.7 710.1 L910.5 712.7 L913.3 715.3 L916.0 717.9 L918.8 720.5 L921.5 723.1 L924.3 725.7 L927.1 728.3 L929.8 730.9 L932.6 733.5 L935.3 736.1 L938.1 738.8 L940.9 741.4 L943.6 744.0 L946.4 746.6 L949.1 749.2 L951.9 751.8 L954.7 754.4 L957.4 757.0 L960.2 759.6 L962.9 762.2 L965.7 764.9 L968.5 767.5 L971.2 770.1 L974.0 772.7 L976.7 775.3 L979.5 777.9 L982.3 780.5 L985.0 783.1 L987.8 785.7 L990.5 788.3 L993.3 791.0 L996.1 793.6 L998.8 796.2 L1001.6 798.8 L1004.3 801.4 L1007.1 804.0 L1009.9 806.6 L1012.6 809.2 L1015.4 811.8 L1018.1 814.4 L1020.9 817.1 L1023.7 819.7 L1026.4 822.3 L1029.2 824.9 L1031.9 827.5 L1034.7 830.1 L1037.5 832.7 L1040.2 835.3 L1043.0 837.9 L1045.7 840.5 L1048.5 843.1 L1051.3 845.8 L1054.0 848.4 L1056.8 851.0 L1059.5 853.6 L1062.3 856.2 L1065.1 858.8 L1067.8 861.4 L1070.6 864.0 L1073.3 866.6 L1076.1 869.2 L1078.9 871.8 L1081.6 874.4 L1084.4 877.1 L1087.1 879.7 L1089.9 882.3 L1092.7 884.9 L1095.4 887.5 L1098.2 890.1 L1100.9 892.7 L1103.7 895.3 L1106.5 897.9 L1109.2 900.5 L1112.0 903.1 L1114.7 905.7 L1117.5 908.3 L1120.3 910.9 L1123.0 913.5 L1125.8 916.2 L1128.5 918.8 L1131.3 921.4 L1134.1 924.0 L1136.8 926.6 L1139.6 929.2 L1142.3 931.8 L1145.1 934.4 L1147.9 937.0 L1150.6 939.6 L1153.4 942.2 L1156.1 944.8 L1158.9 947.4 L1161.7 950.0 L1164.4 952.6 L1167.2 955.2 L1169.9 957.8 L1172.7 960.4 L1175.5 963.0 L1178.2 965.6 L1181.0 968.2 L1183.7 970.8 L1186.5 973.5 L1189.3 976.1 L1192.0 978.7 L1194.8 981.3 L1197.5 983.9 L1200.3 986.5 L1203.1 989.1 L1205.8 991.7 L1208.6 994.3 L1211.3 996.9 L1214.1 999.5 L1216.9 1002.1 L1219.6 1004.7 L1222.4 1007.3 L1225.1 1009.9 L1227.9 1012.5 L1230.7 1015.1 L1233.4 1017.7 L1236.2 1020.3 L1238.9 1022.9 L1241.7 1025.5 L1244.5 1028.1 L1247.2 1030.7 L1250.0 1033.3 L1252.7 1035.9 L1255.5 1038.5 L1258.3 1041.1 L1261.0 1043.7 L1263.8 1046.4 L1266.5 1049.0 L1269.3 1051.6 L1272.1 1054.2 L1274.8 1056.8 L1277.6 1059.4 L1280.3 1062.0 L1283.1 1064.6 L1285.9 1067.2 L1288.6 1069.8 L1291.4 1072.4 L1294.1 1075.0 L1296.9 1077.6 L1299.7 1080.2 L1302.4 1082.8 L1305.2 1085.4 L1307.9 1088.0 L1310.7 1090.6 L1313.5 1093.2 L1316.2 1095.8 L1319.0 1098.4 L1321.7 1101.0 L1324.5 1103.6 L1327.3 1106.2 L1330.0 1108.8 L1332.8 1111.4 L1335.5 1114.0 L1338.3 1116.6 L1341.1 1119.2 L1343.8 1121.8 L1346.6 1124.4 L1349.3 1127.0 L1352.1 1129.6 L1354.9 1132.2 L1357.6 1134.8 L1360.4 1137.4 L1363.1 1140.0 L1365.9 1142.6 L1368.7 1145.2 L1371.4 1147.8 L1374.2 1150.4 L1376.9 1153.0 L1379.7 1155.6 L1382.5 1158.2 L1385.2 1160.8 L1388.0 1163.4 L1390.7 1166.0 L1393.5 1168.6" stroke="#a85000" stroke-width="4.4"/>
</g>
<path d="M248.5 56.0V1225.0M206 57.5H250.0M233 69.5H250.0M233 82.5H250.0M233 95.5H250.0M233 108.5H250.0M220 121.5H250.0M233 134.5H250.0M233 147.5H250.0M233 160.5H250.0M233 173.5H250.0M206 186.5H250.0M233 199.5H250.0M233 212.5H250.0M233 225.5H250.0M233 238.5H250.0M220 251.5H250.0M233 264.5H250.0M233 277.5H250.0M233 290.5H250.0M233 303.5H250.0M206 316.5H250.0M233 329.5H250.0M233 342.5H250.0M233 355.5H250.0M233 368.5H250.0M220 381.5H250.0M233 393.5H250.0M233 406.5H250.0M233 419.5H250.0M233 432.5H250.0M206 445.5H250.0M233 458.5H250.0M233 471.5H250.0M233 484.5H250.0M233 497.5H250.0M220 510.5H250.0M233 523.5H250.0M233 536.5H250.0M233 549.5H250.0M233 562.5H250.0M206 575.5H250.0M233 588.5H250.0M233 601.5H250.0M233 614.5H250.0M233 627.5H250.0M220 640.5H250.0M233 653.5H250.0M233 666.5H250.0M233 679.5H250.0M233 692.5H250.0M206 705.5H250.0M233 717.5H250.0M233 730.5H250.0M233 743.5H250.0M233 756.5H250.0M220 769.5H250.0M233 782.5H250.0M233 795.5H250.0M233 808.5H250.0M233 821.5H250.0M206 834.5H250.0M233 847.5H250.0M233 860.5H250.0M233 873.5H250.0M233 886.5H250.0M220 899.5H250.0M233 912.5H250.0M233 925.5H250.0M233 938.5H250.0M233 951.5H250.0M206 964.5H250.0M233 977.5H250.0M233 990.5H250.0M233 1003.5H250.0M233 1016.5H250.0M220 1029.5H250.0M233 1041.5H250.0M233 1054.5H250.0M233 1067.5H250.0M233 1080.5H250.0M206 1093.5H250.0M233 1106.5H250.0M233 1119.5H250.0M233 1132.5H250.0M233 1145.5H250.0M220 1158.5H250.0M233 1171.5H250.0M233 1184.5H250.0M233 1197.5H250.0M233 1210.5H250.0M206 1223.5H250.0M288.0 1243.5H1395.0M289.5 1242.0V1286M372.5 1242.0V1272M421.5 1242.0V1272M455.5 1242.0V1272M482.5 1242.0V1272M504.5 1242.0V1272M522.5 1242.0V1272M538.5 1242.0V1272M552.5 1242.0V1272M565.5 1242.0V1286M648.5 1242.0V1272M697.5 1242.0V1272M731.5 1242.0V1272M758.5 1242.0V1272M780.5 1242.0V1272M798.5 1242.0V1272M814.5 1242.0V1272M828.5 1242.0V1272M841.5 1242.0V1286M924.5 1242.0V1272M973.5 1242.0V1272M1007.5 1242.0V1272M1034.5 1242.0V1272M1056.5 1242.0V1272M1074.5 1242.0V1272M1090.5 1242.0V1272M1104.5 1242.0V1272M1117.5 1242.0V1286M1200.5 1242.0V1272M1249.5 1242.0V1272M1283.5 1242.0V1272M1310.5 1242.0V1272M1332.5 1242.0V1272M1350.5 1242.0V1272M1366.5 1242.0V1272M1380.5 1242.0V1272M1393.5 1242.0V1286" stroke="#000" stroke-width="3" fill="none" shape-rendering="crispEdges"/>
<text transform="translate(99.0 73.1) scale(1.095 1)" font-family='"Liberation Serif", serif' font-size="42" fill="#000" text-anchor="start">10.0</text>
<text transform="translate(99.0 202.1) scale(1.095 1)" font-family='"Liberation Serif", serif' font-size="42" fill="#000" text-anchor="start">0.0</text>
<text transform="translate(99.0 332.1) scale(1.095 1)" font-family='"Liberation Serif", serif' font-size="42" fill="#000" text-anchor="start">-10.0</text>
<text transform="translate(99.0 461.1) scale(1.095 1)" font-family='"Liberation Serif", serif' font-size="42" fill="#000" text-anchor="start">-20.0</text>
<text transform="translate(99.0 591.1) scale(1.095 1)" font-family='"Liberation Serif", serif' font-size="42" fill="#000" text-anchor="start">-30.0</text>
<text transform="translate(99.0 721.1) scale(1.095 1)" font-family='"Liberation Serif", serif' font-size="42" fill="#000" text-anchor="start">-40.0</text>
<text transform="translate(99.0 850.1) scale(1.095 1)" font-family='"Liberation Serif", serif' font-size="42" fill="#000" text-anchor="start">-50.0</text>
<text transform="translate(99.0 980.1) scale(1.095 1)" font-family='"Liberation Serif", serif' font-size="42" fill="#000" text-anchor="start">-60.0</text>
<text transform="translate(99.0 1109.1) scale(1.095 1)" font-family='"Liberation Serif", serif' font-size="42" fill="#000" text-anchor="start">-70.0</text>
<text transform="translate(99.0 1239.1) scale(1.095 1)" font-family='"Liberation Serif", serif' font-size="42" fill="#000" text-anchor="start">-80.0</text>
<text transform="translate(79.0 642.0) rotate(-90) scale(1.03 1)" font-family='"Liberation Serif", serif' font-size="42" fill="#000" text-anchor="middle">Gain (dB)</text>
<text transform="translate(254.2 1362.0) scale(1.07 1)" font-family='"Liberation Serif", serif' font-size="42" fill="#000" text-anchor="start">10</text>
<text transform="translate(298.8 1335.2)" font-family='"Liberation Serif", serif' font-size="34" fill="#000" text-anchor="start">-3</text>
<text transform="translate(530.2 1362.0) scale(1.07 1)" font-family='"Liberation Serif", serif' font-size="42" fill="#000" text-anchor="start">10</text>
<text transform="translate(574.8 1335.2)" font-family='"Liberation Serif", serif' font-size="34" fill="#000" text-anchor="start">-2</text>
<text transform="translate(807.5 1362.0) scale(1.07 1)" font-family='"Liberation Serif", serif' font-size="42" fill="#000" text-anchor="start">10</text>
<text transform="translate(852.0 1335.2)" font-family='"Liberation Serif", serif' font-size="34" fill="#000" text-anchor="start">-1</text>
<text transform="translate(1086.8 1362.0) scale(1.07 1)" font-family='"Liberation Serif", serif' font-size="42" fill="#000" text-anchor="start">10</text>
<text transform="translate(1131.2 1335.2)" font-family='"Liberation Serif", serif' font-size="34" fill="#000" text-anchor="start">0</text>
<text transform="translate(1364.0 1362.0) scale(1.07 1)" font-family='"Liberation Serif", serif' font-size="42" fill="#000" text-anchor="start">10</text>
<text transform="translate(1408.5 1335.2)" font-family='"Liberation Serif", serif' font-size="34" fill="#000" text-anchor="start">1</text>
<text transform="translate(840.3 1401.4) scale(1.075 1)" font-family='"Liberation Serif", serif' font-size="42" fill="#000" text-anchor="middle">freq (Hz)</text>
<text font-family='"Liberation Serif", serif' font-size="70" fill="#000"><tspan x="694.5" y="1500.6">(</tspan><tspan x="716.5" y="1500.6" font-weight="bold">a</tspan><tspan x="747.5" y="1500.6">)</tspan></text>
<text transform="translate(760.3 292.3) scale(0.977 1)" font-family='"Liberation Sans", sans-serif' font-size="30" fill="#a80000" text-anchor="start">I</text>
<text transform="translate(758.1 384.6) scale(0.977 1)" font-family='"Liberation Sans", sans-serif' font-size="30" fill="#005000" text-anchor="start">II</text>
<text transform="translate(758.1 461.6) scale(0.977 1)" font-family='"Liberation Sans", sans-serif' font-size="30" fill="#0000e6" text-anchor="start">III</text>
<text transform="translate(760.7 559.6) scale(0.977 1)" font-family='"Liberation Sans", sans-serif' font-size="30" fill="#ff5500" text-anchor="start">IV</text>
<text transform="translate(760.3 620.2) scale(0.977 1)" font-family='"Liberation Sans", sans-serif' font-size="30" fill="#500000" text-anchor="start">V</text>
<path d="M391.5 1709.0V2878.0M439.5 1709.0V2878.0M473.5 1709.0V2878.0M499.5 1709.0V2878.0M520.5 1709.0V2878.0M538.5 1709.0V2878.0M554.5 1709.0V2878.0M568.5 1709.0V2878.0M662.5 1709.0V2878.0M709.5 1709.0V2878.0M743.5 1709.0V2878.0M769.5 1709.0V2878.0M791.5 1709.0V2878.0M809.5 1709.0V2878.0M825.5 1709.0V2878.0M839.5 1709.0V2878.0M933.5 1709.0V2878.0M980.5 1709.0V2878.0M1014.5 1709.0V2878.0M1040.5 1709.0V2878.0M1062.5 1709.0V2878.0M1080.5 1709.0V2878.0M1096.5 1709.0V2878.0M1110.5 1709.0V2878.0M1204.5 1709.0V2878.0M1251.5 1709.0V2878.0M1285.5 1709.0V2878.0M1311.5 1709.0V2878.0M1333.5 1709.0V2878.0M1351.5 1709.0V2878.0M1367.5 1709.0V2878.0M1381.5 1709.0V2878.0" stroke="#cfcfcf" stroke-width="3" stroke-dasharray="5 1" fill="none" shape-rendering="crispEdges"/>
<path d="M310.5 1709.0V2878.0M580.5 1709.0V2878.0M851.5 1709.0V2878.0M1122.5 1709.0V2878.0M1393.5 1709.0V2878.0M309.0 1710.5H1395.0M309.0 1904.5H1395.0M309.0 2098.5H1395.0M309.0 2293.5H1395.0M309.0 2487.5H1395.0M309.0 2681.5H1395.0M309.0 2876.5H1395.0" stroke="#a0a0a0" stroke-width="3" stroke-dasharray="5 1" fill="none" shape-rendering="crispEdges"/>
<clipPath id="cb"><rect x="309.5" y="1710.5" width="1085.0" height="1166.0"/></clipPath>
<g clip-path="url(#cb)" fill="none">
<path d="M310.5 1729.0 L313.2 1729.2 L315.9 1729.5 L318.6 1729.8 L321.3 1730.1 L324.0 1730.4 L326.7 1730.8 L329.4 1731.1 L332.1 1731.4 L334.8 1731.8 L337.5 1732.1 L340.2 1732.5 L342.9 1732.8 L345.6 1733.2 L348.3 1733.6 L351.0 1734.0 L353.7 1734.4 L356.4 1734.8 L359.1 1735.3 L361.8 1735.7 L364.5 1736.1 L367.2 1736.6 L369.9 1737.1 L372.6 1737.6 L375.3 1738.1 L378.0 1738.6 L380.7 1739.1 L383.4 1739.6 L386.1 1740.2 L388.8 1740.8 L391.5 1741.3 L394.2 1741.9 L396.9 1742.5 L399.6 1743.2 L402.3 1743.8 L405.0 1744.4 L407.7 1745.1 L410.4 1745.8 L413.1 1746.5 L415.8 1747.2 L418.5 1747.9 L421.2 1748.7 L423.9 1749.5 L426.6 1750.3 L429.3 1751.1 L432.0 1751.9 L434.7 1752.8 L437.4 1753.7 L440.1 1754.6 L442.8 1755.5 L445.5 1756.5 L448.2 1757.5 L450.9 1758.5 L453.6 1759.5 L456.3 1760.5 L459.0 1761.6 L461.7 1762.8 L464.4 1763.9 L467.1 1765.1 L469.8 1766.3 L472.5 1767.6 L475.2 1768.9 L477.9 1770.2 L480.6 1771.5 L483.3 1772.9 L486.0 1774.4 L488.7 1775.8 L491.4 1777.4 L494.1 1778.9 L496.8 1780.5 L499.5 1782.2 L502.2 1783.8 L504.9 1785.6 L507.6 1787.3 L510.3 1789.1 L513.0 1791.0 L515.7 1792.9 L518.4 1794.8 L521.1 1796.8 L523.8 1798.9 L526.5 1801.0 L529.2 1803.2 L531.9 1805.4 L534.6 1807.6 L537.3 1810.0 L540.0 1812.4 L542.7 1814.9 L545.4 1817.4 L548.1 1820.0 L550.8 1822.7 L553.5 1825.5 L556.2 1828.3 L558.9 1831.2 L561.6 1834.2 L564.3 1837.2 L567.0 1840.3 L569.7 1843.5 L572.4 1846.8 L575.1 1850.1 L577.8 1853.5 L580.5 1856.9 L583.2 1860.5 L585.9 1864.1 L588.6 1867.8 L591.3 1871.6 L594.0 1875.5 L596.8 1879.4 L599.5 1883.5 L602.2 1887.6 L604.9 1891.8 L607.6 1896.2 L610.3 1900.6 L613.0 1905.1 L615.7 1909.7 L618.4 1914.4 L621.2 1919.1 L623.9 1924.0 L626.6 1929.0 L629.3 1934.0 L632.0 1939.2 L634.7 1944.5 L637.4 1949.8 L640.1 1955.3 L642.8 1960.8 L645.5 1966.5 L648.2 1972.2 L651.0 1978.0 L653.7 1984.0 L656.4 1990.0 L659.1 1996.1 L661.8 2002.3 L664.5 2008.6 L667.2 2015.0 L669.9 2021.5 L672.6 2028.1 L675.4 2034.8 L678.1 2041.6 L680.8 2048.5 L683.5 2055.4 L686.2 2062.4 L688.9 2069.5 L691.6 2076.6 L694.3 2083.8 L697.0 2091.0 L699.7 2098.2 L702.5 2105.5 L705.2 2112.8 L707.9 2120.1 L710.6 2127.4 L713.3 2134.7 L716.0 2141.9 L718.7 2149.1 L721.4 2156.2 L724.1 2163.4 L726.8 2170.5 L729.5 2177.5 L732.3 2184.6 L735.0 2191.6 L737.7 2198.7 L740.4 2205.7 L743.1 2212.7 L745.8 2219.7 L748.5 2226.6 L751.2 2233.4 L753.9 2240.1 L756.7 2246.9 L759.4 2253.6 L762.1 2260.3 L764.8 2267.0 L767.5 2273.8 L770.2 2280.7 L772.9 2287.6 L775.6 2294.5 L778.3 2301.3 L781.0 2308.1 L783.8 2314.9 L786.5 2321.6 L789.2 2328.3 L791.9 2335.0 L794.6 2341.7 L797.3 2348.5 L800.0 2355.2 L802.7 2361.9 L805.4 2368.6 L808.1 2375.2 L810.9 2381.6 L813.6 2388.0 L816.3 2394.4 L819.0 2400.7 L821.7 2406.9 L824.4 2413.0 L827.1 2419.1 L829.8 2425.1 L832.5 2431.1 L835.2 2436.9 L838.0 2442.8 L840.7 2448.5 L843.4 2454.2 L846.1 2459.8 L848.8 2465.3 L851.5 2470.8 L854.2 2476.2 L856.9 2481.5 L859.6 2486.8 L862.3 2492.0 L865.0 2497.1 L867.8 2502.2 L870.5 2507.2 L873.2 2512.1 L875.9 2517.0 L878.6 2521.8 L881.3 2526.5 L884.0 2531.2 L886.7 2535.8 L889.4 2540.3 L892.1 2544.7 L894.9 2549.1 L897.6 2553.4 L900.3 2557.7 L903.0 2561.9 L905.7 2566.0 L908.4 2570.0 L911.1 2574.0 L913.8 2577.9 L916.5 2581.8 L919.2 2585.5 L922.0 2589.3 L924.7 2592.9 L927.4 2596.5 L930.1 2600.0 L932.8 2603.4 L935.5 2606.8 L938.2 2610.1 L940.9 2613.4 L943.6 2616.5 L946.4 2619.7 L949.1 2622.8 L951.8 2625.8 L954.5 2628.7 L957.2 2631.6 L959.9 2634.5 L962.6 2637.3 L965.3 2640.0 L968.0 2642.7 L970.7 2645.3 L973.5 2647.9 L976.2 2650.4 L978.9 2652.8 L981.6 2655.2 L984.3 2657.6 L987.0 2659.9 L989.7 2662.1 L992.4 2664.3 L995.1 2666.4 L997.8 2668.5 L1000.6 2670.6 L1003.3 2672.6 L1006.0 2674.5 L1008.7 2676.4 L1011.4 2678.3 L1014.1 2680.1 L1016.8 2681.8 L1019.5 2683.6 L1022.2 2685.3 L1024.9 2686.9 L1027.7 2688.6 L1030.4 2690.2 L1033.1 2691.7 L1035.8 2693.3 L1038.5 2694.8 L1041.2 2696.2 L1043.9 2697.7 L1046.6 2699.1 L1049.3 2700.5 L1052.0 2701.8 L1054.8 2703.1 L1057.5 2704.4 L1060.2 2705.7 L1062.9 2706.9 L1065.6 2708.1 L1068.3 2709.3 L1071.0 2710.4 L1073.7 2711.6 L1076.4 2712.7 L1079.1 2713.7 L1081.8 2714.8 L1084.6 2715.8 L1087.3 2716.8 L1090.0 2717.8 L1092.7 2718.8 L1095.4 2719.7 L1098.1 2720.6 L1100.8 2721.5 L1103.5 2722.4 L1106.2 2723.3 L1109.0 2724.1 L1111.7 2724.9 L1114.4 2725.7 L1117.1 2726.5 L1119.8 2727.2 L1122.5 2728.0 L1125.2 2728.7 L1127.9 2729.4 L1130.6 2730.1 L1133.3 2730.8 L1136.1 2731.4 L1138.8 2732.1 L1141.5 2732.7 L1144.2 2733.3 L1146.9 2733.9 L1149.6 2734.5 L1152.3 2735.0 L1155.0 2735.6 L1157.7 2736.1 L1160.4 2736.7 L1163.2 2737.2 L1165.9 2737.7 L1168.6 2738.2 L1171.3 2738.6 L1174.0 2739.1 L1176.7 2739.6 L1179.4 2740.0 L1182.1 2740.5 L1184.8 2740.9 L1187.5 2741.3 L1190.2 2741.7 L1193.0 2742.2 L1195.7 2742.6 L1198.4 2743.0 L1201.1 2743.3 L1203.8 2743.7 L1206.5 2744.1 L1209.2 2744.5 L1211.9 2744.8 L1214.6 2745.2 L1217.3 2745.5 L1220.1 2745.9 L1222.8 2746.2 L1225.5 2746.5 L1228.2 2746.8 L1230.9 2747.1 L1233.6 2747.4 L1236.3 2747.7 L1239.0 2748.0 L1241.7 2748.3 L1244.5 2748.6 L1247.2 2748.8 L1249.9 2749.1 L1252.6 2749.3 L1255.3 2749.6 L1258.0 2749.8 L1260.7 2750.1 L1263.4 2750.3 L1266.1 2750.5 L1268.8 2750.8 L1271.6 2751.0 L1274.3 2751.2 L1277.0 2751.4 L1279.7 2751.6 L1282.4 2751.8 L1285.1 2752.0 L1287.8 2752.2 L1290.5 2752.4 L1293.2 2752.5 L1295.9 2752.7 L1298.7 2752.9 L1301.4 2753.1 L1304.1 2753.2 L1306.8 2753.4 L1309.5 2753.5 L1312.2 2753.7 L1314.9 2753.9 L1317.6 2754.0 L1320.3 2754.2 L1323.0 2754.3 L1325.8 2754.5 L1328.5 2754.6 L1331.2 2754.7 L1333.9 2754.9 L1336.6 2755.0 L1339.3 2755.2 L1342.0 2755.3 L1344.7 2755.5 L1347.4 2755.6 L1350.1 2755.7 L1352.8 2755.9 L1355.6 2756.0 L1358.3 2756.2 L1361.0 2756.3 L1363.7 2756.4 L1366.4 2756.5 L1369.1 2756.7 L1371.8 2756.8 L1374.5 2756.9 L1377.2 2757.1 L1380.0 2757.2 L1382.7 2757.3 L1385.4 2757.4 L1388.1 2757.5 L1390.8 2757.7 L1393.5 2757.8" stroke="#a80000" stroke-width="4.6" stroke-dasharray="16.6 1.6" stroke-dashoffset="1.2"/>
<path d="M310.5 1731.3 L313.2 1731.6 L315.9 1731.8 L318.6 1732.1 L321.3 1732.4 L324.0 1732.7 L326.7 1733.0 L329.4 1733.3 L332.1 1733.6 L334.8 1734.0 L337.5 1734.3 L340.2 1734.7 L342.9 1735.0 L345.6 1735.4 L348.3 1735.8 L351.0 1736.2 L353.7 1736.6 L356.4 1737.0 L359.1 1737.4 L361.8 1737.9 L364.5 1738.3 L367.2 1738.8 L369.9 1739.3 L372.6 1739.8 L375.3 1740.3 L378.0 1740.8 L380.7 1741.4 L383.4 1741.9 L386.1 1742.5 L388.8 1743.1 L391.5 1743.7 L394.2 1744.3 L396.9 1744.9 L399.6 1745.6 L402.3 1746.2 L405.0 1746.9 L407.7 1747.6 L410.4 1748.3 L413.1 1749.1 L415.8 1749.8 L418.5 1750.6 L421.2 1751.4 L423.9 1752.2 L426.6 1753.0 L429.3 1753.9 L432.0 1754.8 L434.7 1755.7 L437.4 1756.7 L440.1 1757.6 L442.8 1758.6 L445.5 1759.6 L448.2 1760.7 L450.9 1761.8 L453.6 1762.9 L456.3 1764.0 L459.0 1765.1 L461.7 1766.3 L464.4 1767.6 L467.1 1768.8 L469.8 1770.1 L472.5 1771.4 L475.2 1772.8 L477.9 1774.2 L480.6 1775.6 L483.3 1777.1 L486.0 1778.6 L488.7 1780.2 L491.4 1781.7 L494.1 1783.4 L496.8 1785.0 L499.5 1786.8 L502.2 1788.5 L504.9 1790.3 L507.6 1792.1 L510.3 1794.0 L513.0 1796.0 L515.7 1797.9 L518.4 1799.9 L521.1 1802.0 L523.8 1804.1 L526.5 1806.3 L529.2 1808.6 L531.9 1810.9 L534.6 1813.3 L537.3 1815.7 L540.0 1818.2 L542.7 1820.8 L545.4 1823.4 L548.1 1826.1 L550.8 1828.9 L553.5 1831.8 L556.2 1834.7 L558.9 1837.8 L561.6 1840.8 L564.3 1844.0 L567.0 1847.2 L569.7 1850.5 L572.4 1853.9 L575.1 1857.3 L577.8 1860.8 L580.5 1864.3 L583.2 1868.0 L585.9 1871.7 L588.6 1875.5 L591.3 1879.4 L594.0 1883.4 L596.8 1887.5 L599.5 1891.6 L602.2 1895.8 L604.9 1900.1 L607.6 1904.6 L610.3 1909.0 L613.0 1913.6 L615.7 1918.3 L618.4 1923.0 L621.2 1927.9 L623.9 1932.8 L626.6 1937.8 L629.3 1942.9 L632.0 1948.1 L634.7 1953.4 L637.4 1958.8 L640.1 1964.3 L642.8 1969.8 L645.5 1975.4 L648.2 1981.1 L651.0 1986.9 L653.7 1992.8 L656.4 1998.8 L659.1 2004.8 L661.8 2010.9 L664.5 2017.1 L667.2 2023.4 L669.9 2029.8 L672.6 2036.3 L675.4 2042.8 L678.1 2049.4 L680.8 2056.1 L683.5 2062.9 L686.2 2069.7 L688.9 2076.5 L691.6 2083.4 L694.3 2090.4 L697.0 2097.4 L699.7 2104.4 L702.5 2111.4 L705.2 2118.5 L707.9 2125.5 L710.6 2132.6 L713.3 2139.6 L716.0 2146.6 L718.7 2153.5 L721.4 2160.4 L724.1 2167.3 L726.8 2174.2 L729.5 2181.0 L732.3 2187.8 L735.0 2194.6 L737.7 2201.4 L740.4 2208.2 L743.1 2215.0 L745.8 2221.8 L748.5 2228.5 L751.2 2235.2 L753.9 2241.7 L756.7 2248.3 L759.4 2254.9 L762.1 2261.5 L764.8 2268.1 L767.5 2274.8 L770.2 2281.6 L772.9 2288.5 L775.6 2295.3 L778.3 2302.1 L781.0 2308.8 L783.8 2315.5 L786.5 2322.2 L789.2 2328.8 L791.9 2335.5 L794.6 2342.1 L797.3 2348.8 L800.0 2355.5 L802.7 2362.2 L805.4 2368.9 L808.1 2375.4 L810.9 2381.9 L813.6 2388.3 L816.3 2394.6 L819.0 2400.8 L821.7 2407.0 L824.4 2413.1 L827.1 2419.2 L829.8 2425.2 L832.5 2431.1 L835.2 2437.0 L838.0 2442.8 L840.7 2448.5 L843.4 2454.2 L846.1 2459.8 L848.8 2465.3 L851.5 2470.8 L854.2 2476.2 L856.9 2481.5 L859.6 2486.8 L862.3 2492.0 L865.0 2497.1 L867.8 2502.2 L870.5 2507.2 L873.2 2512.2 L875.9 2517.0 L878.6 2521.8 L881.3 2526.6 L884.0 2531.2 L886.7 2535.8 L889.4 2540.4 L892.1 2544.8 L894.9 2549.2 L897.6 2553.6 L900.3 2557.8 L903.0 2562.0 L905.7 2566.1 L908.4 2570.2 L911.1 2574.1 L913.8 2578.0 L916.5 2581.9 L919.2 2585.7 L922.0 2589.4 L924.7 2593.0 L927.4 2596.6 L930.1 2600.1 L932.8 2603.5 L935.5 2606.9 L938.2 2610.2 L940.9 2613.5 L943.6 2616.6 L946.4 2619.8 L949.1 2622.8 L951.8 2625.9 L954.5 2628.8 L957.2 2631.7 L959.9 2634.5 L962.6 2637.3 L965.3 2640.0 L968.0 2642.7 L970.7 2645.3 L973.5 2647.9 L976.2 2650.4 L978.9 2652.8 L981.6 2655.2 L984.3 2657.6 L987.0 2659.9 L989.7 2662.1 L992.4 2664.3 L995.1 2666.4 L997.8 2668.5 L1000.6 2670.6 L1003.3 2672.6 L1006.0 2674.5 L1008.7 2676.4 L1011.4 2678.3 L1014.1 2680.1 L1016.8 2681.9 L1019.5 2683.6 L1022.2 2685.3 L1024.9 2687.0 L1027.7 2688.6 L1030.4 2690.2 L1033.1 2691.7 L1035.8 2693.3 L1038.5 2694.8 L1041.2 2696.2 L1043.9 2697.7 L1046.6 2699.1 L1049.3 2700.5 L1052.0 2701.8 L1054.8 2703.1 L1057.5 2704.4 L1060.2 2705.7 L1062.9 2706.9 L1065.6 2708.1 L1068.3 2709.3 L1071.0 2710.4 L1073.7 2711.6 L1076.4 2712.7 L1079.1 2713.7 L1081.8 2714.8 L1084.6 2715.8 L1087.3 2716.8 L1090.0 2717.8 L1092.7 2718.8 L1095.4 2719.7 L1098.1 2720.6 L1100.8 2721.5 L1103.5 2722.4 L1106.2 2723.3 L1109.0 2724.1 L1111.7 2724.9 L1114.4 2725.7 L1117.1 2726.5 L1119.8 2727.2 L1122.5 2728.0 L1125.2 2728.7 L1127.9 2729.4 L1130.6 2730.1 L1133.3 2730.8 L1136.1 2731.4 L1138.8 2732.1 L1141.5 2732.7 L1144.2 2733.3 L1146.9 2733.9 L1149.6 2734.5 L1152.3 2735.0 L1155.0 2735.6 L1157.7 2736.1 L1160.4 2736.6 L1163.2 2737.2 L1165.9 2737.7 L1168.6 2738.2 L1171.3 2738.6 L1174.0 2739.1 L1176.7 2739.6 L1179.4 2740.0 L1182.1 2740.5 L1184.8 2740.9 L1187.5 2741.3 L1190.2 2741.7 L1193.0 2742.2 L1195.7 2742.6 L1198.4 2742.9 L1201.1 2743.3 L1203.8 2743.7 L1206.5 2744.1 L1209.2 2744.5 L1211.9 2744.8 L1214.6 2745.2 L1217.3 2745.5 L1220.1 2745.8 L1222.8 2746.2 L1225.5 2746.5 L1228.2 2746.8 L1230.9 2747.1 L1233.6 2747.4 L1236.3 2747.7 L1239.0 2748.0 L1241.7 2748.3 L1244.5 2748.5 L1247.2 2748.8 L1249.9 2749.1 L1252.6 2749.3 L1255.3 2749.6 L1258.0 2749.8 L1260.7 2750.1 L1263.4 2750.3 L1266.1 2750.5 L1268.8 2750.7 L1271.6 2751.0 L1274.3 2751.2 L1277.0 2751.4 L1279.7 2751.6 L1282.4 2751.8 L1285.1 2752.0 L1287.8 2752.2 L1290.5 2752.3 L1293.2 2752.5 L1295.9 2752.7 L1298.7 2752.9 L1301.4 2753.0 L1304.1 2753.2 L1306.8 2753.4 L1309.5 2753.5 L1312.2 2753.7 L1314.9 2753.8 L1317.6 2754.0 L1320.3 2754.2 L1323.0 2754.3 L1325.8 2754.4 L1328.5 2754.6 L1331.2 2754.7 L1333.9 2754.9 L1336.6 2755.0 L1339.3 2755.2 L1342.0 2755.3 L1344.7 2755.5 L1347.4 2755.6 L1350.1 2755.7 L1352.8 2755.9 L1355.6 2756.0 L1358.3 2756.2 L1361.0 2756.3 L1363.7 2756.4 L1366.4 2756.5 L1369.1 2756.7 L1371.8 2756.8 L1374.5 2756.9 L1377.2 2757.1 L1380.0 2757.2 L1382.7 2757.3 L1385.4 2757.4 L1388.1 2757.5 L1390.8 2757.7 L1393.5 2757.8" stroke="#ff0000" stroke-width="4.4"/>
<path d="M310.5 1741.2 L313.2 1741.8 L315.9 1742.3 L318.6 1742.9 L321.3 1743.4 L324.0 1744.0 L326.7 1744.6 L329.4 1745.3 L332.1 1745.9 L334.8 1746.6 L337.5 1747.3 L340.2 1748.0 L342.9 1748.8 L345.6 1749.5 L348.3 1750.3 L351.0 1751.2 L353.7 1752.0 L356.4 1752.9 L359.1 1753.8 L361.8 1754.7 L364.5 1755.6 L367.2 1756.6 L369.9 1757.6 L372.6 1758.7 L375.3 1759.7 L378.0 1760.8 L380.7 1761.9 L383.4 1763.1 L386.1 1764.3 L388.8 1765.5 L391.5 1766.8 L394.2 1768.1 L396.9 1769.4 L399.6 1770.8 L402.3 1772.1 L405.0 1773.6 L407.7 1775.0 L410.4 1776.5 L413.1 1778.1 L415.8 1779.6 L418.5 1781.3 L421.2 1782.9 L423.9 1784.6 L426.6 1786.4 L429.3 1788.2 L432.0 1790.0 L434.7 1791.9 L437.4 1793.8 L440.1 1795.8 L442.8 1797.9 L445.5 1800.0 L448.2 1802.1 L450.9 1804.3 L453.6 1806.6 L456.3 1808.9 L459.0 1811.3 L461.7 1813.7 L464.4 1816.2 L467.1 1818.7 L469.8 1821.3 L472.5 1823.9 L475.2 1826.6 L477.9 1829.4 L480.6 1832.2 L483.3 1835.0 L486.0 1838.0 L488.7 1841.0 L491.4 1844.0 L494.1 1847.2 L496.8 1850.4 L499.5 1853.7 L502.2 1857.0 L504.9 1860.5 L507.6 1864.1 L510.3 1867.8 L513.0 1871.5 L515.7 1875.4 L518.4 1879.4 L521.1 1883.4 L523.8 1887.6 L526.5 1891.8 L529.2 1896.2 L531.9 1900.6 L534.6 1905.1 L537.3 1909.8 L540.0 1914.5 L542.7 1919.3 L545.4 1924.3 L548.1 1929.3 L550.8 1934.5 L553.5 1939.8 L556.2 1945.2 L558.9 1950.7 L561.6 1956.3 L564.3 1962.1 L567.0 1967.8 L569.7 1973.7 L572.4 1979.7 L575.1 1985.7 L577.8 1991.8 L580.5 1998.0 L583.2 2004.2 L585.9 2010.6 L588.6 2017.0 L591.3 2023.5 L594.0 2030.2 L596.8 2036.9 L599.5 2043.8 L602.2 2050.7 L604.9 2057.7 L607.6 2064.8 L610.3 2072.0 L613.0 2079.3 L615.7 2086.6 L618.4 2094.1 L621.2 2101.6 L623.9 2109.1 L626.6 2116.7 L629.3 2124.4 L632.0 2132.1 L634.7 2139.9 L637.4 2147.7 L640.1 2155.5 L642.8 2163.3 L645.5 2171.2 L648.2 2179.1 L651.0 2187.0 L653.7 2194.9 L656.4 2202.8 L659.1 2210.7 L661.8 2218.6 L664.5 2226.5 L667.2 2234.3 L669.9 2242.0 L672.6 2249.7 L675.4 2257.3 L678.1 2264.9 L680.8 2272.4 L683.5 2279.9 L686.2 2287.3 L688.9 2294.6 L691.6 2301.9 L694.3 2309.2 L697.0 2316.4 L699.7 2323.6 L702.5 2330.7 L705.2 2337.8 L707.9 2344.9 L710.6 2351.9 L713.3 2358.9 L716.0 2365.9 L718.7 2372.7 L721.4 2379.5 L724.1 2386.2 L726.8 2392.8 L729.5 2399.4 L732.3 2405.9 L735.0 2412.3 L737.7 2418.6 L740.4 2424.9 L743.1 2431.1 L745.8 2437.2 L748.5 2443.4 L751.2 2449.5 L753.9 2455.6 L756.7 2461.6 L759.4 2467.5 L762.1 2473.4 L764.8 2479.2 L767.5 2484.9 L770.2 2490.5 L772.9 2496.0 L775.6 2501.4 L778.3 2506.8 L781.0 2512.0 L783.8 2517.2 L786.5 2522.2 L789.2 2527.2 L791.9 2532.1 L794.6 2537.0 L797.3 2541.8 L800.0 2546.5 L802.7 2551.1 L805.4 2555.6 L808.1 2560.0 L810.9 2564.2 L813.6 2568.4 L816.3 2572.4 L819.0 2576.4 L821.7 2580.3 L824.4 2584.1 L827.1 2587.9 L829.8 2591.6 L832.5 2595.2 L835.2 2598.8 L838.0 2602.3 L840.7 2605.7 L843.4 2609.0 L846.1 2612.3 L848.8 2615.5 L851.5 2618.7 L854.2 2621.8 L856.9 2624.8 L859.6 2627.7 L862.3 2630.6 L865.0 2633.5 L867.8 2636.3 L870.5 2639.0 L873.2 2641.6 L875.9 2644.2 L878.6 2646.8 L881.3 2649.3 L884.0 2651.7 L886.7 2654.1 L889.4 2656.4 L892.1 2658.7 L894.9 2661.0 L897.6 2663.2 L900.3 2665.3 L903.0 2667.4 L905.7 2669.4 L908.4 2671.4 L911.1 2673.4 L913.8 2675.3 L916.5 2677.2 L919.2 2679.1 L922.0 2680.9 L924.7 2682.6 L927.4 2684.3 L930.1 2686.0 L932.8 2687.7 L935.5 2689.3 L938.2 2690.9 L940.9 2692.4 L943.6 2693.9 L946.4 2695.4 L949.1 2696.9 L951.8 2698.3 L954.5 2699.7 L957.2 2701.0 L959.9 2702.3 L962.6 2703.6 L965.3 2704.9 L968.0 2706.1 L970.7 2707.4 L973.5 2708.5 L976.2 2709.7 L978.9 2710.8 L981.6 2711.9 L984.3 2713.0 L987.0 2714.1 L989.7 2715.1 L992.4 2716.1 L995.1 2717.1 L997.8 2718.0 L1000.6 2719.0 L1003.3 2719.9 L1006.0 2720.8 L1008.7 2721.7 L1011.4 2722.5 L1014.1 2723.4 L1016.8 2724.2 L1019.5 2725.0 L1022.2 2725.8 L1024.9 2726.5 L1027.7 2727.3 L1030.4 2728.0 L1033.1 2728.7 L1035.8 2729.4 L1038.5 2730.1 L1041.2 2730.8 L1043.9 2731.4 L1046.6 2732.0 L1049.3 2732.7 L1052.0 2733.3 L1054.8 2733.9 L1057.5 2734.4 L1060.2 2735.0 L1062.9 2735.5 L1065.6 2736.1 L1068.3 2736.6 L1071.0 2737.1 L1073.7 2737.6 L1076.4 2738.1 L1079.1 2738.6 L1081.8 2739.1 L1084.6 2739.5 L1087.3 2740.0 L1090.0 2740.4 L1092.7 2740.8 L1095.4 2741.2 L1098.1 2741.6 L1100.8 2742.0 L1103.5 2742.4 L1106.2 2742.8 L1109.0 2743.2 L1111.7 2743.5 L1114.4 2743.9 L1117.1 2744.2 L1119.8 2744.6 L1122.5 2744.9 L1125.2 2745.2 L1127.9 2745.6 L1130.6 2745.9 L1133.3 2746.2 L1136.1 2746.5 L1138.8 2746.8 L1141.5 2747.0 L1144.2 2747.3 L1146.9 2747.6 L1149.6 2747.9 L1152.3 2748.1 L1155.0 2748.4 L1157.7 2748.6 L1160.4 2748.9 L1163.2 2749.1 L1165.9 2749.3 L1168.6 2749.5 L1171.3 2749.8 L1174.0 2750.0 L1176.7 2750.2 L1179.4 2750.4 L1182.1 2750.6 L1184.8 2750.8 L1187.5 2751.0 L1190.2 2751.2 L1193.0 2751.4 L1195.7 2751.5 L1198.4 2751.7 L1201.1 2751.9 L1203.8 2752.1 L1206.5 2752.2 L1209.2 2752.4 L1211.9 2752.6 L1214.6 2752.7 L1217.3 2752.9 L1220.1 2753.0 L1222.8 2753.2 L1225.5 2753.3 L1228.2 2753.5 L1230.9 2753.6 L1233.6 2753.7 L1236.3 2753.9 L1239.0 2754.0 L1241.7 2754.1 L1244.5 2754.3 L1247.2 2754.4 L1249.9 2754.5 L1252.6 2754.6 L1255.3 2754.8 L1258.0 2754.9 L1260.7 2755.0 L1263.4 2755.1 L1266.1 2755.2 L1268.8 2755.3 L1271.6 2755.4 L1274.3 2755.5 L1277.0 2755.6 L1279.7 2755.7 L1282.4 2755.8 L1285.1 2755.9 L1287.8 2756.0 L1290.5 2756.1 L1293.2 2756.2 L1295.9 2756.3 L1298.7 2756.4 L1301.4 2756.4 L1304.1 2756.5 L1306.8 2756.6 L1309.5 2756.7 L1312.2 2756.8 L1314.9 2756.8 L1317.6 2756.9 L1320.3 2757.0 L1323.0 2757.0 L1325.8 2757.1 L1328.5 2757.2 L1331.2 2757.3 L1333.9 2757.3 L1336.6 2757.4 L1339.3 2757.5 L1342.0 2757.5 L1344.7 2757.6 L1347.4 2757.6 L1350.1 2757.7 L1352.8 2757.8 L1355.6 2757.8 L1358.3 2757.9 L1361.0 2757.9 L1363.7 2758.0 L1366.4 2758.0 L1369.1 2758.1 L1371.8 2758.1 L1374.5 2758.2 L1377.2 2758.3 L1380.0 2758.3 L1382.7 2758.4 L1385.4 2758.4 L1388.1 2758.4 L1390.8 2758.5 L1393.5 2758.5" stroke="#005000" stroke-width="4.6" stroke-dasharray="16.6 1.6" stroke-dashoffset="1.2"/>
<path d="M310.5 1744.7 L313.2 1745.3 L315.9 1745.8 L318.6 1746.4 L321.3 1747.0 L324.0 1747.6 L326.7 1748.2 L329.4 1748.9 L332.1 1749.6 L334.8 1750.3 L337.5 1751.0 L340.2 1751.8 L342.9 1752.5 L345.6 1753.3 L348.3 1754.2 L351.0 1755.0 L353.7 1755.9 L356.4 1756.8 L359.1 1757.7 L361.8 1758.7 L364.5 1759.7 L367.2 1760.7 L369.9 1761.7 L372.6 1762.8 L375.3 1763.9 L378.0 1765.1 L380.7 1766.2 L383.4 1767.4 L386.1 1768.7 L388.8 1770.0 L391.5 1771.3 L394.2 1772.6 L396.9 1774.0 L399.6 1775.4 L402.3 1776.9 L405.0 1778.4 L407.7 1779.9 L410.4 1781.5 L413.1 1783.1 L415.8 1784.7 L418.5 1786.4 L421.2 1788.1 L423.9 1789.9 L426.6 1791.7 L429.3 1793.6 L432.0 1795.5 L434.7 1797.5 L437.4 1799.5 L440.1 1801.6 L442.8 1803.7 L445.5 1805.9 L448.2 1808.2 L450.9 1810.4 L453.6 1812.8 L456.3 1815.2 L459.0 1817.6 L461.7 1820.1 L464.4 1822.7 L467.1 1825.3 L469.8 1828.0 L472.5 1830.7 L475.2 1833.5 L477.9 1836.3 L480.6 1839.1 L483.3 1842.1 L486.0 1845.1 L488.7 1848.1 L491.4 1851.2 L494.1 1854.4 L496.8 1857.8 L499.5 1861.2 L502.2 1864.7 L504.9 1868.3 L507.6 1872.0 L510.3 1875.7 L513.0 1879.6 L515.7 1883.6 L518.4 1887.7 L521.1 1891.9 L523.8 1896.1 L526.5 1900.5 L529.2 1904.9 L531.9 1909.4 L534.6 1914.1 L537.3 1918.8 L540.0 1923.6 L542.7 1928.5 L545.4 1933.5 L548.1 1938.6 L550.8 1943.9 L553.5 1949.3 L556.2 1954.7 L558.9 1960.3 L561.6 1965.9 L564.3 1971.6 L567.0 1977.4 L569.7 1983.3 L572.4 1989.3 L575.1 1995.3 L577.8 2001.3 L580.5 2007.5 L583.2 2013.6 L585.9 2019.9 L588.6 2026.3 L591.3 2032.7 L594.0 2039.3 L596.8 2045.9 L599.5 2052.6 L602.2 2059.4 L604.9 2066.3 L607.6 2073.2 L610.3 2080.2 L613.0 2087.3 L615.7 2094.4 L618.4 2101.6 L621.2 2108.9 L623.9 2116.2 L626.6 2123.6 L629.3 2131.0 L632.0 2138.5 L634.7 2146.0 L637.4 2153.5 L640.1 2161.1 L642.8 2168.7 L645.5 2176.3 L648.2 2183.9 L651.0 2191.6 L653.7 2199.2 L656.4 2206.9 L659.1 2214.5 L661.8 2222.2 L664.5 2229.8 L667.2 2237.4 L669.9 2244.9 L672.6 2252.4 L675.4 2259.8 L678.1 2267.1 L680.8 2274.5 L683.5 2281.8 L686.2 2289.0 L688.9 2296.2 L691.6 2303.4 L694.3 2310.5 L697.0 2317.6 L699.7 2324.6 L702.5 2331.7 L705.2 2338.7 L707.9 2345.7 L710.6 2352.6 L713.3 2359.6 L716.0 2366.4 L718.7 2373.2 L721.4 2379.9 L724.1 2386.6 L726.8 2393.2 L729.5 2399.7 L732.3 2406.2 L735.0 2412.6 L737.7 2418.9 L740.4 2425.1 L743.1 2431.3 L745.8 2437.4 L748.5 2443.6 L751.2 2449.7 L753.9 2455.7 L756.7 2461.7 L759.4 2467.7 L762.1 2473.5 L764.8 2479.3 L767.5 2485.0 L770.2 2490.6 L772.9 2496.1 L775.6 2501.5 L778.3 2506.8 L781.0 2512.0 L783.8 2517.2 L786.5 2522.2 L789.2 2527.2 L791.9 2532.2 L794.6 2537.0 L797.3 2541.8 L800.0 2546.5 L802.7 2551.1 L805.4 2555.6 L808.1 2560.0 L810.9 2564.2 L813.6 2568.4 L816.3 2572.4 L819.0 2576.4 L821.7 2580.3 L824.4 2584.2 L827.1 2587.9 L829.8 2591.6 L832.5 2595.3 L835.2 2598.8 L838.0 2602.3 L840.7 2605.7 L843.4 2609.0 L846.1 2612.3 L848.8 2615.5 L851.5 2618.7 L854.2 2621.8 L856.9 2624.8 L859.6 2627.8 L862.3 2630.7 L865.0 2633.5 L867.8 2636.3 L870.5 2639.0 L873.2 2641.7 L875.9 2644.3 L878.6 2646.8 L881.3 2649.3 L884.0 2651.7 L886.7 2654.1 L889.4 2656.5 L892.1 2658.7 L894.9 2661.0 L897.6 2663.2 L900.3 2665.3 L903.0 2667.4 L905.7 2669.5 L908.4 2671.5 L911.1 2673.4 L913.8 2675.3 L916.5 2677.2 L919.2 2679.1 L922.0 2680.9 L924.7 2682.6 L927.4 2684.3 L930.1 2686.0 L932.8 2687.7 L935.5 2689.3 L938.2 2690.9 L940.9 2692.4 L943.6 2693.9 L946.4 2695.4 L949.1 2696.9 L951.8 2698.3 L954.5 2699.7 L957.2 2701.0 L959.9 2702.3 L962.6 2703.6 L965.3 2704.9 L968.0 2706.1 L970.7 2707.4 L973.5 2708.5 L976.2 2709.7 L978.9 2710.8 L981.6 2711.9 L984.3 2713.0 L987.0 2714.1 L989.7 2715.1 L992.4 2716.1 L995.1 2717.1 L997.8 2718.0 L1000.6 2719.0 L1003.3 2719.9 L1006.0 2720.8 L1008.7 2721.7 L1011.4 2722.5 L1014.1 2723.4 L1016.8 2724.2 L1019.5 2725.0 L1022.2 2725.8 L1024.9 2726.5 L1027.7 2727.3 L1030.4 2728.0 L1033.1 2728.7 L1035.8 2729.4 L1038.5 2730.1 L1041.2 2730.8 L1043.9 2731.4 L1046.6 2732.0 L1049.3 2732.7 L1052.0 2733.3 L1054.8 2733.8 L1057.5 2734.4 L1060.2 2735.0 L1062.9 2735.5 L1065.6 2736.1 L1068.3 2736.6 L1071.0 2737.1 L1073.7 2737.6 L1076.4 2738.1 L1079.1 2738.6 L1081.8 2739.0 L1084.6 2739.5 L1087.3 2739.9 L1090.0 2740.4 L1092.7 2740.8 L1095.4 2741.2 L1098.1 2741.6 L1100.8 2742.0 L1103.5 2742.4 L1106.2 2742.8 L1109.0 2743.2 L1111.7 2743.5 L1114.4 2743.9 L1117.1 2744.2 L1119.8 2744.6 L1122.5 2744.9 L1125.2 2745.2 L1127.9 2745.6 L1130.6 2745.9 L1133.3 2746.2 L1136.1 2746.5 L1138.8 2746.8 L1141.5 2747.0 L1144.2 2747.3 L1146.9 2747.6 L1149.6 2747.9 L1152.3 2748.1 L1155.0 2748.4 L1157.7 2748.6 L1160.4 2748.9 L1163.2 2749.1 L1165.9 2749.3 L1168.6 2749.5 L1171.3 2749.8 L1174.0 2750.0 L1176.7 2750.2 L1179.4 2750.4 L1182.1 2750.6 L1184.8 2750.8 L1187.5 2751.0 L1190.2 2751.2 L1193.0 2751.4 L1195.7 2751.5 L1198.4 2751.7 L1201.1 2751.9 L1203.8 2752.1 L1206.5 2752.2 L1209.2 2752.4 L1211.9 2752.6 L1214.6 2752.7 L1217.3 2752.9 L1220.1 2753.0 L1222.8 2753.2 L1225.5 2753.3 L1228.2 2753.5 L1230.9 2753.6 L1233.6 2753.7 L1236.3 2753.9 L1239.0 2754.0 L1241.7 2754.1 L1244.5 2754.3 L1247.2 2754.4 L1249.9 2754.5 L1252.6 2754.6 L1255.3 2754.7 L1258.0 2754.9 L1260.7 2755.0 L1263.4 2755.1 L1266.1 2755.2 L1268.8 2755.3 L1271.6 2755.4 L1274.3 2755.5 L1277.0 2755.6 L1279.7 2755.7 L1282.4 2755.8 L1285.1 2755.9 L1287.8 2756.0 L1290.5 2756.1 L1293.2 2756.2 L1295.9 2756.3 L1298.7 2756.4 L1301.4 2756.4 L1304.1 2756.5 L1306.8 2756.6 L1309.5 2756.7 L1312.2 2756.8 L1314.9 2756.8 L1317.6 2756.9 L1320.3 2757.0 L1323.0 2757.0 L1325.8 2757.1 L1328.5 2757.2 L1331.2 2757.3 L1333.9 2757.3 L1336.6 2757.4 L1339.3 2757.5 L1342.0 2757.5 L1344.7 2757.6 L1347.4 2757.6 L1350.1 2757.7 L1352.8 2757.8 L1355.6 2757.8 L1358.3 2757.9 L1361.0 2757.9 L1363.7 2758.0 L1366.4 2758.0 L1369.1 2758.1 L1371.8 2758.1 L1374.5 2758.2 L1377.2 2758.3 L1380.0 2758.3 L1382.7 2758.4 L1385.4 2758.4 L1388.1 2758.4 L1390.8 2758.5 L1393.5 2758.5" stroke="#00e000" stroke-width="4.4"/>
<path d="M310.5 1762.8 L313.2 1763.7 L315.9 1764.6 L318.6 1765.6 L321.3 1766.6 L324.0 1767.7 L326.7 1768.7 L329.4 1769.9 L332.1 1771.0 L334.8 1772.2 L337.5 1773.5 L340.2 1774.8 L342.9 1776.1 L345.6 1777.5 L348.3 1778.9 L351.0 1780.4 L353.7 1781.9 L356.4 1783.4 L359.1 1785.0 L361.8 1786.7 L364.5 1788.4 L367.2 1790.1 L369.9 1791.9 L372.6 1793.8 L375.3 1795.7 L378.0 1797.6 L380.7 1799.6 L383.4 1801.7 L386.1 1803.8 L388.8 1806.0 L391.5 1808.3 L394.2 1810.6 L396.9 1813.0 L399.6 1815.4 L402.3 1818.0 L405.0 1820.6 L407.7 1823.2 L410.4 1826.0 L413.1 1828.8 L415.8 1831.6 L418.5 1834.6 L421.2 1837.6 L423.9 1840.6 L426.6 1843.7 L429.3 1846.9 L432.0 1850.1 L434.7 1853.4 L437.4 1856.7 L440.1 1860.1 L442.8 1863.6 L445.5 1867.1 L448.2 1870.7 L450.9 1874.4 L453.6 1878.1 L456.3 1881.9 L459.0 1885.8 L461.7 1889.8 L464.4 1893.9 L467.1 1898.1 L469.8 1902.3 L472.5 1906.7 L475.2 1911.1 L477.9 1915.5 L480.6 1920.1 L483.3 1924.7 L486.0 1929.4 L488.7 1934.2 L491.4 1939.1 L494.1 1944.1 L496.8 1949.3 L499.5 1954.6 L502.2 1960.1 L504.9 1965.7 L507.6 1971.5 L510.3 1977.4 L513.0 1983.4 L515.7 1989.6 L518.4 1995.9 L521.1 2002.2 L523.8 2008.7 L526.5 2015.2 L529.2 2021.8 L531.9 2028.5 L534.6 2035.2 L537.3 2042.0 L540.0 2048.7 L542.7 2055.6 L545.4 2062.5 L548.1 2069.5 L550.8 2076.6 L553.5 2083.7 L556.2 2090.9 L558.9 2098.1 L561.6 2105.4 L564.3 2112.7 L567.0 2120.1 L569.7 2127.6 L572.4 2135.0 L575.1 2142.5 L577.8 2150.0 L580.5 2157.5 L583.2 2165.1 L585.9 2172.6 L588.6 2180.1 L591.3 2187.6 L594.0 2195.1 L596.8 2202.5 L599.5 2209.9 L602.2 2217.3 L604.9 2224.7 L607.6 2232.0 L610.3 2239.3 L613.0 2246.6 L615.7 2253.8 L618.4 2261.0 L621.2 2268.2 L623.9 2275.3 L626.6 2282.3 L629.3 2289.3 L632.0 2296.3 L634.7 2303.2 L637.4 2310.1 L640.1 2316.9 L642.8 2323.7 L645.5 2330.5 L648.2 2337.1 L651.0 2343.8 L653.7 2350.4 L656.4 2356.9 L659.1 2363.5 L661.8 2369.9 L664.5 2376.3 L667.2 2382.7 L669.9 2389.0 L672.6 2395.2 L675.4 2401.4 L678.1 2407.5 L680.8 2413.6 L683.5 2419.5 L686.2 2425.5 L688.9 2431.3 L691.6 2437.1 L694.3 2442.9 L697.0 2448.5 L699.7 2454.1 L702.5 2459.7 L705.2 2465.1 L707.9 2470.5 L710.6 2475.9 L713.3 2481.2 L716.0 2486.5 L718.7 2491.8 L721.4 2497.0 L724.1 2502.1 L726.8 2507.2 L729.5 2512.3 L732.3 2517.2 L735.0 2522.1 L737.7 2526.8 L740.4 2531.5 L743.1 2536.0 L745.8 2540.5 L748.5 2544.8 L751.2 2549.1 L753.9 2553.3 L756.7 2557.5 L759.4 2561.6 L762.1 2565.6 L764.8 2569.5 L767.5 2573.4 L770.2 2577.3 L772.9 2581.1 L775.6 2584.9 L778.3 2588.6 L781.0 2592.3 L783.8 2596.0 L786.5 2599.6 L789.2 2603.2 L791.9 2606.7 L794.6 2610.2 L797.3 2613.7 L800.0 2617.2 L802.7 2620.6 L805.4 2623.9 L808.1 2627.0 L810.9 2629.9 L813.6 2632.8 L816.3 2635.5 L819.0 2638.2 L821.7 2640.8 L824.4 2643.4 L827.1 2645.9 L829.8 2648.3 L832.5 2650.7 L835.2 2653.0 L838.0 2655.2 L840.7 2657.5 L843.4 2659.6 L846.1 2661.8 L848.8 2663.9 L851.5 2665.9 L854.2 2668.0 L856.9 2669.9 L859.6 2671.9 L862.3 2673.8 L865.0 2675.6 L867.8 2677.4 L870.5 2679.2 L873.2 2680.9 L875.9 2682.6 L878.6 2684.3 L881.3 2685.9 L884.0 2687.5 L886.7 2689.0 L889.4 2690.5 L892.1 2692.0 L894.9 2693.5 L897.6 2694.9 L900.3 2696.3 L903.0 2697.6 L905.7 2698.9 L908.4 2700.2 L911.1 2701.5 L913.8 2702.8 L916.5 2704.0 L919.2 2705.2 L922.0 2706.4 L924.7 2707.5 L927.4 2708.7 L930.1 2709.8 L932.8 2710.9 L935.5 2712.0 L938.2 2713.0 L940.9 2714.1 L943.6 2715.1 L946.4 2716.1 L949.1 2717.0 L951.8 2718.0 L954.5 2718.9 L957.2 2719.8 L959.9 2720.7 L962.6 2721.5 L965.3 2722.4 L968.0 2723.2 L970.7 2724.0 L973.5 2724.8 L976.2 2725.6 L978.9 2726.3 L981.6 2727.1 L984.3 2727.8 L987.0 2728.5 L989.7 2729.2 L992.4 2729.9 L995.1 2730.6 L997.8 2731.2 L1000.6 2731.8 L1003.3 2732.5 L1006.0 2733.1 L1008.7 2733.7 L1011.4 2734.3 L1014.1 2734.8 L1016.8 2735.4 L1019.5 2735.9 L1022.2 2736.5 L1024.9 2737.0 L1027.7 2737.5 L1030.4 2738.0 L1033.1 2738.5 L1035.8 2738.9 L1038.5 2739.4 L1041.2 2739.9 L1043.9 2740.3 L1046.6 2740.7 L1049.3 2741.1 L1052.0 2741.5 L1054.8 2741.9 L1057.5 2742.3 L1060.2 2742.7 L1062.9 2743.1 L1065.6 2743.5 L1068.3 2743.8 L1071.0 2744.2 L1073.7 2744.5 L1076.4 2744.8 L1079.1 2745.2 L1081.8 2745.5 L1084.6 2745.8 L1087.3 2746.1 L1090.0 2746.4 L1092.7 2746.7 L1095.4 2746.9 L1098.1 2747.2 L1100.8 2747.5 L1103.5 2747.8 L1106.2 2748.0 L1109.0 2748.3 L1111.7 2748.5 L1114.4 2748.8 L1117.1 2749.0 L1119.8 2749.2 L1122.5 2749.4 L1125.2 2749.7 L1127.9 2749.9 L1130.6 2750.1 L1133.3 2750.3 L1136.1 2750.5 L1138.8 2750.7 L1141.5 2750.9 L1144.2 2751.1 L1146.9 2751.3 L1149.6 2751.5 L1152.3 2751.6 L1155.0 2751.8 L1157.7 2752.0 L1160.4 2752.2 L1163.2 2752.3 L1165.9 2752.5 L1168.6 2752.7 L1171.3 2752.8 L1174.0 2753.0 L1176.7 2753.1 L1179.4 2753.3 L1182.1 2753.4 L1184.8 2753.5 L1187.5 2753.7 L1190.2 2753.8 L1193.0 2753.9 L1195.7 2754.1 L1198.4 2754.2 L1201.1 2754.3 L1203.8 2754.4 L1206.5 2754.6 L1209.2 2754.7 L1211.9 2754.8 L1214.6 2754.9 L1217.3 2755.0 L1220.1 2755.1 L1222.8 2755.2 L1225.5 2755.3 L1228.2 2755.4 L1230.9 2755.5 L1233.6 2755.6 L1236.3 2755.7 L1239.0 2755.8 L1241.7 2755.9 L1244.5 2756.0 L1247.2 2756.1 L1249.9 2756.1 L1252.6 2756.2 L1255.3 2756.3 L1258.0 2756.4 L1260.7 2756.5 L1263.4 2756.5 L1266.1 2756.6 L1268.8 2756.7 L1271.6 2756.7 L1274.3 2756.8 L1277.0 2756.9 L1279.7 2757.0 L1282.4 2757.0 L1285.1 2757.1 L1287.8 2757.1 L1290.5 2757.2 L1293.2 2757.3 L1295.9 2757.3 L1298.7 2757.4 L1301.4 2757.4 L1304.1 2757.5 L1306.8 2757.6 L1309.5 2757.6 L1312.2 2757.7 L1314.9 2757.7 L1317.6 2757.8 L1320.3 2757.8 L1323.0 2757.9 L1325.8 2757.9 L1328.5 2758.0 L1331.2 2758.0 L1333.9 2758.1 L1336.6 2758.1 L1339.3 2758.2 L1342.0 2758.2 L1344.7 2758.2 L1347.4 2758.3 L1350.1 2758.3 L1352.8 2758.4 L1355.6 2758.4 L1358.3 2758.5 L1361.0 2758.5 L1363.7 2758.5 L1366.4 2758.6 L1369.1 2758.6 L1371.8 2758.7 L1374.5 2758.7 L1377.2 2758.7 L1380.0 2758.8 L1382.7 2758.8 L1385.4 2758.8 L1388.1 2758.9 L1390.8 2758.9 L1393.5 2758.9" stroke="#0000e6" stroke-width="4.6" stroke-dasharray="16.6 1.6" stroke-dashoffset="1.2"/>
<path d="M310.5 1766.9 L313.2 1768.0 L315.9 1769.1 L318.6 1770.2 L321.3 1771.3 L324.0 1772.5 L326.7 1773.8 L329.4 1775.0 L332.1 1776.3 L334.8 1777.7 L337.5 1779.0 L340.2 1780.4 L342.9 1781.9 L345.6 1783.4 L348.3 1784.9 L351.0 1786.5 L353.7 1788.1 L356.4 1789.8 L359.1 1791.5 L361.8 1793.3 L364.5 1795.1 L367.2 1797.0 L369.9 1798.9 L372.6 1800.8 L375.3 1802.9 L378.0 1804.9 L380.7 1807.1 L383.4 1809.2 L386.1 1811.5 L388.8 1813.8 L391.5 1816.2 L394.2 1818.6 L396.9 1821.1 L399.6 1823.6 L402.3 1826.2 L405.0 1828.8 L407.7 1831.6 L410.4 1834.3 L413.1 1837.2 L415.8 1840.1 L418.5 1843.0 L421.2 1846.0 L423.9 1849.1 L426.6 1852.3 L429.3 1855.5 L432.0 1858.8 L434.7 1862.2 L437.4 1865.6 L440.1 1869.1 L442.8 1872.7 L445.5 1876.2 L448.2 1879.9 L450.9 1883.6 L453.6 1887.3 L456.3 1891.1 L459.0 1895.0 L461.7 1898.9 L464.4 1903.0 L467.1 1907.1 L469.8 1911.3 L472.5 1915.6 L475.2 1920.0 L477.9 1924.5 L480.6 1929.0 L483.3 1933.7 L486.0 1938.4 L488.7 1943.2 L491.4 1948.2 L494.1 1953.2 L496.8 1958.4 L499.5 1963.7 L502.2 1969.2 L504.9 1974.9 L507.6 1980.7 L510.3 1986.6 L513.0 1992.6 L515.7 1998.8 L518.4 2005.1 L521.1 2011.4 L523.8 2017.9 L526.5 2024.4 L529.2 2030.9 L531.9 2037.5 L534.6 2044.2 L537.3 2050.8 L540.0 2057.5 L542.7 2064.2 L545.4 2071.0 L548.1 2077.9 L550.8 2084.8 L553.5 2091.7 L556.2 2098.7 L558.9 2105.8 L561.6 2112.9 L564.3 2120.0 L567.0 2127.1 L569.7 2134.3 L572.4 2141.5 L575.1 2148.7 L577.8 2156.0 L580.5 2163.2 L583.2 2170.4 L585.9 2177.7 L588.6 2184.9 L591.3 2192.1 L594.0 2199.3 L596.8 2206.5 L599.5 2213.7 L602.2 2220.8 L604.9 2227.9 L607.6 2235.0 L610.3 2242.1 L613.0 2249.1 L615.7 2256.1 L618.4 2263.1 L621.2 2270.0 L623.9 2276.9 L626.6 2283.8 L629.3 2290.6 L632.0 2297.4 L634.7 2304.2 L637.4 2310.9 L640.1 2317.6 L642.8 2324.3 L645.5 2330.9 L648.2 2337.5 L651.0 2344.0 L653.7 2350.5 L656.4 2357.0 L659.1 2363.5 L661.8 2369.9 L664.5 2376.2 L667.2 2382.5 L669.9 2388.8 L672.6 2395.0 L675.4 2401.1 L678.1 2407.2 L680.8 2413.2 L683.5 2419.2 L686.2 2425.1 L688.9 2430.9 L691.6 2436.7 L694.3 2442.4 L697.0 2448.0 L699.7 2453.6 L702.5 2459.1 L705.2 2464.6 L707.9 2470.0 L710.6 2475.3 L713.3 2480.6 L716.0 2485.9 L718.7 2491.2 L721.4 2496.4 L724.1 2501.6 L726.8 2506.7 L729.5 2511.8 L732.3 2516.7 L735.0 2521.6 L737.7 2526.4 L740.4 2531.1 L743.1 2535.7 L745.8 2540.1 L748.5 2544.5 L751.2 2548.8 L753.9 2553.1 L756.7 2557.3 L759.4 2561.4 L762.1 2565.4 L764.8 2569.4 L767.5 2573.4 L770.2 2577.2 L772.9 2581.0 L775.6 2584.8 L778.3 2588.6 L781.0 2592.3 L783.8 2596.0 L786.5 2599.6 L789.2 2603.2 L791.9 2606.7 L794.6 2610.2 L797.3 2613.7 L800.0 2617.2 L802.7 2620.6 L805.4 2623.9 L808.1 2627.0 L810.9 2629.9 L813.6 2632.8 L816.3 2635.5 L819.0 2638.2 L821.7 2640.8 L824.4 2643.4 L827.1 2645.9 L829.8 2648.3 L832.5 2650.7 L835.2 2653.0 L838.0 2655.3 L840.7 2657.5 L843.4 2659.6 L846.1 2661.8 L848.8 2663.9 L851.5 2665.9 L854.2 2668.0 L856.9 2670.0 L859.6 2671.9 L862.3 2673.8 L865.0 2675.6 L867.8 2677.4 L870.5 2679.2 L873.2 2680.9 L875.9 2682.6 L878.6 2684.3 L881.3 2685.9 L884.0 2687.5 L886.7 2689.0 L889.4 2690.5 L892.1 2692.0 L894.9 2693.5 L897.6 2694.9 L900.3 2696.3 L903.0 2697.6 L905.7 2698.9 L908.4 2700.2 L911.1 2701.5 L913.8 2702.8 L916.5 2704.0 L919.2 2705.2 L922.0 2706.4 L924.7 2707.5 L927.4 2708.7 L930.1 2709.8 L932.8 2710.9 L935.5 2712.0 L938.2 2713.0 L940.9 2714.1 L943.6 2715.1 L946.4 2716.1 L949.1 2717.0 L951.8 2718.0 L954.5 2718.9 L957.2 2719.8 L959.9 2720.7 L962.6 2721.5 L965.3 2722.4 L968.0 2723.2 L970.7 2724.0 L973.5 2724.8 L976.2 2725.6 L978.9 2726.3 L981.6 2727.1 L984.3 2727.8 L987.0 2728.5 L989.7 2729.2 L992.4 2729.9 L995.1 2730.6 L997.8 2731.2 L1000.6 2731.8 L1003.3 2732.5 L1006.0 2733.1 L1008.7 2733.7 L1011.4 2734.3 L1014.1 2734.8 L1016.8 2735.4 L1019.5 2735.9 L1022.2 2736.5 L1024.9 2737.0 L1027.7 2737.5 L1030.4 2738.0 L1033.1 2738.5 L1035.8 2738.9 L1038.5 2739.4 L1041.2 2739.9 L1043.9 2740.3 L1046.6 2740.7 L1049.3 2741.1 L1052.0 2741.5 L1054.8 2741.9 L1057.5 2742.3 L1060.2 2742.7 L1062.9 2743.1 L1065.6 2743.5 L1068.3 2743.8 L1071.0 2744.2 L1073.7 2744.5 L1076.4 2744.8 L1079.1 2745.2 L1081.8 2745.5 L1084.6 2745.8 L1087.3 2746.1 L1090.0 2746.4 L1092.7 2746.7 L1095.4 2746.9 L1098.1 2747.2 L1100.8 2747.5 L1103.5 2747.8 L1106.2 2748.0 L1109.0 2748.3 L1111.7 2748.5 L1114.4 2748.8 L1117.1 2749.0 L1119.8 2749.2 L1122.5 2749.4 L1125.2 2749.7 L1127.9 2749.9 L1130.6 2750.1 L1133.3 2750.3 L1136.1 2750.5 L1138.8 2750.7 L1141.5 2750.9 L1144.2 2751.1 L1146.9 2751.3 L1149.6 2751.5 L1152.3 2751.6 L1155.0 2751.8 L1157.7 2752.0 L1160.4 2752.2 L1163.2 2752.3 L1165.9 2752.5 L1168.6 2752.7 L1171.3 2752.8 L1174.0 2753.0 L1176.7 2753.1 L1179.4 2753.3 L1182.1 2753.4 L1184.8 2753.5 L1187.5 2753.7 L1190.2 2753.8 L1193.0 2753.9 L1195.7 2754.1 L1198.4 2754.2 L1201.1 2754.3 L1203.8 2754.4 L1206.5 2754.6 L1209.2 2754.7 L1211.9 2754.8 L1214.6 2754.9 L1217.3 2755.0 L1220.1 2755.1 L1222.8 2755.2 L1225.5 2755.3 L1228.2 2755.4 L1230.9 2755.5 L1233.6 2755.6 L1236.3 2755.7 L1239.0 2755.8 L1241.7 2755.9 L1244.5 2756.0 L1247.2 2756.1 L1249.9 2756.1 L1252.6 2756.2 L1255.3 2756.3 L1258.0 2756.4 L1260.7 2756.5 L1263.4 2756.5 L1266.1 2756.6 L1268.8 2756.7 L1271.6 2756.7 L1274.3 2756.8 L1277.0 2756.9 L1279.7 2757.0 L1282.4 2757.0 L1285.1 2757.1 L1287.8 2757.1 L1290.5 2757.2 L1293.2 2757.3 L1295.9 2757.3 L1298.7 2757.4 L1301.4 2757.4 L1304.1 2757.5 L1306.8 2757.6 L1309.5 2757.6 L1312.2 2757.7 L1314.9 2757.7 L1317.6 2757.8 L1320.3 2757.8 L1323.0 2757.9 L1325.8 2757.9 L1328.5 2758.0 L1331.2 2758.0 L1333.9 2758.1 L1336.6 2758.1 L1339.3 2758.2 L1342.0 2758.2 L1344.7 2758.2 L1347.4 2758.3 L1350.1 2758.3 L1352.8 2758.4 L1355.6 2758.4 L1358.3 2758.5 L1361.0 2758.5 L1363.7 2758.5 L1366.4 2758.6 L1369.1 2758.6 L1371.8 2758.7 L1374.5 2758.7 L1377.2 2758.7 L1380.0 2758.8 L1382.7 2758.8 L1385.4 2758.8 L1388.1 2758.9 L1390.8 2758.9 L1393.5 2758.9" stroke="#00a5a8" stroke-width="4.4"/>
<path d="M310.5 1781.4 L313.2 1782.9 L315.9 1784.3 L318.6 1785.9 L321.3 1787.4 L324.0 1789.0 L326.7 1790.6 L329.4 1792.3 L332.1 1794.0 L334.8 1795.8 L337.5 1797.6 L340.2 1799.4 L342.9 1801.3 L345.6 1803.3 L348.3 1805.3 L351.0 1807.3 L353.7 1809.4 L356.4 1811.5 L359.1 1813.7 L361.8 1816.0 L364.5 1818.3 L367.2 1820.6 L369.9 1823.1 L372.6 1825.5 L375.3 1828.1 L378.0 1830.7 L380.7 1833.3 L383.4 1836.0 L386.1 1838.8 L388.8 1841.7 L391.5 1844.6 L394.2 1847.6 L396.9 1850.7 L399.6 1853.8 L402.3 1857.0 L405.0 1860.3 L407.7 1863.7 L410.4 1867.2 L413.1 1870.7 L415.8 1874.3 L418.5 1878.0 L421.2 1881.8 L423.9 1885.7 L426.6 1889.6 L429.3 1893.6 L432.0 1897.8 L434.7 1902.0 L437.4 1906.2 L440.1 1910.6 L442.8 1915.1 L445.5 1919.6 L448.2 1924.1 L450.9 1928.8 L453.6 1933.6 L456.3 1938.4 L459.0 1943.4 L461.7 1948.4 L464.4 1953.6 L467.1 1958.9 L469.8 1964.3 L472.5 1969.9 L475.2 1975.6 L477.9 1981.4 L480.6 1987.3 L483.3 1993.3 L486.0 1999.4 L488.7 2005.7 L491.4 2012.0 L494.1 2018.5 L496.8 2025.1 L499.5 2031.7 L502.2 2038.6 L504.9 2045.5 L507.6 2052.7 L510.3 2059.9 L513.0 2067.3 L515.7 2074.7 L518.4 2082.3 L521.1 2089.9 L523.8 2097.6 L526.5 2105.3 L529.2 2113.0 L531.9 2120.7 L534.6 2128.4 L537.3 2136.1 L540.0 2143.8 L542.7 2151.4 L545.4 2159.1 L548.1 2166.8 L550.8 2174.5 L553.5 2182.2 L556.2 2189.9 L558.9 2197.6 L561.6 2205.3 L564.3 2213.0 L567.0 2220.6 L569.7 2228.3 L572.4 2235.9 L575.1 2243.4 L577.8 2251.0 L580.5 2258.5 L583.2 2265.9 L585.9 2273.3 L588.6 2280.6 L591.3 2287.9 L594.0 2295.1 L596.8 2302.3 L599.5 2309.4 L602.2 2316.4 L604.9 2323.4 L607.6 2330.3 L610.3 2337.1 L613.0 2343.9 L615.7 2350.6 L618.4 2357.3 L621.2 2363.9 L623.9 2370.4 L626.6 2376.8 L629.3 2383.2 L632.0 2389.6 L634.7 2395.8 L637.4 2402.0 L640.1 2408.1 L642.8 2414.2 L645.5 2420.2 L648.2 2426.1 L651.0 2432.0 L653.7 2437.8 L656.4 2443.6 L659.1 2449.3 L661.8 2454.9 L664.5 2460.5 L667.2 2466.0 L669.9 2471.5 L672.6 2476.9 L675.4 2482.3 L678.1 2487.6 L680.8 2492.9 L683.5 2498.1 L686.2 2503.3 L688.9 2508.3 L691.6 2513.3 L694.3 2518.3 L697.0 2523.1 L699.7 2527.9 L702.5 2532.6 L705.2 2537.2 L707.9 2541.8 L710.6 2546.2 L713.3 2550.6 L716.0 2554.9 L718.7 2559.1 L721.4 2563.3 L724.1 2567.4 L726.8 2571.4 L729.5 2575.3 L732.3 2579.2 L735.0 2583.0 L737.7 2586.7 L740.4 2590.4 L743.1 2594.0 L745.8 2597.5 L748.5 2600.8 L751.2 2604.1 L753.9 2607.3 L756.7 2610.4 L759.4 2613.4 L762.1 2616.4 L764.8 2619.3 L767.5 2622.3 L770.2 2625.2 L772.9 2628.1 L775.6 2630.9 L778.3 2633.7 L781.0 2636.5 L783.8 2639.2 L786.5 2641.8 L789.2 2644.4 L791.9 2646.9 L794.6 2649.3 L797.3 2651.7 L800.0 2654.0 L802.7 2656.2 L805.4 2658.3 L808.1 2660.5 L810.9 2662.6 L813.6 2664.6 L816.3 2666.6 L819.0 2668.6 L821.7 2670.5 L824.4 2672.3 L827.1 2674.1 L829.8 2675.9 L832.5 2677.6 L835.2 2679.3 L838.0 2681.0 L840.7 2682.7 L843.4 2684.3 L846.1 2685.9 L848.8 2687.5 L851.5 2689.1 L854.2 2690.6 L856.9 2692.1 L859.6 2693.6 L862.3 2695.1 L865.0 2696.5 L867.8 2697.9 L870.5 2699.2 L873.2 2700.5 L875.9 2701.8 L878.6 2703.1 L881.3 2704.3 L884.0 2705.6 L886.7 2706.7 L889.4 2707.9 L892.1 2709.0 L894.9 2710.2 L897.6 2711.2 L900.3 2712.3 L903.0 2713.3 L905.7 2714.4 L908.4 2715.3 L911.1 2716.3 L913.8 2717.3 L916.5 2718.2 L919.2 2719.1 L922.0 2720.0 L924.7 2720.9 L927.4 2721.7 L930.1 2722.5 L932.8 2723.3 L935.5 2724.1 L938.2 2724.9 L940.9 2725.7 L943.6 2726.5 L946.4 2727.2 L949.1 2728.0 L951.8 2728.7 L954.5 2729.5 L957.2 2730.2 L959.9 2730.9 L962.6 2731.5 L965.3 2732.2 L968.0 2732.8 L970.7 2733.5 L973.5 2734.1 L976.2 2734.7 L978.9 2735.2 L981.6 2735.8 L984.3 2736.3 L987.0 2736.8 L989.7 2737.3 L992.4 2737.8 L995.1 2738.2 L997.8 2738.7 L1000.6 2739.2 L1003.3 2739.6 L1006.0 2740.0 L1008.7 2740.5 L1011.4 2740.9 L1014.1 2741.3 L1016.8 2741.7 L1019.5 2742.1 L1022.2 2742.4 L1024.9 2742.8 L1027.7 2743.2 L1030.4 2743.5 L1033.1 2743.9 L1035.8 2744.2 L1038.5 2744.5 L1041.2 2744.9 L1043.9 2745.2 L1046.6 2745.5 L1049.3 2745.8 L1052.0 2746.1 L1054.8 2746.4 L1057.5 2746.7 L1060.2 2746.9 L1062.9 2747.2 L1065.6 2747.5 L1068.3 2747.7 L1071.0 2748.0 L1073.7 2748.2 L1076.4 2748.5 L1079.1 2748.7 L1081.8 2749.0 L1084.6 2749.2 L1087.3 2749.4 L1090.0 2749.6 L1092.7 2749.9 L1095.4 2750.1 L1098.1 2750.3 L1100.8 2750.5 L1103.5 2750.7 L1106.2 2750.9 L1109.0 2751.0 L1111.7 2751.2 L1114.4 2751.4 L1117.1 2751.6 L1119.8 2751.8 L1122.5 2751.9 L1125.2 2752.1 L1127.9 2752.3 L1130.6 2752.4 L1133.3 2752.6 L1136.1 2752.7 L1138.8 2752.9 L1141.5 2753.0 L1144.2 2753.2 L1146.9 2753.3 L1149.6 2753.5 L1152.3 2753.6 L1155.0 2753.7 L1157.7 2753.9 L1160.4 2754.0 L1163.2 2754.1 L1165.9 2754.3 L1168.6 2754.4 L1171.3 2754.5 L1174.0 2754.6 L1176.7 2754.8 L1179.4 2754.9 L1182.1 2755.0 L1184.8 2755.1 L1187.5 2755.2 L1190.2 2755.3 L1193.0 2755.4 L1195.7 2755.5 L1198.4 2755.6 L1201.1 2755.7 L1203.8 2755.8 L1206.5 2755.9 L1209.2 2755.9 L1211.9 2756.0 L1214.6 2756.1 L1217.3 2756.2 L1220.1 2756.3 L1222.8 2756.3 L1225.5 2756.4 L1228.2 2756.5 L1230.9 2756.6 L1233.6 2756.6 L1236.3 2756.7 L1239.0 2756.8 L1241.7 2756.8 L1244.5 2756.9 L1247.2 2757.0 L1249.9 2757.0 L1252.6 2757.1 L1255.3 2757.1 L1258.0 2757.2 L1260.7 2757.3 L1263.4 2757.3 L1266.1 2757.4 L1268.8 2757.4 L1271.6 2757.5 L1274.3 2757.5 L1277.0 2757.6 L1279.7 2757.6 L1282.4 2757.7 L1285.1 2757.7 L1287.8 2757.8 L1290.5 2757.8 L1293.2 2757.8 L1295.9 2757.9 L1298.7 2757.9 L1301.4 2758.0 L1304.1 2758.0 L1306.8 2758.0 L1309.5 2758.1 L1312.2 2758.1 L1314.9 2758.2 L1317.6 2758.2 L1320.3 2758.2 L1323.0 2758.3 L1325.8 2758.3 L1328.5 2758.3 L1331.2 2758.4 L1333.9 2758.4 L1336.6 2758.4 L1339.3 2758.4 L1342.0 2758.5 L1344.7 2758.5 L1347.4 2758.5 L1350.1 2758.6 L1352.8 2758.6 L1355.6 2758.6 L1358.3 2758.6 L1361.0 2758.7 L1363.7 2758.7 L1366.4 2758.7 L1369.1 2758.7 L1371.8 2758.8 L1374.5 2758.8 L1377.2 2758.8 L1380.0 2758.8 L1382.7 2758.9 L1385.4 2758.9 L1388.1 2758.9 L1390.8 2758.9 L1393.5 2758.9" stroke="#ff5500" stroke-width="4.6" stroke-dasharray="16.6 1.6" stroke-dashoffset="1.2"/>
<path d="M310.5 1785.7 L313.2 1787.4 L315.9 1789.0 L318.6 1790.8 L321.3 1792.5 L324.0 1794.3 L326.7 1796.1 L329.4 1798.0 L332.1 1799.9 L334.8 1801.9 L337.5 1803.9 L340.2 1805.9 L342.9 1808.0 L345.6 1810.1 L348.3 1812.3 L351.0 1814.5 L353.7 1816.8 L356.4 1819.1 L359.1 1821.5 L361.8 1823.9 L364.5 1826.4 L367.2 1828.9 L369.9 1831.5 L372.6 1834.2 L375.3 1836.9 L378.0 1839.6 L380.7 1842.5 L383.4 1845.4 L386.1 1848.3 L388.8 1851.4 L391.5 1854.5 L394.2 1857.6 L396.9 1860.9 L399.6 1864.1 L402.3 1867.5 L405.0 1870.9 L407.7 1874.4 L410.4 1878.0 L413.1 1881.6 L415.8 1885.3 L418.5 1889.1 L421.2 1892.9 L423.9 1896.9 L426.6 1900.9 L429.3 1905.0 L432.0 1909.1 L434.7 1913.4 L437.4 1917.7 L440.1 1922.1 L442.8 1926.6 L445.5 1931.1 L448.2 1935.6 L450.9 1940.2 L453.6 1944.9 L456.3 1949.7 L459.0 1954.6 L461.7 1959.6 L464.4 1964.8 L467.1 1970.0 L469.8 1975.5 L472.5 1981.0 L475.2 1986.8 L477.9 1992.6 L480.6 1998.6 L483.3 2004.6 L486.0 2010.7 L488.7 2016.9 L491.4 2023.2 L494.1 2029.6 L496.8 2036.1 L499.5 2042.6 L502.2 2049.3 L504.9 2056.2 L507.6 2063.3 L510.3 2070.4 L513.0 2077.7 L515.7 2085.1 L518.4 2092.5 L521.1 2100.0 L523.8 2107.6 L526.5 2115.1 L529.2 2122.7 L531.9 2130.2 L534.6 2137.7 L537.3 2145.1 L540.0 2152.4 L542.7 2159.8 L545.4 2167.1 L548.1 2174.5 L550.8 2181.9 L553.5 2189.2 L556.2 2196.6 L558.9 2204.0 L561.6 2211.3 L564.3 2218.7 L567.0 2226.0 L569.7 2233.3 L572.4 2240.6 L575.1 2247.9 L577.8 2255.1 L580.5 2262.3 L583.2 2269.5 L585.9 2276.6 L588.6 2283.6 L591.3 2290.6 L594.0 2297.6 L596.8 2304.5 L599.5 2311.4 L602.2 2318.1 L604.9 2324.9 L607.6 2331.6 L610.3 2338.2 L613.0 2344.8 L615.7 2351.3 L618.4 2357.7 L621.2 2364.2 L623.9 2370.5 L626.6 2376.8 L629.3 2383.0 L632.0 2389.2 L634.7 2395.3 L637.4 2401.4 L640.1 2407.4 L642.8 2413.4 L645.5 2419.3 L648.2 2425.1 L651.0 2430.9 L653.7 2436.6 L656.4 2442.3 L659.1 2448.0 L661.8 2453.6 L664.5 2459.1 L667.2 2464.6 L669.9 2470.0 L672.6 2475.5 L675.4 2480.8 L678.1 2486.1 L680.8 2491.4 L683.5 2496.6 L686.2 2501.7 L688.9 2506.8 L691.6 2511.8 L694.3 2516.7 L697.0 2521.5 L699.7 2526.3 L702.5 2531.0 L705.2 2535.7 L707.9 2540.2 L710.6 2544.7 L713.3 2549.1 L716.0 2553.4 L718.7 2557.7 L721.4 2561.9 L724.1 2566.0 L726.8 2570.1 L729.5 2574.0 L732.3 2578.0 L735.0 2581.8 L737.7 2585.5 L740.4 2589.2 L743.1 2592.8 L745.8 2596.3 L748.5 2599.7 L751.2 2603.0 L753.9 2606.2 L756.7 2609.4 L759.4 2612.5 L762.1 2615.5 L764.8 2618.5 L767.5 2621.4 L770.2 2624.4 L772.9 2627.3 L775.6 2630.2 L778.3 2633.0 L781.0 2635.8 L783.8 2638.5 L786.5 2641.2 L789.2 2643.8 L791.9 2646.3 L794.6 2648.8 L797.3 2651.2 L800.0 2653.5 L802.7 2655.7 L805.4 2657.9 L808.1 2660.1 L810.9 2662.2 L813.6 2664.3 L816.3 2666.3 L819.0 2668.3 L821.7 2670.2 L824.4 2672.1 L827.1 2673.9 L829.8 2675.7 L832.5 2677.4 L835.2 2679.2 L838.0 2680.9 L840.7 2682.5 L843.4 2684.2 L846.1 2685.8 L848.8 2687.4 L851.5 2689.0 L854.2 2690.5 L856.9 2692.0 L859.6 2693.5 L862.3 2695.0 L865.0 2696.4 L867.8 2697.8 L870.5 2699.2 L873.2 2700.5 L875.9 2701.8 L878.6 2703.1 L881.3 2704.3 L884.0 2705.5 L886.7 2706.7 L889.4 2707.9 L892.1 2709.0 L894.9 2710.1 L897.6 2711.2 L900.3 2712.3 L903.0 2713.3 L905.7 2714.4 L908.4 2715.4 L911.1 2716.3 L913.8 2717.3 L916.5 2718.2 L919.2 2719.1 L922.0 2720.0 L924.7 2720.9 L927.4 2721.7 L930.1 2722.6 L932.8 2723.4 L935.5 2724.2 L938.2 2725.0 L940.9 2725.7 L943.6 2726.5 L946.4 2727.3 L949.1 2728.0 L951.8 2728.8 L954.5 2729.5 L957.2 2730.2 L959.9 2730.9 L962.6 2731.5 L965.3 2732.2 L968.0 2732.8 L970.7 2733.5 L973.5 2734.1 L976.2 2734.7 L978.9 2735.2 L981.6 2735.8 L984.3 2736.3 L987.0 2736.8 L989.7 2737.3 L992.4 2737.8 L995.1 2738.3 L997.8 2738.7 L1000.6 2739.2 L1003.3 2739.6 L1006.0 2740.1 L1008.7 2740.5 L1011.4 2740.9 L1014.1 2741.3 L1016.8 2741.7 L1019.5 2742.1 L1022.2 2742.5 L1024.9 2742.8 L1027.7 2743.2 L1030.4 2743.5 L1033.1 2743.9 L1035.8 2744.2 L1038.5 2744.5 L1041.2 2744.9 L1043.9 2745.2 L1046.6 2745.5 L1049.3 2745.8 L1052.0 2746.1 L1054.8 2746.4 L1057.5 2746.7 L1060.2 2747.0 L1062.9 2747.2 L1065.6 2747.5 L1068.3 2747.8 L1071.0 2748.0 L1073.7 2748.3 L1076.4 2748.5 L1079.1 2748.7 L1081.8 2749.0 L1084.6 2749.2 L1087.3 2749.4 L1090.0 2749.7 L1092.7 2749.9 L1095.4 2750.1 L1098.1 2750.3 L1100.8 2750.5 L1103.5 2750.7 L1106.2 2750.9 L1109.0 2751.1 L1111.7 2751.2 L1114.4 2751.4 L1117.1 2751.6 L1119.8 2751.8 L1122.5 2751.9 L1125.2 2752.1 L1127.9 2752.3 L1130.6 2752.4 L1133.3 2752.6 L1136.1 2752.7 L1138.8 2752.9 L1141.5 2753.0 L1144.2 2753.2 L1146.9 2753.3 L1149.6 2753.5 L1152.3 2753.6 L1155.0 2753.7 L1157.7 2753.9 L1160.4 2754.0 L1163.2 2754.1 L1165.9 2754.3 L1168.6 2754.4 L1171.3 2754.5 L1174.0 2754.6 L1176.7 2754.8 L1179.4 2754.9 L1182.1 2755.0 L1184.8 2755.1 L1187.5 2755.2 L1190.2 2755.3 L1193.0 2755.4 L1195.7 2755.5 L1198.4 2755.6 L1201.1 2755.7 L1203.8 2755.8 L1206.5 2755.9 L1209.2 2755.9 L1211.9 2756.0 L1214.6 2756.1 L1217.3 2756.2 L1220.1 2756.3 L1222.8 2756.3 L1225.5 2756.4 L1228.2 2756.5 L1230.9 2756.6 L1233.6 2756.6 L1236.3 2756.7 L1239.0 2756.8 L1241.7 2756.8 L1244.5 2756.9 L1247.2 2757.0 L1249.9 2757.0 L1252.6 2757.1 L1255.3 2757.1 L1258.0 2757.2 L1260.7 2757.3 L1263.4 2757.3 L1266.1 2757.4 L1268.8 2757.4 L1271.6 2757.5 L1274.3 2757.5 L1277.0 2757.6 L1279.7 2757.6 L1282.4 2757.7 L1285.1 2757.7 L1287.8 2757.8 L1290.5 2757.8 L1293.2 2757.8 L1295.9 2757.9 L1298.7 2757.9 L1301.4 2758.0 L1304.1 2758.0 L1306.8 2758.0 L1309.5 2758.1 L1312.2 2758.1 L1314.9 2758.2 L1317.6 2758.2 L1320.3 2758.2 L1323.0 2758.3 L1325.8 2758.3 L1328.5 2758.3 L1331.2 2758.4 L1333.9 2758.4 L1336.6 2758.4 L1339.3 2758.5 L1342.0 2758.5 L1344.7 2758.5 L1347.4 2758.5 L1350.1 2758.6 L1352.8 2758.6 L1355.6 2758.6 L1358.3 2758.6 L1361.0 2758.7 L1363.7 2758.7 L1366.4 2758.7 L1369.1 2758.7 L1371.8 2758.8 L1374.5 2758.8 L1377.2 2758.8 L1380.0 2758.8 L1382.7 2758.9 L1385.4 2758.9 L1388.1 2758.9 L1390.8 2758.9 L1393.5 2758.9" stroke="#c6c600" stroke-width="4.4"/>
<path d="M310.5 1820.7 L313.2 1823.2 L315.9 1825.8 L318.6 1828.4 L321.3 1831.1 L324.0 1833.9 L326.7 1836.7 L329.4 1839.6 L332.1 1842.5 L334.8 1845.5 L337.5 1848.6 L340.2 1851.7 L342.9 1854.9 L345.6 1858.1 L348.3 1861.5 L351.0 1864.9 L353.7 1868.3 L356.4 1871.9 L359.1 1875.5 L361.8 1879.2 L364.5 1882.9 L367.2 1886.7 L369.9 1890.7 L372.6 1894.6 L375.3 1898.7 L378.0 1902.8 L380.7 1907.0 L383.4 1911.3 L386.1 1915.7 L388.8 1920.2 L391.5 1924.7 L394.2 1929.3 L396.9 1934.1 L399.6 1938.9 L402.3 1943.9 L405.0 1949.0 L407.7 1954.1 L410.4 1959.4 L413.1 1964.7 L415.8 1970.1 L418.5 1975.6 L421.2 1981.2 L423.9 1986.9 L426.6 1992.6 L429.3 1998.4 L432.0 2004.2 L434.7 2010.1 L437.4 2016.1 L440.1 2022.1 L442.8 2028.1 L445.5 2034.2 L448.2 2040.4 L450.9 2046.6 L453.6 2052.9 L456.3 2059.2 L459.0 2065.6 L461.7 2072.0 L464.4 2078.5 L467.1 2085.1 L469.8 2091.7 L472.5 2098.3 L475.2 2105.0 L477.9 2111.7 L480.6 2118.4 L483.3 2125.1 L486.0 2131.9 L488.7 2138.7 L491.4 2145.6 L494.1 2152.5 L496.8 2159.6 L499.5 2166.7 L502.2 2173.9 L504.9 2181.2 L507.6 2188.5 L510.3 2195.8 L513.0 2203.1 L515.7 2210.4 L518.4 2217.8 L521.1 2225.1 L523.8 2232.5 L526.5 2239.8 L529.2 2247.2 L531.9 2254.5 L534.6 2261.8 L537.3 2269.1 L540.0 2276.4 L542.7 2283.7 L545.4 2290.9 L548.1 2298.2 L550.8 2305.4 L553.5 2312.6 L556.2 2319.7 L558.9 2326.8 L561.6 2333.9 L564.3 2340.9 L567.0 2347.9 L569.7 2354.8 L572.4 2361.7 L575.1 2368.5 L577.8 2375.2 L580.5 2381.9 L583.2 2388.5 L585.9 2395.1 L588.6 2401.6 L591.3 2408.1 L594.0 2414.4 L596.8 2420.7 L599.5 2427.0 L602.2 2433.2 L604.9 2439.3 L607.6 2445.3 L610.3 2451.3 L613.0 2457.2 L615.7 2463.0 L618.4 2468.8 L621.2 2474.4 L623.9 2480.0 L626.6 2485.5 L629.3 2491.0 L632.0 2496.4 L634.7 2501.6 L637.4 2506.8 L640.1 2512.0 L642.8 2517.0 L645.5 2522.0 L648.2 2526.8 L651.0 2531.6 L653.7 2536.4 L656.4 2541.0 L659.1 2545.6 L661.8 2550.0 L664.5 2554.4 L667.2 2558.7 L669.9 2563.0 L672.6 2567.1 L675.4 2571.2 L678.1 2575.2 L680.8 2579.1 L683.5 2583.0 L686.2 2586.8 L688.9 2590.5 L691.6 2594.1 L694.3 2597.7 L697.0 2601.2 L699.7 2604.6 L702.5 2607.9 L705.2 2611.2 L707.9 2614.4 L710.6 2617.6 L713.3 2620.6 L716.0 2623.6 L718.7 2626.4 L721.4 2629.2 L724.1 2631.8 L726.8 2634.4 L729.5 2637.0 L732.3 2639.4 L735.0 2641.8 L737.7 2644.2 L740.4 2646.5 L743.1 2648.8 L745.8 2651.1 L748.5 2653.3 L751.2 2655.4 L753.9 2657.5 L756.7 2659.6 L759.4 2661.6 L762.1 2663.6 L764.8 2665.5 L767.5 2667.5 L770.2 2669.4 L772.9 2671.4 L775.6 2673.3 L778.3 2675.2 L781.0 2677.0 L783.8 2678.8 L786.5 2680.5 L789.2 2682.2 L791.9 2683.9 L794.6 2685.5 L797.3 2687.0 L800.0 2688.4 L802.7 2689.8 L805.4 2691.2 L808.1 2692.6 L810.9 2693.9 L813.6 2695.3 L816.3 2696.6 L819.0 2697.8 L821.7 2699.1 L824.4 2700.3 L827.1 2701.5 L829.8 2702.6 L832.5 2703.8 L835.2 2704.9 L838.0 2706.0 L840.7 2707.1 L843.4 2708.2 L846.1 2709.2 L848.8 2710.2 L851.5 2711.3 L854.2 2712.3 L856.9 2713.3 L859.6 2714.3 L862.3 2715.2 L865.0 2716.1 L867.8 2717.1 L870.5 2718.0 L873.2 2718.9 L875.9 2719.7 L878.6 2720.6 L881.3 2721.4 L884.0 2722.2 L886.7 2723.0 L889.4 2723.8 L892.1 2724.6 L894.9 2725.4 L897.6 2726.1 L900.3 2726.9 L903.0 2727.6 L905.7 2728.3 L908.4 2729.0 L911.1 2729.6 L913.8 2730.3 L916.5 2731.0 L919.2 2731.6 L922.0 2732.2 L924.7 2732.8 L927.4 2733.4 L930.1 2734.0 L932.8 2734.6 L935.5 2735.2 L938.2 2735.7 L940.9 2736.3 L943.6 2736.8 L946.4 2737.4 L949.1 2738.0 L951.8 2738.5 L954.5 2739.0 L957.2 2739.6 L959.9 2740.1 L962.6 2740.6 L965.3 2741.1 L968.0 2741.5 L970.7 2742.0 L973.5 2742.4 L976.2 2742.8 L978.9 2743.2 L981.6 2743.6 L984.3 2743.9 L987.0 2744.3 L989.7 2744.6 L992.4 2744.9 L995.1 2745.2 L997.8 2745.5 L1000.6 2745.8 L1003.3 2746.1 L1006.0 2746.4 L1008.7 2746.7 L1011.4 2747.0 L1014.1 2747.3 L1016.8 2747.5 L1019.5 2747.8 L1022.2 2748.0 L1024.9 2748.3 L1027.7 2748.5 L1030.4 2748.7 L1033.1 2749.0 L1035.8 2749.2 L1038.5 2749.4 L1041.2 2749.6 L1043.9 2749.8 L1046.6 2750.0 L1049.3 2750.2 L1052.0 2750.4 L1054.8 2750.6 L1057.5 2750.8 L1060.2 2751.0 L1062.9 2751.1 L1065.6 2751.3 L1068.3 2751.5 L1071.0 2751.6 L1073.7 2751.8 L1076.4 2752.0 L1079.1 2752.1 L1081.8 2752.3 L1084.6 2752.4 L1087.3 2752.5 L1090.0 2752.7 L1092.7 2752.8 L1095.4 2753.0 L1098.1 2753.1 L1100.8 2753.2 L1103.5 2753.3 L1106.2 2753.5 L1109.0 2753.6 L1111.7 2753.7 L1114.4 2753.8 L1117.1 2753.9 L1119.8 2754.0 L1122.5 2754.1 L1125.2 2754.3 L1127.9 2754.4 L1130.6 2754.5 L1133.3 2754.6 L1136.1 2754.7 L1138.8 2754.8 L1141.5 2754.9 L1144.2 2754.9 L1146.9 2755.0 L1149.6 2755.1 L1152.3 2755.2 L1155.0 2755.3 L1157.7 2755.4 L1160.4 2755.5 L1163.2 2755.6 L1165.9 2755.6 L1168.6 2755.7 L1171.3 2755.8 L1174.0 2755.9 L1176.7 2756.0 L1179.4 2756.0 L1182.1 2756.1 L1184.8 2756.2 L1187.5 2756.2 L1190.2 2756.3 L1193.0 2756.4 L1195.7 2756.4 L1198.4 2756.5 L1201.1 2756.6 L1203.8 2756.6 L1206.5 2756.7 L1209.2 2756.7 L1211.9 2756.8 L1214.6 2756.8 L1217.3 2756.9 L1220.1 2756.9 L1222.8 2757.0 L1225.5 2757.0 L1228.2 2757.1 L1230.9 2757.1 L1233.6 2757.2 L1236.3 2757.2 L1239.0 2757.3 L1241.7 2757.3 L1244.5 2757.4 L1247.2 2757.4 L1249.9 2757.4 L1252.6 2757.5 L1255.3 2757.5 L1258.0 2757.6 L1260.7 2757.6 L1263.4 2757.6 L1266.1 2757.7 L1268.8 2757.7 L1271.6 2757.7 L1274.3 2757.8 L1277.0 2757.8 L1279.7 2757.8 L1282.4 2757.9 L1285.1 2757.9 L1287.8 2757.9 L1290.5 2758.0 L1293.2 2758.0 L1295.9 2758.0 L1298.7 2758.0 L1301.4 2758.1 L1304.1 2758.1 L1306.8 2758.1 L1309.5 2758.2 L1312.2 2758.2 L1314.9 2758.2 L1317.6 2758.2 L1320.3 2758.3 L1323.0 2758.3 L1325.8 2758.3 L1328.5 2758.3 L1331.2 2758.4 L1333.9 2758.4 L1336.6 2758.4 L1339.3 2758.5 L1342.0 2758.5 L1344.7 2758.5 L1347.4 2758.5 L1350.1 2758.6 L1352.8 2758.6 L1355.6 2758.6 L1358.3 2758.6 L1361.0 2758.7 L1363.7 2758.7 L1366.4 2758.7 L1369.1 2758.7 L1371.8 2758.7 L1374.5 2758.8 L1377.2 2758.8 L1380.0 2758.8 L1382.7 2758.8 L1385.4 2758.9 L1388.1 2758.9 L1390.8 2758.9 L1393.5 2758.9" stroke="#500000" stroke-width="4.6" stroke-dasharray="16.6 1.6" stroke-dashoffset="1.2"/>
<path d="M310.5 1830.4 L313.2 1833.1 L315.9 1835.9 L318.6 1838.7 L321.3 1841.6 L324.0 1844.5 L326.7 1847.5 L329.4 1850.6 L332.1 1853.7 L334.8 1856.9 L337.5 1860.2 L340.2 1863.5 L342.9 1866.9 L345.6 1870.4 L348.3 1873.9 L351.0 1877.5 L353.7 1881.1 L356.4 1884.9 L359.1 1888.7 L361.8 1892.5 L364.5 1896.5 L367.2 1900.5 L369.9 1904.6 L372.6 1908.7 L375.3 1912.9 L378.0 1917.2 L380.7 1921.6 L383.4 1926.0 L386.1 1930.5 L388.8 1935.1 L391.5 1939.8 L394.2 1944.5 L396.9 1949.3 L399.6 1954.2 L402.3 1959.2 L405.0 1964.3 L407.7 1969.4 L410.4 1974.6 L413.1 1979.9 L415.8 1985.2 L418.5 1990.6 L421.2 1996.1 L423.9 2001.7 L426.6 2007.3 L429.3 2012.9 L432.0 2018.6 L434.7 2024.4 L437.4 2030.2 L440.1 2036.1 L442.8 2042.0 L445.5 2047.9 L448.2 2053.9 L450.9 2059.9 L453.6 2065.9 L456.3 2072.0 L459.0 2078.2 L461.7 2084.4 L464.4 2090.6 L467.1 2096.9 L469.8 2103.2 L472.5 2109.6 L475.2 2116.0 L477.9 2122.4 L480.6 2128.9 L483.3 2135.3 L486.0 2141.8 L488.7 2148.4 L491.4 2155.0 L494.1 2161.7 L496.8 2168.4 L499.5 2175.2 L502.2 2182.1 L504.9 2189.0 L507.6 2196.0 L510.3 2202.9 L513.0 2209.9 L515.7 2216.9 L518.4 2224.0 L521.1 2231.0 L523.8 2238.0 L526.5 2245.1 L529.2 2252.1 L531.9 2259.2 L534.6 2266.2 L537.3 2273.2 L540.0 2280.2 L542.7 2287.2 L545.4 2294.2 L548.1 2301.2 L550.8 2308.1 L553.5 2315.0 L556.2 2321.9 L558.9 2328.8 L561.6 2335.6 L564.3 2342.4 L567.0 2349.2 L569.7 2355.9 L572.4 2362.6 L575.1 2369.2 L577.8 2375.8 L580.5 2382.3 L583.2 2388.8 L585.9 2395.2 L588.6 2401.6 L591.3 2408.0 L594.0 2414.2 L596.8 2420.4 L599.5 2426.6 L602.2 2432.7 L604.9 2438.7 L607.6 2444.7 L610.3 2450.6 L613.0 2456.4 L615.7 2462.2 L618.4 2467.9 L621.2 2473.5 L623.9 2479.1 L626.6 2484.6 L629.3 2490.0 L632.0 2495.3 L634.7 2500.6 L637.4 2505.8 L640.1 2510.9 L642.8 2515.9 L645.5 2520.9 L648.2 2525.7 L651.0 2530.5 L653.7 2535.2 L656.4 2539.9 L659.1 2544.4 L661.8 2548.9 L664.5 2553.3 L667.2 2557.6 L669.9 2561.9 L672.6 2566.0 L675.4 2570.1 L678.1 2574.2 L680.8 2578.1 L683.5 2582.0 L686.2 2585.8 L688.9 2589.5 L691.6 2593.2 L694.3 2596.8 L697.0 2600.3 L699.7 2603.7 L702.5 2607.1 L705.2 2610.4 L707.9 2613.7 L710.6 2616.8 L713.3 2619.9 L716.0 2622.9 L718.7 2625.8 L721.4 2628.5 L724.1 2631.2 L726.8 2633.9 L729.5 2636.4 L732.3 2638.9 L735.0 2641.4 L737.7 2643.8 L740.4 2646.1 L743.1 2648.5 L745.8 2650.8 L748.5 2653.0 L751.2 2655.2 L753.9 2657.3 L756.7 2659.4 L759.4 2661.4 L762.1 2663.4 L764.8 2665.4 L767.5 2667.4 L770.2 2669.4 L772.9 2671.3 L775.6 2673.2 L778.3 2675.1 L781.0 2677.0 L783.8 2678.8 L786.5 2680.5 L789.2 2682.2 L791.9 2683.9 L794.6 2685.5 L797.3 2687.0 L800.0 2688.4 L802.7 2689.8 L805.4 2691.2 L808.1 2692.6 L810.9 2693.9 L813.6 2695.3 L816.3 2696.6 L819.0 2697.8 L821.7 2699.1 L824.4 2700.3 L827.1 2701.5 L829.8 2702.6 L832.5 2703.8 L835.2 2704.9 L838.0 2706.0 L840.7 2707.1 L843.4 2708.1 L846.1 2709.2 L848.8 2710.2 L851.5 2711.3 L854.2 2712.3 L856.9 2713.3 L859.6 2714.3 L862.3 2715.2 L865.0 2716.2 L867.8 2717.1 L870.5 2718.0 L873.2 2718.9 L875.9 2719.7 L878.6 2720.6 L881.3 2721.4 L884.0 2722.3 L886.7 2723.1 L889.4 2723.9 L892.1 2724.6 L894.9 2725.4 L897.6 2726.1 L900.3 2726.9 L903.0 2727.6 L905.7 2728.3 L908.4 2729.0 L911.1 2729.7 L913.8 2730.3 L916.5 2731.0 L919.2 2731.6 L922.0 2732.2 L924.7 2732.8 L927.4 2733.4 L930.1 2734.0 L932.8 2734.6 L935.5 2735.2 L938.2 2735.7 L940.9 2736.3 L943.6 2736.9 L946.4 2737.4 L949.1 2738.0 L951.8 2738.5 L954.5 2739.0 L957.2 2739.6 L959.9 2740.1 L962.6 2740.6 L965.3 2741.1 L968.0 2741.5 L970.7 2742.0 L973.5 2742.4 L976.2 2742.8 L978.9 2743.2 L981.6 2743.6 L984.3 2743.9 L987.0 2744.3 L989.7 2744.6 L992.4 2744.9 L995.1 2745.2 L997.8 2745.5 L1000.6 2745.8 L1003.3 2746.1 L1006.0 2746.4 L1008.7 2746.7 L1011.4 2747.0 L1014.1 2747.3 L1016.8 2747.5 L1019.5 2747.8 L1022.2 2748.0 L1024.9 2748.3 L1027.7 2748.5 L1030.4 2748.7 L1033.1 2749.0 L1035.8 2749.2 L1038.5 2749.4 L1041.2 2749.6 L1043.9 2749.8 L1046.6 2750.0 L1049.3 2750.2 L1052.0 2750.4 L1054.8 2750.6 L1057.5 2750.8 L1060.2 2751.0 L1062.9 2751.1 L1065.6 2751.3 L1068.3 2751.5 L1071.0 2751.6 L1073.7 2751.8 L1076.4 2752.0 L1079.1 2752.1 L1081.8 2752.3 L1084.6 2752.4 L1087.3 2752.5 L1090.0 2752.7 L1092.7 2752.8 L1095.4 2753.0 L1098.1 2753.1 L1100.8 2753.2 L1103.5 2753.3 L1106.2 2753.5 L1109.0 2753.6 L1111.7 2753.7 L1114.4 2753.8 L1117.1 2753.9 L1119.8 2754.0 L1122.5 2754.1 L1125.2 2754.3 L1127.9 2754.4 L1130.6 2754.5 L1133.3 2754.6 L1136.1 2754.7 L1138.8 2754.8 L1141.5 2754.9 L1144.2 2755.0 L1146.9 2755.0 L1149.6 2755.1 L1152.3 2755.2 L1155.0 2755.3 L1157.7 2755.4 L1160.4 2755.5 L1163.2 2755.6 L1165.9 2755.6 L1168.6 2755.7 L1171.3 2755.8 L1174.0 2755.9 L1176.7 2756.0 L1179.4 2756.0 L1182.1 2756.1 L1184.8 2756.2 L1187.5 2756.2 L1190.2 2756.3 L1193.0 2756.4 L1195.7 2756.4 L1198.4 2756.5 L1201.1 2756.6 L1203.8 2756.6 L1206.5 2756.7 L1209.2 2756.7 L1211.9 2756.8 L1214.6 2756.8 L1217.3 2756.9 L1220.1 2756.9 L1222.8 2757.0 L1225.5 2757.0 L1228.2 2757.1 L1230.9 2757.1 L1233.6 2757.2 L1236.3 2757.2 L1239.0 2757.3 L1241.7 2757.3 L1244.5 2757.4 L1247.2 2757.4 L1249.9 2757.4 L1252.6 2757.5 L1255.3 2757.5 L1258.0 2757.6 L1260.7 2757.6 L1263.4 2757.6 L1266.1 2757.7 L1268.8 2757.7 L1271.6 2757.7 L1274.3 2757.8 L1277.0 2757.8 L1279.7 2757.8 L1282.4 2757.9 L1285.1 2757.9 L1287.8 2757.9 L1290.5 2758.0 L1293.2 2758.0 L1295.9 2758.0 L1298.7 2758.0 L1301.4 2758.1 L1304.1 2758.1 L1306.8 2758.1 L1309.5 2758.2 L1312.2 2758.2 L1314.9 2758.2 L1317.6 2758.2 L1320.3 2758.3 L1323.0 2758.3 L1325.8 2758.3 L1328.5 2758.3 L1331.2 2758.4 L1333.9 2758.4 L1336.6 2758.4 L1339.3 2758.5 L1342.0 2758.5 L1344.7 2758.5 L1347.4 2758.5 L1350.1 2758.6 L1352.8 2758.6 L1355.6 2758.6 L1358.3 2758.6 L1361.0 2758.7 L1363.7 2758.7 L1366.4 2758.7 L1369.1 2758.7 L1371.8 2758.7 L1374.5 2758.8 L1377.2 2758.8 L1380.0 2758.8 L1382.7 2758.8 L1385.4 2758.9 L1388.1 2758.9 L1390.8 2758.9 L1393.5 2758.9" stroke="#a85000" stroke-width="4.4"/>
</g>
<path d="M269.5 1709.0V2878.0M227 1710.5H271.0M254 1729.5H271.0M241 1748.5H271.0M254 1768.5H271.0M241 1787.5H271.0M254 1807.5H271.0M241 1826.5H271.0M254 1846.5H271.0M241 1865.5H271.0M254 1884.5H271.0M227 1904.5H271.0M254 1923.5H271.0M241 1943.5H271.0M254 1962.5H271.0M241 1982.5H271.0M254 2001.5H271.0M241 2020.5H271.0M254 2040.5H271.0M241 2059.5H271.0M254 2079.5H271.0M227 2098.5H271.0M254 2118.5H271.0M241 2137.5H271.0M254 2156.5H271.0M241 2176.5H271.0M254 2195.5H271.0M241 2215.5H271.0M254 2234.5H271.0M241 2254.5H271.0M254 2273.5H271.0M227 2293.5H271.0M254 2312.5H271.0M241 2331.5H271.0M254 2351.5H271.0M241 2370.5H271.0M254 2390.5H271.0M241 2409.5H271.0M254 2429.5H271.0M241 2448.5H271.0M254 2467.5H271.0M227 2487.5H271.0M254 2506.5H271.0M241 2526.5H271.0M254 2545.5H271.0M241 2565.5H271.0M254 2584.5H271.0M241 2603.5H271.0M254 2623.5H271.0M241 2642.5H271.0M254 2662.5H271.0M227 2681.5H271.0M254 2701.5H271.0M241 2720.5H271.0M254 2739.5H271.0M241 2759.5H271.0M254 2778.5H271.0M241 2798.5H271.0M254 2817.5H271.0M241 2837.5H271.0M254 2856.5H271.0M227 2876.5H271.0M309.0 2897.5H1395.0M310.5 2896.0V2939M391.5 2896.0V2926M439.5 2896.0V2926M473.5 2896.0V2926M499.5 2896.0V2926M520.5 2896.0V2926M538.5 2896.0V2926M554.5 2896.0V2926M568.5 2896.0V2926M580.5 2896.0V2939M662.5 2896.0V2926M709.5 2896.0V2926M743.5 2896.0V2926M769.5 2896.0V2926M791.5 2896.0V2926M809.5 2896.0V2926M825.5 2896.0V2926M839.5 2896.0V2926M851.5 2896.0V2939M933.5 2896.0V2926M980.5 2896.0V2926M1014.5 2896.0V2926M1040.5 2896.0V2926M1062.5 2896.0V2926M1080.5 2896.0V2926M1096.5 2896.0V2926M1110.5 2896.0V2926M1122.5 2896.0V2939M1204.5 2896.0V2926M1251.5 2896.0V2926M1285.5 2896.0V2926M1311.5 2896.0V2926M1333.5 2896.0V2926M1351.5 2896.0V2926M1367.5 2896.0V2926M1381.5 2896.0V2926M1393.5 2896.0V2939" stroke="#000" stroke-width="3" fill="none" shape-rendering="crispEdges"/>
<text transform="translate(99.0 1726.1) scale(1.095 1)" font-family='"Liberation Serif", serif' font-size="42" fill="#000" text-anchor="start">0.0</text>
<text transform="translate(99.0 1920.1) scale(1.095 1)" font-family='"Liberation Serif", serif' font-size="42" fill="#000" text-anchor="start">-50.0</text>
<text transform="translate(99.0 2114.1) scale(1.095 1)" font-family='"Liberation Serif", serif' font-size="42" fill="#000" text-anchor="start">-100.0</text>
<text transform="translate(99.0 2309.1) scale(1.095 1)" font-family='"Liberation Serif", serif' font-size="42" fill="#000" text-anchor="start">-150.0</text>
<text transform="translate(99.0 2503.1) scale(1.095 1)" font-family='"Liberation Serif", serif' font-size="42" fill="#000" text-anchor="start">-200.0</text>
<text transform="translate(99.0 2697.1) scale(1.095 1)" font-family='"Liberation Serif", serif' font-size="42" fill="#000" text-anchor="start">-250.0</text>
<text transform="translate(99.0 2892.1) scale(1.095 1)" font-family='"Liberation Serif", serif' font-size="42" fill="#000" text-anchor="start">-300.0</text>
<text transform="translate(79.4 2294.0) rotate(-90) scale(1.12 1)" font-family='"Liberation Serif", serif' font-size="42" fill="#000" text-anchor="middle">Phase (deg)</text>
<text transform="translate(275.2 3014.7) scale(1.07 1)" font-family='"Liberation Serif", serif' font-size="42" fill="#000" text-anchor="start">10</text>
<text transform="translate(319.8 2987.9)" font-family='"Liberation Serif", serif' font-size="34" fill="#000" text-anchor="start">-3</text>
<text transform="translate(545.2 3014.7) scale(1.07 1)" font-family='"Liberation Serif", serif' font-size="42" fill="#000" text-anchor="start">10</text>
<text transform="translate(589.8 2987.9)" font-family='"Liberation Serif", serif' font-size="34" fill="#000" text-anchor="start">-2</text>
<text transform="translate(817.5 3014.7) scale(1.07 1)" font-family='"Liberation Serif", serif' font-size="42" fill="#000" text-anchor="start">10</text>
<text transform="translate(862.0 2987.9)" font-family='"Liberation Serif", serif' font-size="34" fill="#000" text-anchor="start">-1</text>
<text transform="translate(1091.8 3014.7) scale(1.07 1)" font-family='"Liberation Serif", serif' font-size="42" fill="#000" text-anchor="start">10</text>
<text transform="translate(1136.2 2987.9)" font-family='"Liberation Serif", serif' font-size="34" fill="#000" text-anchor="start">0</text>
<text transform="translate(1364.0 3014.7) scale(1.07 1)" font-family='"Liberation Serif", serif' font-size="42" fill="#000" text-anchor="start">10</text>
<text transform="translate(1408.5 2987.9)" font-family='"Liberation Serif", serif' font-size="34" fill="#000" text-anchor="start">1</text>
<text transform="translate(851.0 3054.8) scale(1.075 1)" font-family='"Liberation Serif", serif' font-size="42" fill="#000" text-anchor="middle">freq (Hz)</text>
<text font-family='"Liberation Serif", serif' font-size="70" fill="#000"><tspan x="691" y="3152.7">(</tspan><tspan x="713" y="3152.7" font-weight="bold">b</tspan><tspan x="751.5" y="3152.7">)</tspan></text>
<text transform="translate(565.5 1832.5)" font-family='"Liberation Serif", serif' font-size="41" fill="#a80000" text-anchor="start">I</text>
<text transform="translate(564.5 1963.0)" font-family='"Liberation Serif", serif' font-size="41" fill="#005000" text-anchor="start">II</text>
<text transform="translate(564.5 2113.3)" font-family='"Liberation Serif", serif' font-size="41" fill="#0000e6" text-anchor="start">III</text>
<text transform="translate(566.0 2345.5)" font-family='"Liberation Serif", serif' font-size="41" fill="#ff5500" text-anchor="start">IV</text>
<text transform="translate(564.0 2444.0)" font-family='"Liberation Serif", serif' font-size="41" fill="#500000" text-anchor="start">V</text>
</svg></body></html>
